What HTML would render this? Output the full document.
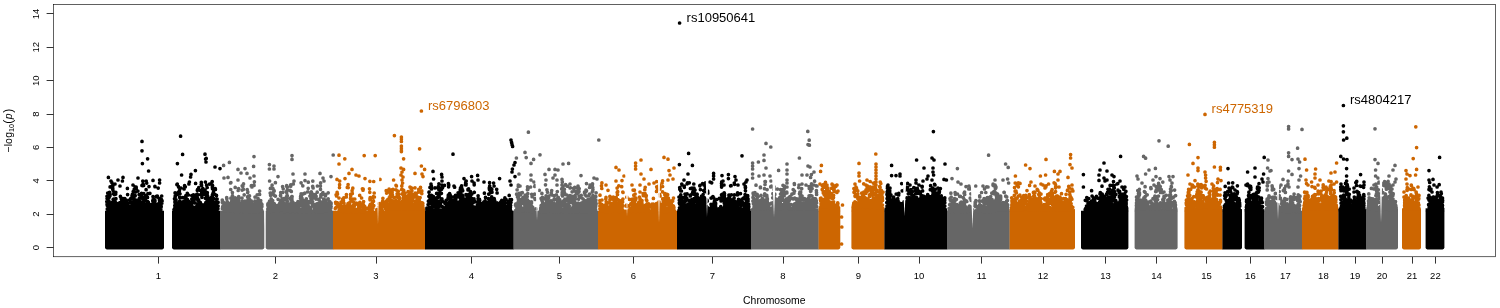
<!DOCTYPE html>
<html><head><meta charset="utf-8"><title>Manhattan plot</title>
<style>html,body{margin:0;padding:0;background:#fff;width:1500px;height:308px;overflow:hidden}</style></head>
<body>
<svg width="1500" height="308" viewBox="0 0 1500 308" style="display:block;position:absolute;left:0;top:0;will-change:transform;opacity:0.999">
<rect x="0" y="0" width="1500" height="308" fill="#fff"/>
<path d="M105.0 210.8V247.6Q105.0 249.4 106.8 249.4H162.2Q164.0 249.4 164.0 247.6V210.8Z" fill="#000000"/>
<path d="M172.0 210.8V247.6Q172.0 249.4 173.8 249.4H220.2V210.8Z" fill="#000000"/>
<path d="M220.0 210.8V249.4H262.4Q264.3 249.4 264.3 247.6V210.8Z" fill="#666666"/>
<path d="M265.7 210.8V247.6Q265.7 249.4 267.6 249.4H333.2V210.8Z" fill="#666666"/>
<path d="M333.0 210.8V249.4H425.2V210.8Z" fill="#CD6600"/>
<path d="M425.0 210.8V249.4H513.8V210.8Z" fill="#000000"/>
<path d="M513.6 210.8V249.4H598.2V210.8Z" fill="#666666"/>
<path d="M598.0 210.8V249.4H677.2V210.8Z" fill="#CD6600"/>
<path d="M677.0 210.8V249.4H751.2V210.8Z" fill="#000000"/>
<path d="M751.0 210.8V249.4H818.8V210.8Z" fill="#666666"/>
<path d="M818.6 210.8V249.4H838.4Q840.3 249.4 840.3 247.6V210.8Z" fill="#CD6600"/>
<path d="M851.4 210.8V247.6Q851.4 249.4 853.2 249.4H884.6V210.8Z" fill="#CD6600"/>
<path d="M884.4 210.8V249.4H947.2V210.8Z" fill="#000000"/>
<path d="M947.0 210.8V249.4H1009.8V210.8Z" fill="#666666"/>
<path d="M1009.6 210.8V249.4H1073.2Q1075.0 249.4 1075.0 247.6V210.8Z" fill="#CD6600"/>
<path d="M1081.0 210.8V247.6Q1081.0 249.4 1082.8 249.4H1126.6Q1128.4 249.4 1128.4 247.6V210.8Z" fill="#000000"/>
<path d="M1134.6 210.8V247.6Q1134.6 249.4 1136.4 249.4H1175.8Q1177.6 249.4 1177.6 247.6V210.8Z" fill="#666666"/>
<path d="M1184.4 210.8V247.6Q1184.4 249.4 1186.2 249.4H1222.6V210.8Z" fill="#CD6600"/>
<path d="M1222.4 210.8V249.4H1240.2Q1242.0 249.4 1242.0 247.6V210.8Z" fill="#000000"/>
<path d="M1244.6 210.8V247.6Q1244.6 249.4 1246.4 249.4H1264.6V210.8Z" fill="#000000"/>
<path d="M1264.4 210.8V249.4H1302.2V210.8Z" fill="#666666"/>
<path d="M1302.0 210.8V249.4H1338.6V210.8Z" fill="#CD6600"/>
<path d="M1338.4 210.8V249.4H1366.2V210.8Z" fill="#000000"/>
<path d="M1366.0 210.8V249.4H1396.2Q1398.0 249.4 1398.0 247.6V210.8Z" fill="#666666"/>
<path d="M1402.0 210.8V247.6Q1402.0 249.4 1403.8 249.4H1419.2Q1421.0 249.4 1421.0 247.6V210.8Z" fill="#CD6600"/>
<path d="M1425.6 210.8V247.6Q1425.6 249.4 1427.4 249.4H1442.6Q1444.4 249.4 1444.4 247.6V210.8Z" fill="#000000"/>
<rect x="385.0" y="208.3" width="40.0" height="3.0" fill="#CD6600"/>
<rect x="751.0" y="208.3" width="67.6" height="3.0" fill="#666666"/>
<rect x="818.6" y="206.6" width="21.7" height="4.7" fill="#CD6600"/>
<rect x="851.4" y="206.6" width="33.0" height="4.7" fill="#CD6600"/>
<rect x="884.4" y="208.3" width="62.6" height="3.0" fill="#000000"/>
<rect x="995.0" y="209.1" width="14.6" height="2.2" fill="#666666"/>
<rect x="1009.6" y="209.1" width="65.4" height="2.2" fill="#CD6600"/>
<rect x="1097.0" y="207.5" width="31.4" height="3.8" fill="#000000"/>
<rect x="1134.6" y="208.3" width="43.0" height="3.0" fill="#666666"/>
<rect x="1184.4" y="207.1" width="38.0" height="4.2" fill="#CD6600"/>
<rect x="1222.4" y="209.1" width="19.6" height="2.2" fill="#000000"/>
<rect x="1244.6" y="209.1" width="19.8" height="2.2" fill="#000000"/>
<rect x="1302.0" y="208.3" width="36.4" height="3.0" fill="#CD6600"/>
<rect x="1338.4" y="209.1" width="27.6" height="2.2" fill="#000000"/>
<rect x="1366.0" y="208.8" width="32.0" height="2.5" fill="#666666"/>
<rect x="1402.0" y="208.3" width="19.0" height="3.0" fill="#CD6600"/>
<rect x="1425.6" y="208.3" width="18.8" height="3.0" fill="#000000"/>
<path d="M124.8 206.5h0M124.8 207.1h0M111.9 209.3h0M160.8 209.8h0M113.4 209.2h0M113.6 209.8h0M144.5 204.3h0M145.5 208.1h0M145.3 208.5h0M155.3 209.3h0M143.8 202.3h0M110.1 186.9h0M109.5 192.4h0M109.9 202.6h0M154.6 201.0h0M154.7 202.8h0M154.8 207.1h0M127.3 211.3h0M115.2 199.4h0M115.3 202.1h0M115.1 203.3h0M153.8 206.8h0M112.5 203.3h0M108.1 203.9h0M108.2 210.8h0M161.0 207.3h0M125.1 210.3h0M131.6 211.6h0M117.7 208.7h0M151.1 205.8h0M151.5 207.0h0M114.9 211.5h0M158.5 210.8h0M121.2 198.8h0M121.6 206.9h0M156.9 211.1h0M116.4 209.6h0M122.2 207.4h0M159.0 208.0h0M158.8 209.2h0M120.2 209.1h0M143.4 210.9h0M130.7 198.6h0M130.7 206.0h0M130.7 202.3h0M141.4 194.4h0M141.9 197.2h0M141.5 197.2h0M114.0 211.1h0M111.8 209.3h0M158.7 209.0h0M131.9 207.9h0M115.8 192.3h0M115.9 198.7h0M115.7 194.1h0M120.7 209.7h0M112.7 206.4h0M109.9 195.0h0M110.0 195.8h0M153.4 206.8h0M121.4 211.5h0M121.2 211.5h0M134.7 203.4h0M134.9 208.1h0M109.2 197.3h0M109.4 208.8h0M108.9 200.9h0M142.4 210.5h0M139.1 209.2h0M139.1 210.5h0M153.1 208.7h0M143.3 208.0h0M121.5 201.7h0M121.2 202.4h0M115.0 208.1h0M114.9 208.6h0M145.1 203.9h0M145.8 205.9h0M107.8 210.4h0M159.1 205.1h0M119.6 202.9h0M134.0 197.2h0M153.3 211.2h0M153.0 210.8h0M127.5 210.9h0M147.7 203.2h0M147.9 204.8h0M147.9 204.8h0M134.3 211.0h0M111.9 182.7h0M111.9 202.7h0M129.7 199.9h0M122.2 198.6h0M121.9 201.5h0M121.9 201.2h0M159.6 210.0h0M146.1 206.9h0M128.5 210.4h0M146.8 209.9h0M119.7 206.4h0M120.8 207.3h0M135.9 200.2h0M135.1 203.5h0M142.5 202.7h0M142.7 202.9h0M142.4 209.0h0M142.2 205.4h0M143.8 193.7h0M143.9 204.3h0M147.7 201.7h0M148.2 204.0h0M134.3 202.2h0M135.0 206.8h0M134.4 204.4h0M109.7 205.8h0M109.8 210.1h0M109.6 210.1h0M109.9 205.8h0M122.3 211.1h0M122.0 211.6h0M133.0 210.6h0M132.6 211.0h0M108.8 210.6h0M148.6 208.8h0M119.8 211.4h0M134.1 200.9h0M133.8 204.5h0M134.5 201.7h0M134.1 203.0h0M133.9 201.6h0M108.7 204.6h0M108.3 205.5h0M108.7 210.0h0M108.4 207.0h0M144.1 210.6h0M153.4 208.1h0M153.6 210.7h0M120.4 210.9h0M151.6 211.5h0M131.7 210.1h0M139.8 202.0h0M118.1 208.4h0M144.4 197.6h0M144.1 198.6h0M144.6 206.9h0M111.9 209.3h0M126.6 210.7h0M118.1 211.0h0M127.4 188.4h0M127.6 194.6h0M127.6 203.4h0M113.9 211.5h0M158.1 211.0h0M119.1 210.6h0M113.7 209.6h0M137.9 191.1h0M140.0 206.0h0M139.9 211.4h0M141.1 202.5h0M141.1 208.4h0M141.3 203.6h0M111.9 203.5h0M149.9 193.3h0M150.3 211.1h0M149.8 208.8h0M117.6 207.2h0M126.3 200.0h0M126.2 206.4h0M115.8 209.2h0M116.0 210.3h0M136.2 205.2h0M136.6 208.0h0M126.8 201.8h0M120.9 211.5h0M135.2 187.2h0M135.1 187.2h0M126.6 208.2h0M114.3 194.6h0M142.1 210.1h0M142.6 211.2h0M149.9 207.9h0M117.9 207.4h0M118.0 210.8h0M123.5 210.9h0M147.9 193.7h0M147.5 197.4h0M148.3 210.6h0M121.5 211.2h0M119.9 211.3h0M143.6 206.9h0M143.7 210.2h0M144.0 207.6h0M143.7 207.9h0M158.2 188.1h0M145.2 209.4h0M139.5 210.4h0M112.8 185.2h0M112.4 186.2h0M112.8 186.1h0M112.6 188.7h0M113.0 190.3h0M112.8 188.2h0M146.4 204.5h0M146.0 209.4h0M146.6 208.4h0M154.5 209.2h0M118.0 211.4h0M122.5 209.4h0M142.1 210.1h0M142.1 210.4h0M156.7 205.5h0M148.6 206.4h0M116.2 210.0h0M132.4 194.3h0M132.0 195.9h0M132.2 196.9h0M132.7 195.9h0M125.0 211.5h0M160.1 205.6h0M160.2 210.1h0M159.6 205.9h0M145.2 208.8h0M140.2 209.7h0M154.0 208.8h0M120.7 206.7h0M115.7 211.3h0M138.6 209.5h0M113.6 199.2h0M113.3 199.3h0M145.5 195.6h0M145.6 210.4h0M145.5 200.2h0M145.6 209.4h0M151.6 206.9h0M123.1 198.5h0M123.1 202.9h0M123.4 200.4h0M107.0 196.3h0M106.8 201.5h0M126.9 209.7h0M143.1 184.0h0M143.6 185.5h0M142.8 185.7h0M156.1 210.1h0M119.8 203.1h0M119.7 209.3h0M134.4 209.9h0M134.1 210.6h0M108.4 209.2h0M108.3 209.5h0M154.5 206.9h0M152.6 210.4h0M160.8 208.8h0M109.1 210.9h0M123.5 201.2h0M123.1 210.2h0M123.2 203.4h0M123.0 211.3h0M123.6 202.2h0M116.9 210.0h0M158.5 204.8h0M151.7 211.1h0M128.3 211.2h0M107.1 198.4h0M154.9 186.3h0M155.0 186.7h0M154.8 199.9h0M147.2 208.7h0M142.8 181.1h0M142.8 199.2h0M133.7 205.3h0M130.0 210.1h0M130.4 210.7h0M125.2 211.5h0M156.4 196.4h0M156.7 204.5h0M109.2 210.3h0M151.5 210.5h0M137.5 201.5h0M137.5 204.2h0M148.4 202.3h0M148.9 210.2h0M148.0 209.0h0M133.2 191.5h0M132.9 195.7h0M135.5 192.0h0M135.3 201.2h0M150.4 205.4h0M151.0 205.7h0M133.7 203.2h0M133.7 203.5h0M133.8 205.2h0M133.9 203.7h0M134.0 210.7h0M157.2 208.4h0M159.9 208.0h0M160.8 209.6h0M159.7 210.3h0M159.9 208.4h0M156.8 209.5h0M157.1 210.9h0M124.8 198.5h0M124.6 199.9h0M144.3 207.6h0M158.2 211.2h0M153.4 202.1h0M153.8 204.4h0M153.3 202.6h0M153.1 203.5h0M155.0 200.9h0M154.7 202.6h0M113.2 193.6h0M113.1 199.5h0M118.0 211.6h0M156.4 207.8h0M107.0 203.9h0M107.2 205.3h0M146.2 181.0h0M146.7 183.1h0M146.1 189.7h0M139.1 194.5h0M138.6 209.8h0M139.4 198.2h0M134.1 211.0h0M139.7 207.5h0M152.0 204.5h0M151.9 211.1h0M136.2 187.2h0M136.2 188.2h0M108.5 207.3h0M140.0 207.6h0M134.1 196.3h0M134.7 204.5h0M154.5 208.1h0M152.5 205.7h0M152.7 209.4h0M153.1 210.9h0M157.3 209.6h0M157.6 210.3h0M160.5 211.2h0M120.7 206.4h0M113.5 211.4h0M114.1 200.8h0M114.2 208.0h0M153.3 208.1h0M132.8 194.5h0M132.7 194.6h0M132.9 198.5h0M137.6 203.7h0M137.5 204.4h0M128.3 207.9h0M128.3 209.5h0M140.9 210.4h0M141.4 210.4h0M160.1 206.1h0M128.1 210.1h0M111.7 204.5h0M111.7 209.6h0M111.7 205.0h0M138.1 211.1h0M135.9 205.4h0M135.8 210.8h0M161.0 203.6h0M161.2 206.7h0M160.8 210.1h0M161.0 205.4h0M150.4 207.2h0M150.0 209.2h0M121.6 207.7h0M121.6 209.2h0M116.3 210.4h0M116.4 210.5h0M149.5 207.6h0M149.8 208.6h0M126.1 200.1h0M125.9 202.8h0M126.7 200.5h0M125.9 203.6h0M140.2 207.2h0M119.1 210.8h0M137.9 207.7h0M138.0 208.9h0M120.4 196.4h0M143.6 199.9h0M121.8 198.7h0M121.5 202.7h0M121.2 210.4h0M118.4 203.4h0M121.3 208.3h0M121.4 210.5h0M135.2 203.4h0M135.1 206.8h0M135.4 207.9h0M153.9 206.7h0M154.0 209.9h0M153.8 207.3h0M113.8 203.7h0M114.0 206.6h0M113.6 203.9h0M113.4 207.6h0M113.6 208.6h0M120.6 205.1h0M115.8 204.1h0M124.0 200.8h0M123.9 206.1h0M123.8 200.8h0M153.0 196.5h0M153.4 199.1h0M153.3 198.7h0M157.4 196.2h0M157.7 197.1h0M157.4 207.0h0M141.6 193.3h0M141.0 206.5h0M141.4 193.7h0M141.1 196.1h0M137.1 208.8h0M124.0 209.5h0M131.5 199.0h0M131.2 206.6h0M137.2 200.4h0M137.6 203.6h0M137.2 204.5h0M137.3 203.5h0M137.1 202.5h0M113.1 206.9h0M112.8 207.0h0M161.7 196.0h0M161.5 202.2h0M161.8 203.2h0M107.3 208.9h0M107.4 211.5h0M153.3 201.0h0M152.8 204.7h0M117.1 204.5h0M116.7 204.9h0M134.2 189.3h0M133.8 200.0h0M115.9 211.3h0M131.2 207.7h0M131.1 211.5h0M115.9 206.5h0M115.8 207.3h0M160.6 210.7h0M133.4 197.1h0M133.3 199.0h0M111.6 205.4h0M111.3 210.0h0M111.8 206.5h0M137.2 209.8h0M136.2 207.1h0M136.8 208.2h0M135.2 195.7h0M131.2 207.9h0M152.8 200.5h0M152.8 201.1h0M107.7 193.0h0M108.0 200.6h0M107.6 205.5h0M107.7 196.8h0M152.5 205.4h0M152.0 206.4h0M113.1 206.9h0M151.1 204.5h0M159.3 198.7h0M159.5 200.5h0M158.9 203.3h0M159.6 204.6h0M128.6 205.7h0M139.4 200.5h0M139.8 204.5h0M139.4 204.2h0M108.0 211.5h0M144.0 203.5h0M144.9 210.4h0M108.7 210.0h0M123.7 209.7h0M161.5 199.5h0M162.1 200.9h0M131.9 204.8h0M131.9 208.1h0M123.9 207.9h0M123.1 209.7h0M110.6 210.4h0M121.7 202.1h0M147.4 205.5h0M147.3 207.4h0M118.6 209.8h0M118.5 210.4h0M125.3 205.4h0M109.9 207.7h0M115.5 208.4h0M121.1 209.9h0M121.0 211.2h0M120.7 210.0h0M149.7 211.5h0M114.3 207.3h0M114.5 208.8h0M115.8 208.6h0M115.8 209.7h0M142.5 209.9h0M187.1 202.0h0M212.1 203.3h0M211.7 209.4h0M200.3 208.2h0M217.0 210.5h0M204.1 204.8h0M204.2 207.3h0M203.7 205.2h0M204.1 211.3h0M178.5 211.5h0M179.9 200.8h0M206.6 185.2h0M207.2 187.5h0M206.4 197.3h0M185.9 195.6h0M196.4 207.9h0M204.3 207.8h0M205.2 207.9h0M200.9 194.4h0M211.2 210.5h0M206.9 207.4h0M197.2 206.9h0M197.4 209.8h0M205.8 202.7h0M214.9 207.6h0M213.5 191.9h0M213.0 193.4h0M213.7 194.5h0M209.4 202.1h0M209.6 208.0h0M190.1 202.6h0M190.2 202.8h0M176.4 207.6h0M177.9 209.8h0M177.6 210.2h0M209.8 205.6h0M210.0 209.9h0M190.7 207.2h0M211.0 206.9h0M175.6 207.9h0M175.3 210.2h0M177.3 184.0h0M177.2 194.5h0M176.9 184.6h0M204.5 208.2h0M186.0 197.6h0M185.8 198.1h0M176.2 205.4h0M176.5 207.5h0M176.1 207.7h0M176.0 210.8h0M200.1 211.2h0M202.2 209.9h0M195.9 206.9h0M196.0 209.0h0M208.6 206.1h0M208.7 207.6h0M208.6 206.6h0M210.9 202.5h0M211.0 206.1h0M209.3 200.3h0M209.1 207.6h0M208.8 201.2h0M192.9 198.0h0M214.8 211.2h0M195.8 196.7h0M195.8 198.1h0M195.9 199.0h0M200.4 204.9h0M200.3 208.6h0M193.8 208.0h0M200.2 190.3h0M202.5 205.0h0M202.8 206.7h0M212.5 188.7h0M212.4 194.9h0M194.6 207.7h0M182.9 202.6h0M182.9 210.4h0M204.4 208.2h0M213.3 205.0h0M213.3 207.6h0M204.5 204.9h0M204.7 205.7h0M184.7 207.0h0M184.7 209.0h0M217.1 210.2h0M206.9 210.5h0M206.7 211.6h0M211.0 201.4h0M204.2 205.7h0M204.6 205.9h0M192.4 202.2h0M201.3 182.3h0M201.8 192.8h0M201.4 184.2h0M201.6 185.2h0M201.2 184.6h0M213.3 210.9h0M213.6 210.9h0M185.0 197.2h0M184.9 206.2h0M185.2 202.6h0M203.1 205.5h0M203.4 206.0h0M193.7 210.9h0M213.3 208.3h0M191.2 206.3h0M191.8 211.3h0M203.8 211.4h0M180.0 210.1h0M176.2 205.6h0M176.5 210.9h0M178.7 205.8h0M208.3 199.8h0M207.9 202.7h0M208.9 206.7h0M208.2 202.9h0M208.0 210.4h0M207.5 211.1h0M203.9 209.1h0M189.0 209.0h0M213.8 198.6h0M213.7 206.5h0M213.6 203.3h0M208.8 199.7h0M209.1 210.9h0M208.8 208.4h0M208.9 208.2h0M209.0 202.1h0M178.0 211.5h0M180.0 193.8h0M180.2 209.9h0M180.1 202.9h0M188.9 204.8h0M175.1 201.3h0M174.9 207.9h0M188.4 195.0h0M194.0 209.5h0M186.4 209.7h0M198.7 211.5h0M199.0 211.6h0M201.9 197.3h0M209.5 184.1h0M208.3 211.6h0M205.3 211.5h0M205.4 211.6h0M205.2 211.6h0M175.8 204.1h0M175.8 206.2h0M176.4 208.5h0M178.5 186.7h0M178.9 192.0h0M178.7 187.2h0M178.1 192.5h0M205.5 208.9h0M200.4 202.6h0M206.7 196.7h0M206.3 197.2h0M184.5 202.1h0M185.0 203.6h0M184.6 203.1h0M209.6 203.6h0M209.8 211.0h0M198.0 200.5h0M179.3 201.7h0M217.1 199.0h0M216.8 203.3h0M217.1 202.4h0M216.9 207.6h0M178.9 208.4h0M214.3 207.6h0M214.5 210.3h0M214.1 210.9h0M214.5 208.5h0M193.5 209.0h0M193.4 211.6h0M193.5 211.4h0M208.2 210.2h0M210.4 208.7h0M191.9 209.3h0M183.3 210.5h0M175.1 192.8h0M175.3 203.6h0M175.2 196.1h0M175.1 192.9h0M175.2 196.9h0M195.7 207.1h0M195.8 208.1h0M187.3 209.3h0M175.2 202.3h0M175.7 202.4h0M175.4 204.2h0M203.1 206.6h0M178.2 205.6h0M178.1 206.2h0M174.5 198.8h0M174.8 205.6h0M178.8 208.9h0M178.8 210.9h0M202.3 210.0h0M202.1 210.2h0M205.4 198.2h0M205.5 203.5h0M189.8 211.2h0M183.7 208.0h0M212.2 181.6h0M212.3 187.1h0M212.3 185.1h0M212.6 185.7h0M179.2 202.8h0M202.8 188.3h0M202.4 194.6h0M202.5 189.7h0M209.5 209.7h0M209.1 210.5h0M183.5 201.7h0M183.7 209.7h0M203.9 211.0h0M218.1 202.3h0M218.1 206.1h0M190.4 209.4h0M198.7 187.7h0M216.4 199.1h0M216.6 201.6h0M216.7 204.6h0M192.0 209.0h0M192.1 209.5h0M191.9 209.2h0M212.4 207.6h0M213.2 210.2h0M216.5 195.4h0M216.5 206.2h0M190.1 206.9h0M189.6 207.0h0M202.5 211.4h0M216.4 202.4h0M216.7 204.8h0M216.4 204.7h0M216.5 203.8h0M191.8 195.6h0M192.0 200.8h0M192.1 195.7h0M192.0 205.9h0M216.5 210.5h0M211.5 205.2h0M197.5 195.9h0M185.6 211.5h0M215.3 188.6h0M215.2 194.6h0M215.4 189.4h0M181.0 208.7h0M198.7 199.9h0M198.5 207.9h0M182.3 210.3h0M182.4 197.6h0M182.3 202.7h0M197.5 189.7h0M197.3 199.1h0M213.8 204.3h0M213.4 206.6h0M208.0 209.5h0M208.2 210.4h0M176.0 199.7h0M175.7 200.9h0M176.0 203.9h0M205.6 208.6h0M191.0 203.0h0M190.9 208.9h0M190.3 211.2h0M202.1 190.9h0M201.9 196.7h0M176.9 210.0h0M191.3 211.2h0M210.8 200.6h0M211.1 201.8h0M184.6 185.7h0M184.1 188.9h0M184.7 197.9h0M184.9 187.0h0M185.3 186.8h0M184.5 201.1h0M185.2 211.5h0M210.3 205.0h0M210.5 209.3h0M210.1 208.9h0M183.9 206.0h0M207.3 203.0h0M207.3 210.1h0M207.4 206.7h0M211.2 210.1h0M188.9 183.9h0M206.7 206.8h0M206.4 210.2h0M212.6 197.5h0M212.4 201.6h0M213.0 201.6h0M179.4 190.5h0M179.3 191.4h0M179.6 197.3h0M189.6 209.8h0M188.4 201.1h0M182.0 207.9h0M181.3 208.1h0M198.7 208.7h0M177.9 204.8h0M177.9 211.5h0M177.4 206.6h0M182.8 209.6h0M193.5 194.9h0M193.7 200.5h0M202.1 204.8h0M201.8 206.4h0M187.3 193.3h0M187.5 199.7h0M182.0 206.5h0M182.1 207.2h0M189.5 205.1h0M199.2 210.6h0M190.1 210.2h0M175.0 207.0h0M188.6 208.5h0M197.7 204.7h0M204.4 191.8h0M204.9 194.2h0M176.4 209.7h0M207.2 211.4h0M179.4 209.5h0M181.0 208.5h0M181.8 205.0h0M197.3 190.3h0M197.2 194.0h0M197.9 194.9h0M197.5 197.8h0M192.2 208.1h0M192.6 211.0h0M192.2 211.6h0M207.4 205.7h0M180.5 208.1h0M180.6 209.2h0M185.2 206.4h0M184.8 209.4h0M215.6 206.3h0M216.0 207.7h0M197.8 198.8h0M175.3 196.2h0M174.9 202.0h0M206.2 210.8h0M209.9 201.0h0M194.8 202.9h0M194.4 209.9h0M211.7 197.0h0M212.1 202.7h0M211.6 198.6h0M191.8 199.1h0M191.4 203.3h0M198.4 205.3h0M198.6 208.7h0M198.4 206.5h0M186.4 208.0h0M198.4 203.4h0M199.1 203.9h0M198.6 208.5h0M198.3 211.2h0M197.8 203.5h0M198.7 211.6h0M198.4 205.3h0M210.7 210.8h0M211.0 211.4h0M210.6 197.8h0M210.2 201.9h0M217.9 208.7h0M206.0 205.2h0M205.4 206.8h0M180.5 209.0h0M180.5 209.5h0M192.6 208.3h0M183.7 210.5h0M183.9 211.2h0M183.8 211.4h0M196.5 194.6h0M205.1 190.0h0M211.4 200.0h0M196.3 197.3h0M195.9 207.4h0M196.5 198.2h0M213.8 202.2h0M185.6 202.2h0M185.6 202.8h0M186.3 209.4h0M178.3 203.0h0M178.3 209.1h0M179.5 209.4h0M188.1 208.2h0M188.4 211.2h0M174.0 209.6h0M205.6 205.6h0M175.7 210.8h0M190.4 205.2h0M182.1 203.5h0M181.9 210.1h0M182.2 208.2h0M205.2 207.0h0M205.1 211.1h0M207.3 192.6h0M207.5 195.6h0M207.2 193.2h0M206.9 199.5h0M209.5 198.5h0M208.8 201.4h0M209.3 204.6h0M212.3 201.2h0M212.8 204.2h0M212.0 204.9h0M211.6 201.4h0M211.7 209.7h0M185.2 205.7h0M190.3 204.7h0M190.1 204.9h0M186.9 210.7h0M188.1 204.6h0M188.0 206.8h0M188.4 208.7h0M213.8 211.5h0M185.8 207.0h0M190.7 208.7h0M190.7 209.7h0M439.2 211.5h0M440.0 210.8h0M439.7 210.9h0M446.7 204.2h0M447.1 205.5h0M446.5 209.6h0M446.6 206.1h0M446.5 209.9h0M439.7 211.4h0M476.7 207.2h0M476.7 209.3h0M467.6 211.2h0M468.0 189.3h0M468.0 190.0h0M467.6 196.4h0M484.9 205.9h0M448.1 197.3h0M451.3 207.2h0M451.4 210.8h0M451.1 210.1h0M451.1 208.5h0M468.6 210.8h0M436.6 193.4h0M496.8 209.0h0M496.9 211.6h0M449.6 193.5h0M447.0 200.1h0M446.7 210.6h0M446.5 208.8h0M438.9 183.8h0M439.0 205.1h0M438.8 187.5h0M438.8 189.6h0M459.5 206.2h0M465.4 184.7h0M465.6 199.1h0M462.3 195.0h0M462.4 202.8h0M461.8 208.3h0M462.2 195.2h0M497.3 210.7h0M486.1 205.3h0M486.2 210.4h0M485.7 211.6h0M465.4 210.9h0M448.7 210.3h0M493.2 204.6h0M493.2 207.9h0M485.7 209.8h0M435.0 187.9h0M435.2 202.8h0M502.7 211.0h0M456.5 210.7h0M493.6 210.1h0M449.1 208.6h0M493.0 205.6h0M471.1 209.8h0M497.9 207.7h0M466.1 202.2h0M478.1 198.8h0M478.4 203.9h0M479.7 207.8h0M479.6 209.7h0M462.3 205.6h0M462.4 205.9h0M462.6 210.8h0M438.4 202.8h0M438.7 205.2h0M455.5 195.4h0M455.9 197.0h0M434.1 209.9h0M434.1 210.0h0M433.8 210.8h0M457.7 208.6h0M457.8 211.0h0M454.1 196.9h0M454.1 208.9h0M454.2 204.7h0M453.4 206.0h0M431.1 185.7h0M431.4 195.3h0M431.4 187.0h0M431.5 189.0h0M431.3 186.6h0M447.5 203.9h0M448.2 205.8h0M447.5 207.5h0M435.7 202.2h0M469.4 208.0h0M487.0 203.8h0M486.4 210.0h0M428.1 204.5h0M445.8 206.9h0M445.8 207.3h0M445.5 210.0h0M446.1 207.6h0M503.7 209.8h0M485.1 200.8h0M455.9 196.1h0M455.8 199.6h0M477.2 202.0h0M480.3 211.0h0M480.8 211.1h0M448.5 204.9h0M433.1 201.8h0M433.1 204.4h0M433.2 210.2h0M433.0 202.9h0M436.7 204.6h0M436.4 206.6h0M436.6 206.5h0M445.4 211.2h0M471.5 206.0h0M471.9 206.6h0M452.8 205.5h0M488.9 204.4h0M488.7 207.4h0M442.6 187.6h0M446.7 209.6h0M488.4 205.2h0M488.4 206.9h0M488.3 208.4h0M453.2 204.1h0M453.2 208.1h0M490.3 205.7h0M490.2 207.7h0M446.3 208.6h0M439.4 205.7h0M439.3 209.5h0M438.1 204.5h0M438.0 204.8h0M436.2 202.6h0M438.8 201.4h0M434.9 206.4h0M434.4 211.3h0M506.1 199.6h0M462.2 207.3h0M461.8 209.7h0M454.4 207.2h0M468.3 201.6h0M478.8 208.8h0M464.2 210.3h0M470.5 206.5h0M470.5 210.9h0M470.5 208.5h0M438.4 210.8h0M462.3 210.6h0M477.9 201.8h0M478.0 206.4h0M496.9 206.7h0M494.6 202.0h0M494.4 202.1h0M454.3 201.1h0M454.2 211.4h0M458.4 206.6h0M458.6 210.9h0M442.7 211.5h0M442.3 211.5h0M499.6 209.6h0M499.8 211.5h0M429.9 196.4h0M430.1 208.0h0M430.0 198.3h0M460.7 209.7h0M467.2 209.5h0M467.6 211.6h0M475.1 209.8h0M473.3 211.6h0M456.3 211.0h0M482.1 203.7h0M482.1 205.3h0M481.8 207.4h0M497.5 204.6h0M497.1 206.3h0M497.5 209.2h0M507.3 207.3h0M506.8 210.7h0M474.0 198.9h0M474.0 200.7h0M474.1 201.4h0M473.6 200.6h0M493.9 209.2h0M476.7 209.6h0M485.5 197.4h0M428.5 210.4h0M428.6 211.2h0M457.7 210.2h0M507.9 208.9h0M508.1 209.4h0M508.0 211.2h0M448.0 206.1h0M447.5 208.3h0M429.8 199.8h0M450.1 211.0h0M501.6 210.2h0M471.0 207.7h0M471.4 207.9h0M491.8 189.2h0M492.0 192.2h0M504.3 202.4h0M504.2 206.9h0M447.2 209.2h0M472.3 202.7h0M472.8 203.0h0M472.6 203.0h0M450.0 204.9h0M450.2 209.0h0M463.6 208.4h0M463.9 209.8h0M482.7 207.5h0M482.5 208.4h0M494.1 206.4h0M494.3 206.9h0M455.7 203.1h0M455.9 210.5h0M449.5 195.7h0M449.7 208.4h0M479.7 202.8h0M461.7 201.1h0M461.9 203.4h0M461.7 203.8h0M465.5 204.4h0M426.9 208.0h0M426.9 210.0h0M426.9 209.5h0M426.9 208.6h0M481.0 210.8h0M436.8 208.0h0M436.4 209.6h0M446.2 200.3h0M430.0 187.4h0M429.6 195.3h0M467.1 209.2h0M467.5 209.6h0M436.3 202.6h0M436.6 208.2h0M450.5 202.3h0M470.9 210.2h0M494.2 198.6h0M494.6 200.9h0M494.7 200.5h0M441.4 193.3h0M441.3 199.6h0M441.4 210.3h0M507.1 208.0h0M506.9 210.8h0M511.0 202.3h0M510.6 205.4h0M461.3 206.1h0M461.3 209.4h0M461.2 207.7h0M438.0 204.9h0M437.8 208.8h0M437.8 207.8h0M437.8 209.4h0M483.2 209.4h0M437.6 206.0h0M437.7 206.8h0M429.1 202.8h0M429.1 207.3h0M457.4 202.1h0M433.9 198.9h0M433.4 200.2h0M433.7 201.2h0M508.0 210.3h0M508.1 211.3h0M503.2 204.8h0M502.6 207.2h0M503.3 209.4h0M503.0 206.9h0M503.2 205.6h0M435.7 198.1h0M435.9 203.5h0M435.6 202.6h0M510.4 207.4h0M510.2 207.8h0M504.4 205.8h0M504.3 206.1h0M454.6 208.0h0M488.7 205.4h0M488.1 208.1h0M459.9 207.4h0M459.9 209.1h0M452.3 211.2h0M460.5 192.8h0M460.0 197.5h0M459.8 194.3h0M461.1 197.7h0M460.2 208.5h0M502.0 207.6h0M483.8 210.8h0M448.4 210.2h0M448.9 211.6h0M444.5 210.5h0M497.7 210.7h0M467.9 203.5h0M473.6 206.9h0M458.5 206.9h0M458.1 208.5h0M497.1 208.1h0M488.3 202.4h0M488.2 208.1h0M488.6 210.8h0M451.1 196.5h0M445.2 209.1h0M427.1 211.4h0M427.7 210.0h0M448.2 203.7h0M448.3 207.2h0M448.5 204.8h0M447.8 207.2h0M482.0 211.6h0M460.4 206.1h0M467.0 210.7h0M466.9 211.1h0M509.3 207.9h0M509.6 210.1h0M509.2 210.2h0M509.6 211.1h0M477.6 204.4h0M477.2 205.4h0M477.5 209.3h0M440.3 192.5h0M440.0 194.0h0M440.5 203.8h0M433.9 211.6h0M501.2 209.0h0M496.7 189.3h0M497.1 192.9h0M468.6 204.6h0M468.2 209.8h0M431.7 196.0h0M431.9 198.2h0M483.3 206.0h0M483.5 206.4h0M429.1 192.1h0M429.2 201.3h0M429.0 192.2h0M429.2 202.8h0M428.9 196.3h0M450.4 199.7h0M451.1 204.9h0M437.2 211.6h0M494.1 186.0h0M494.1 205.0h0M508.1 206.4h0M508.2 210.5h0M441.9 198.8h0M442.2 200.5h0M486.7 203.0h0M487.1 206.1h0M508.2 209.4h0M466.2 200.4h0M454.8 206.6h0M452.6 206.9h0M452.4 207.1h0M509.2 211.4h0M428.4 201.2h0M428.0 208.1h0M452.6 207.0h0M427.8 211.5h0M452.6 207.0h0M452.5 208.2h0M454.6 187.2h0M431.9 209.3h0M507.9 206.6h0M508.5 206.8h0M507.7 207.4h0M511.5 199.7h0M445.1 211.6h0M466.7 210.3h0M494.5 203.3h0M494.7 208.3h0M491.5 199.2h0M491.4 202.0h0M504.9 197.9h0M504.7 199.3h0M453.1 211.2h0M501.0 210.4h0M483.3 209.3h0M483.9 209.7h0M505.8 203.1h0M505.7 206.4h0M485.2 205.1h0M484.9 208.7h0M485.0 208.3h0M440.2 205.0h0M452.6 211.3h0M498.0 203.9h0M498.3 205.9h0M432.5 199.5h0M503.0 202.0h0M503.3 205.5h0M479.5 199.4h0M479.3 211.5h0M479.6 203.1h0M479.2 203.7h0M494.1 210.0h0M497.1 208.8h0M497.4 211.1h0M484.6 210.4h0M508.7 207.3h0M448.7 210.7h0M450.7 210.8h0M455.9 209.6h0M456.0 210.0h0M463.3 208.9h0M463.3 211.0h0M463.4 211.5h0M473.1 210.4h0M473.4 211.1h0M500.3 204.2h0M500.4 206.2h0M500.7 208.7h0M437.1 210.8h0M437.0 211.3h0M461.6 185.9h0M461.3 187.5h0M489.2 203.8h0M489.0 211.0h0M470.5 191.5h0M470.6 203.4h0M470.5 196.3h0M458.8 210.0h0M469.0 205.5h0M469.1 209.0h0M469.3 208.3h0M434.2 211.3h0M500.8 201.8h0M501.0 206.3h0M500.9 204.2h0M429.9 211.2h0M448.1 210.3h0M504.8 203.0h0M504.3 210.8h0M504.8 203.9h0M435.2 210.5h0M435.6 210.8h0M481.1 207.0h0M481.3 207.2h0M480.8 207.3h0M442.4 201.5h0M442.3 206.7h0M443.1 207.7h0M476.5 210.4h0M445.8 201.3h0M445.5 202.6h0M445.7 208.7h0M449.9 194.9h0M450.0 198.4h0M445.6 210.2h0M465.8 205.4h0M465.7 207.5h0M437.1 203.1h0M437.6 203.9h0M437.3 203.9h0M458.1 192.8h0M458.1 202.5h0M470.1 209.6h0M470.6 210.3h0M462.4 210.5h0M461.7 210.9h0M460.9 187.7h0M460.7 193.3h0M461.3 207.8h0M460.9 203.2h0M431.0 203.6h0M431.2 203.8h0M431.5 208.4h0M451.1 208.3h0M451.3 209.6h0M468.6 210.8h0M468.9 211.2h0M456.4 209.0h0M459.6 209.7h0M488.0 210.2h0M488.7 194.1h0M488.8 194.2h0M489.1 203.6h0M488.5 198.6h0M453.4 201.4h0M453.1 209.4h0M505.6 209.2h0M505.5 211.6h0M510.2 203.2h0M452.3 210.4h0M494.1 207.9h0M451.3 207.4h0M450.7 210.3h0M485.1 206.1h0M485.0 209.4h0M492.5 204.4h0M492.8 210.8h0M492.6 205.1h0M510.0 205.9h0M444.9 203.3h0M489.6 182.7h0M489.3 187.9h0M489.9 188.3h0M453.9 204.3h0M453.8 207.3h0M458.0 202.5h0M451.9 206.5h0M446.6 210.9h0M444.5 185.3h0M485.4 203.5h0M485.4 210.1h0M442.5 207.0h0M442.6 211.5h0M450.8 197.9h0M451.0 199.1h0M439.4 195.0h0M439.4 210.0h0M439.3 197.0h0M444.0 208.1h0M497.9 203.4h0M497.3 211.6h0M456.4 211.4h0M452.9 208.1h0M453.1 208.8h0M469.2 207.1h0M468.9 209.7h0M428.9 210.4h0M474.1 183.1h0M474.3 207.8h0M474.2 184.8h0M474.3 201.9h0M451.1 208.5h0M430.2 196.6h0M430.0 201.3h0M437.6 210.0h0M437.8 193.3h0M437.6 197.4h0M438.1 194.4h0M437.6 201.2h0M458.7 206.1h0M510.8 211.2h0M456.5 206.0h0M456.6 208.0h0M435.7 203.1h0M436.1 205.3h0M435.8 210.0h0M471.8 194.1h0M471.9 202.0h0M450.2 195.1h0M450.2 198.5h0M510.0 200.7h0M440.4 205.8h0M493.8 204.1h0M493.7 208.0h0M494.3 205.9h0M467.5 208.4h0M467.7 210.9h0M478.9 204.5h0M441.5 187.8h0M441.6 189.2h0M441.3 199.3h0M441.6 188.3h0M485.3 207.3h0M462.7 190.7h0M462.5 199.5h0M462.9 196.7h0M454.4 199.3h0M508.5 211.1h0M458.3 195.6h0M458.4 209.7h0M458.2 196.6h0M499.6 206.8h0M499.6 208.1h0M498.4 208.0h0M498.5 208.0h0M501.4 208.3h0M471.5 198.4h0M471.9 210.2h0M470.6 200.8h0M454.6 207.3h0M454.5 208.3h0M454.3 208.9h0M448.4 211.3h0M501.8 200.3h0M502.4 207.3h0M489.1 200.8h0M488.8 207.0h0M489.0 203.9h0M489.0 203.1h0M508.6 201.7h0M429.7 207.9h0M429.2 210.2h0M437.2 211.2h0M437.5 211.4h0M438.9 206.5h0M451.2 210.0h0M506.7 208.8h0M498.4 208.6h0M498.7 211.5h0M486.0 209.2h0M456.9 196.6h0M456.6 197.2h0M456.9 207.6h0M430.6 203.3h0M474.2 192.3h0M474.3 192.3h0M474.6 201.2h0M459.9 204.0h0M496.5 205.4h0M457.5 205.2h0M457.4 205.2h0M443.7 210.6h0M431.7 207.2h0M498.1 203.6h0M497.7 208.1h0M498.4 208.7h0M456.8 209.7h0M435.6 208.8h0M463.1 207.7h0M463.3 210.4h0M479.7 200.3h0M479.6 201.4h0M479.4 202.5h0M464.6 210.9h0M464.0 211.4h0M466.2 181.0h0M466.3 195.2h0M466.1 183.8h0M466.0 194.5h0M465.7 182.3h0M461.6 187.8h0M469.3 196.6h0M468.3 207.2h0M469.7 202.4h0M478.9 199.6h0M478.9 202.2h0M484.4 193.2h0M483.8 202.0h0M484.3 211.1h0M448.9 211.4h0M468.4 197.3h0M468.4 199.1h0M468.4 198.7h0M444.2 209.1h0M453.6 210.9h0M453.5 211.4h0M446.5 203.7h0M446.3 207.8h0M489.7 186.1h0M489.4 189.0h0M489.6 189.8h0M490.5 188.4h0M489.5 189.5h0M490.2 192.7h0M449.6 202.5h0M449.8 207.0h0M449.0 207.1h0M449.7 202.8h0M449.5 205.8h0M494.7 210.1h0M509.3 206.7h0M442.2 211.0h0M451.0 200.3h0M450.9 202.2h0M451.2 206.0h0M460.3 201.0h0M460.6 202.3h0M474.3 208.6h0M509.2 195.4h0M508.9 204.8h0M438.3 186.7h0M438.2 188.1h0M448.4 183.6h0M448.6 186.8h0M448.8 184.9h0M448.3 195.2h0M492.0 211.2h0M433.3 196.3h0M433.4 203.0h0M478.8 206.0h0M478.7 209.1h0M451.4 210.6h0M452.3 210.7h0M440.3 210.0h0M471.2 201.1h0M471.2 206.3h0M448.6 203.7h0M502.7 210.9h0M503.2 211.5h0M438.1 194.2h0M436.2 200.1h0M436.3 202.1h0M436.3 203.2h0M436.6 207.5h0M436.4 206.5h0M452.7 205.9h0M452.7 207.6h0M452.6 211.6h0M475.4 210.3h0M459.8 210.1h0M440.8 211.1h0M485.2 205.7h0M484.3 211.6h0M484.9 206.8h0M431.4 186.0h0M431.4 187.9h0M433.5 203.9h0M433.2 205.3h0M428.3 210.2h0M476.6 210.7h0M437.1 211.0h0M465.5 199.6h0M465.1 201.3h0M465.2 208.7h0M471.0 211.6h0M465.3 208.5h0M488.3 207.3h0M488.3 204.5h0M487.9 207.2h0M488.3 207.9h0M462.0 188.8h0M462.1 191.0h0M461.9 190.5h0M461.4 196.2h0M499.6 206.6h0M491.7 196.9h0M491.7 207.9h0M485.5 204.0h0M481.7 205.0h0M493.1 208.7h0M470.9 201.9h0M471.3 202.5h0M471.2 208.2h0M446.8 206.4h0M447.1 210.7h0M495.5 211.3h0M499.2 209.7h0M463.5 211.4h0M502.9 207.5h0M487.2 204.1h0M432.2 211.3h0M445.5 211.4h0M490.2 207.7h0M490.4 210.3h0M434.4 205.8h0M445.9 208.1h0M506.0 209.9h0M505.9 210.0h0M506.2 211.0h0M488.4 204.4h0M488.8 209.9h0M488.3 204.7h0M496.2 202.8h0M496.3 207.0h0M496.1 205.6h0M450.5 211.2h0M493.8 199.0h0M453.9 200.0h0M453.8 201.2h0M454.4 203.6h0M454.2 203.9h0M460.5 188.1h0M460.2 189.9h0M460.5 199.9h0M460.6 191.3h0M460.3 192.6h0M480.7 211.6h0M435.1 210.0h0M437.5 210.8h0M510.0 199.6h0M468.6 188.9h0M468.8 194.4h0M472.3 207.8h0M471.7 210.2h0M450.0 196.5h0M427.8 210.3h0M427.3 211.3h0M438.1 210.2h0M447.9 208.3h0M447.8 211.5h0M506.4 208.7h0M478.1 195.8h0M510.0 203.5h0M510.3 209.4h0M510.0 208.3h0M459.6 206.5h0M434.8 210.2h0M455.2 210.7h0M455.4 211.0h0M484.6 201.7h0M484.8 211.4h0M452.9 210.3h0M456.1 210.3h0M497.2 203.0h0M497.0 207.7h0M465.8 206.7h0M454.4 208.6h0M467.8 202.5h0M467.9 205.5h0M468.7 209.5h0M698.4 204.8h0M698.2 211.6h0M698.4 211.4h0M703.6 209.1h0M704.0 211.5h0M688.8 207.4h0M689.1 209.1h0M745.0 204.8h0M745.4 205.8h0M687.7 207.2h0M687.6 208.0h0M739.7 208.9h0M739.6 211.1h0M705.1 198.5h0M705.1 200.2h0M716.9 210.3h0M731.5 208.9h0M706.2 207.5h0M691.0 207.8h0M683.1 211.5h0M682.5 211.3h0M714.9 199.8h0M718.2 208.9h0M733.4 209.5h0M696.2 207.3h0M696.6 207.6h0M748.4 210.1h0M748.8 210.5h0M691.1 202.9h0M690.4 188.5h0M690.4 195.1h0M689.7 203.3h0M690.3 195.9h0M687.5 182.9h0M687.1 183.8h0M687.1 193.9h0M688.3 208.9h0M688.0 210.4h0M743.1 209.0h0M734.1 198.0h0M734.7 202.8h0M728.7 210.0h0M741.2 210.7h0M699.6 204.8h0M725.7 204.5h0M725.3 205.7h0M680.8 203.8h0M703.8 208.4h0M684.8 206.6h0M685.0 194.1h0M681.8 184.0h0M682.2 201.0h0M747.7 196.6h0M748.1 200.9h0M722.2 208.3h0M748.9 211.3h0M700.1 185.3h0M699.8 185.8h0M693.2 209.5h0M712.2 208.1h0M712.1 209.5h0M746.7 207.8h0M747.1 211.5h0M746.7 210.0h0M691.8 202.5h0M732.9 203.9h0M733.0 210.7h0M732.9 205.5h0M715.2 204.9h0M715.4 206.3h0M715.0 210.1h0M745.8 209.9h0M684.8 211.3h0M693.6 205.3h0M693.5 207.2h0M693.8 211.6h0M727.3 203.3h0M735.3 208.3h0M746.0 203.2h0M746.4 207.3h0M746.0 203.8h0M740.2 200.8h0M680.6 208.7h0M738.1 208.0h0M737.5 208.4h0M738.0 211.4h0M748.7 204.2h0M748.6 205.6h0M748.8 206.7h0M736.5 210.3h0M683.5 202.0h0M724.3 211.4h0M696.4 199.2h0M696.5 210.5h0M696.9 207.1h0M694.3 199.6h0M693.8 211.2h0M694.7 199.9h0M700.2 203.5h0M699.9 210.7h0M696.5 207.1h0M731.4 194.8h0M731.8 204.5h0M731.6 200.4h0M694.0 208.3h0M693.8 210.4h0M696.1 201.3h0M730.9 208.6h0M724.4 197.6h0M724.3 203.3h0M703.7 208.7h0M733.1 199.6h0M733.4 201.6h0M732.9 200.7h0M732.8 202.6h0M734.0 205.5h0M685.1 210.0h0M737.5 206.4h0M703.7 190.7h0M703.1 194.5h0M686.7 200.0h0M685.7 208.3h0M747.0 205.0h0M746.8 208.2h0M727.6 209.3h0M728.1 210.3h0M727.8 210.1h0M706.5 207.7h0M706.2 209.5h0M690.0 209.1h0M715.3 211.1h0M727.6 207.8h0M741.2 205.0h0M740.9 210.4h0M740.9 211.4h0M693.0 211.3h0M726.7 210.7h0M748.1 210.5h0M701.6 196.0h0M701.5 201.3h0M701.6 198.5h0M733.7 210.4h0M729.5 202.6h0M729.1 203.1h0M729.6 204.9h0M679.5 207.8h0M724.9 201.4h0M724.9 203.9h0M696.0 210.3h0M704.0 202.3h0M703.9 206.6h0M713.3 208.6h0M713.2 208.7h0M684.2 197.7h0M705.7 202.5h0M704.8 207.8h0M722.1 194.4h0M722.5 199.0h0M713.9 209.5h0M700.4 189.6h0M700.4 198.0h0M731.6 209.8h0M728.9 207.5h0M691.3 208.4h0M745.2 207.4h0M714.5 208.2h0M727.9 210.5h0M711.0 204.3h0M710.9 210.9h0M711.5 207.4h0M735.4 207.1h0M745.3 186.3h0M745.3 187.6h0M745.4 190.5h0M745.1 194.5h0M713.6 204.1h0M713.7 209.4h0M713.3 204.8h0M691.9 203.6h0M692.2 207.0h0M692.0 209.1h0M699.6 203.9h0M714.2 202.5h0M689.3 182.8h0M724.2 192.8h0M692.7 192.3h0M692.4 193.5h0M681.0 211.2h0M738.7 200.8h0M738.6 205.0h0M700.8 209.6h0M718.4 210.2h0M679.6 204.1h0M701.8 201.1h0M684.8 211.5h0M731.1 185.7h0M730.6 185.8h0M694.0 198.6h0M693.8 205.4h0M694.1 202.9h0M732.7 209.9h0M732.2 210.8h0M692.3 209.4h0M686.7 209.0h0M687.0 210.4h0M707.0 200.1h0M707.3 201.1h0M741.0 208.4h0M740.9 208.8h0M680.8 190.9h0M681.4 191.0h0M733.9 210.3h0M694.5 200.6h0M724.7 207.1h0M724.5 207.7h0M725.1 209.3h0M724.3 201.4h0M724.4 202.9h0M737.6 192.8h0M737.2 194.8h0M737.8 194.7h0M737.8 204.8h0M683.3 205.5h0M748.1 199.0h0M715.5 202.8h0M715.7 203.8h0M700.4 207.3h0M700.3 209.6h0M727.4 211.2h0M726.8 206.2h0M726.7 207.6h0M692.0 209.4h0M679.7 203.1h0M679.1 211.6h0M679.6 204.0h0M706.4 207.1h0M723.1 196.2h0M737.2 204.9h0M737.3 205.5h0M737.0 208.9h0M720.8 206.6h0M683.3 204.2h0M682.8 205.9h0M683.0 206.0h0M683.7 208.5h0M683.5 207.5h0M683.2 209.7h0M709.4 210.2h0M707.7 191.2h0M708.4 208.2h0M707.9 193.1h0M704.6 210.1h0M712.9 196.5h0M712.8 210.5h0M742.0 199.0h0M742.1 211.3h0M742.1 202.9h0M679.0 210.3h0M694.7 211.6h0M729.6 195.3h0M729.3 198.7h0M729.7 198.0h0M729.6 205.5h0M746.3 208.8h0M746.3 210.6h0M739.0 210.3h0M748.9 209.7h0M695.2 209.7h0M735.5 208.8h0M700.1 209.3h0M741.2 211.4h0M683.5 207.6h0M715.0 203.6h0M714.6 204.7h0M742.6 210.1h0M705.3 210.5h0M704.8 210.6h0M714.5 208.9h0M697.0 194.1h0M697.6 202.6h0M697.6 205.5h0M725.4 209.4h0M682.4 208.3h0M682.3 208.7h0M679.3 203.0h0M721.6 208.7h0M721.9 210.5h0M697.6 203.2h0M698.2 204.6h0M697.2 206.7h0M687.6 204.6h0M687.7 205.8h0M687.6 210.2h0M713.7 197.8h0M727.2 207.6h0M726.9 209.2h0M735.0 202.6h0M735.0 209.2h0M704.5 191.6h0M704.5 202.2h0M704.3 197.7h0M726.8 209.3h0M728.9 195.1h0M728.7 197.9h0M733.5 200.9h0M733.5 209.7h0M733.6 201.1h0M744.8 207.5h0M732.5 205.3h0M732.7 207.8h0M732.5 208.3h0M723.1 209.1h0M723.3 210.8h0M685.4 196.1h0M685.4 199.5h0M685.4 209.6h0M685.9 198.0h0M685.3 201.3h0M719.3 198.4h0M734.4 201.4h0M734.6 204.9h0M732.1 210.4h0M735.4 201.7h0M735.3 208.7h0M716.2 210.9h0M702.7 210.7h0M703.6 209.5h0M703.4 210.6h0M696.9 207.5h0M696.8 208.1h0M727.1 199.1h0M727.0 200.1h0M727.0 201.4h0M683.2 208.1h0M689.0 200.4h0M689.1 204.6h0M688.5 203.8h0M726.6 209.8h0M727.3 210.3h0M698.0 209.0h0M721.9 181.8h0M721.5 183.5h0M721.6 187.1h0M721.6 185.5h0M721.7 181.9h0M682.9 202.0h0M683.2 205.2h0M679.7 187.7h0M679.0 197.1h0M680.1 188.6h0M679.3 200.3h0M679.8 189.3h0M724.4 210.1h0M684.2 186.1h0M684.3 187.3h0M748.2 207.8h0M748.3 210.8h0M748.4 210.6h0M743.4 210.7h0M743.9 211.2h0M697.8 209.5h0M703.9 210.1h0M699.2 210.9h0M740.5 210.3h0M738.2 211.0h0M713.6 208.4h0M713.8 210.0h0M697.0 205.3h0M705.6 182.9h0M705.3 188.2h0M705.2 185.9h0M686.7 198.0h0M744.4 203.8h0M744.3 205.3h0M698.7 207.3h0M698.5 208.8h0M698.5 209.2h0M704.8 201.6h0M704.1 202.0h0M704.7 206.0h0M704.7 207.9h0M713.8 208.9h0M743.0 211.1h0M722.2 209.8h0M683.8 208.0h0M684.1 208.2h0M696.1 211.1h0M700.1 207.2h0M729.5 203.6h0M729.6 205.1h0M698.4 201.8h0M698.1 208.8h0M699.0 207.5h0M689.9 209.6h0M745.5 190.8h0M745.2 208.8h0M716.7 199.5h0M705.4 211.3h0M706.4 206.3h0M706.4 208.3h0M706.7 209.3h0M733.6 209.0h0M733.8 209.1h0M685.6 204.9h0M685.9 206.5h0M725.4 199.0h0M725.6 206.8h0M725.4 200.0h0M694.4 210.2h0M683.2 207.9h0M727.4 203.0h0M727.3 206.2h0M682.0 208.0h0M682.0 209.9h0M689.8 202.3h0M689.6 202.5h0M689.8 203.7h0M688.6 208.4h0M702.6 183.6h0M711.1 198.1h0M694.6 209.0h0M691.5 207.6h0M691.7 209.9h0M688.1 206.6h0M731.9 210.9h0M746.8 199.0h0M747.0 202.4h0M746.9 202.0h0M703.6 208.9h0M734.3 183.1h0M734.6 184.3h0M734.4 194.8h0M688.6 206.4h0M688.9 208.4h0M688.5 210.9h0M689.0 210.1h0M688.1 207.3h0M680.8 210.9h0M715.6 206.2h0M715.0 207.2h0M704.8 211.1h0M704.9 211.2h0M714.4 201.3h0M706.4 206.2h0M698.0 205.2h0M681.7 197.4h0M681.7 199.0h0M681.6 200.2h0M738.5 199.4h0M739.0 204.2h0M738.2 202.4h0M694.0 188.2h0M694.2 192.1h0M694.1 189.1h0M693.8 194.2h0M727.2 207.8h0M737.8 210.8h0M724.9 210.7h0M726.0 211.5h0M725.0 211.0h0M732.6 210.6h0M720.8 211.2h0M720.8 211.3h0M680.8 194.8h0M680.9 204.7h0M681.1 202.6h0M704.1 205.9h0M704.2 210.1h0M724.4 210.7h0M721.5 194.8h0M721.1 201.0h0M721.6 197.9h0M715.0 208.2h0M714.9 210.6h0M724.7 206.0h0M725.2 210.5h0M727.9 205.9h0M728.0 209.3h0M726.1 210.8h0M726.7 211.2h0M724.5 193.8h0M724.5 195.4h0M729.9 201.8h0M730.0 204.2h0M734.9 201.8h0M693.8 184.0h0M693.4 189.8h0M694.3 189.2h0M747.7 195.7h0M747.7 199.1h0M747.9 209.3h0M747.9 204.1h0M745.3 196.0h0M745.5 203.1h0M703.6 203.3h0M703.9 207.0h0M680.5 210.3h0M691.9 210.7h0M691.8 211.1h0M735.3 203.4h0M735.3 204.4h0M742.1 210.0h0M711.7 182.8h0M686.7 210.2h0M699.5 207.6h0M699.6 208.0h0M694.1 204.8h0M693.7 209.3h0M694.0 206.4h0M682.1 211.1h0M693.0 191.7h0M692.8 193.9h0M682.3 209.3h0M747.0 209.1h0M699.8 198.7h0M699.7 200.3h0M700.1 207.5h0M691.5 209.4h0M691.2 211.3h0M702.5 201.0h0M702.4 210.6h0M703.0 204.9h0M702.7 205.3h0M680.2 208.2h0M734.9 203.0h0M683.2 209.1h0M694.7 210.4h0M697.2 194.3h0M697.2 196.5h0M696.6 198.4h0M742.3 201.9h0M681.2 208.4h0M721.7 209.3h0M721.8 209.7h0M690.9 205.3h0M690.4 206.6h0M697.4 210.3h0M706.9 192.1h0M699.2 206.6h0M699.3 210.9h0M705.2 203.5h0M705.5 209.4h0M705.5 207.2h0M736.2 206.0h0M702.4 208.0h0M736.3 209.7h0M736.3 210.1h0M690.5 209.4h0M727.1 206.4h0M727.4 210.4h0M687.4 206.4h0M691.8 207.7h0M691.7 210.1h0M692.1 210.2h0M726.1 206.7h0M726.1 209.6h0M725.9 206.9h0M744.6 206.7h0M744.6 207.3h0M744.3 208.3h0M744.6 210.9h0M722.3 210.6h0M730.7 203.5h0M730.6 209.8h0M730.6 205.2h0M730.9 209.5h0M711.3 210.8h0M740.5 193.6h0M741.2 205.4h0M740.4 202.0h0M720.6 209.6h0M746.0 181.9h0M746.3 200.5h0M745.5 187.4h0M725.7 210.6h0M695.4 194.4h0M695.6 197.3h0M697.2 208.1h0M743.5 198.2h0M743.3 198.5h0M716.5 211.3h0M705.2 209.8h0M726.3 201.9h0M726.7 202.7h0M726.3 204.3h0M725.8 207.8h0M691.7 199.7h0M691.7 208.0h0M691.6 208.2h0M691.6 206.6h0M691.7 200.0h0M691.9 205.0h0M727.9 200.1h0M727.6 202.6h0M681.9 209.2h0M681.7 211.2h0M936.4 202.3h0M936.0 204.4h0M909.7 197.5h0M909.8 206.2h0M909.6 202.4h0M912.4 191.5h0M912.7 196.6h0M923.5 196.1h0M889.5 206.7h0M887.0 206.0h0M901.7 183.6h0M902.2 190.8h0M901.7 207.7h0M930.6 206.4h0M922.2 186.4h0M922.6 201.8h0M922.6 190.9h0M922.1 187.1h0M932.6 199.3h0M932.7 202.1h0M932.6 207.5h0M934.5 184.3h0M934.4 190.6h0M935.2 189.4h0M934.2 192.6h0M934.4 200.4h0M944.8 206.0h0M913.9 197.1h0M914.1 203.7h0M901.9 206.4h0M901.6 207.9h0M924.9 207.2h0M919.9 199.0h0M906.5 207.1h0M935.3 199.3h0M934.9 201.4h0M935.4 204.3h0M928.9 205.4h0M919.5 206.0h0M919.1 207.0h0M919.4 207.5h0M919.3 206.9h0M899.4 203.2h0M899.1 207.2h0M936.3 203.4h0M923.3 204.7h0M923.1 206.9h0M917.2 208.9h0M905.6 205.6h0M906.2 205.8h0M905.5 205.9h0M901.7 208.1h0M939.9 208.3h0M940.0 208.8h0M929.2 203.2h0M939.4 191.7h0M939.1 198.2h0M900.2 207.8h0M930.6 185.7h0M930.3 189.7h0M932.4 207.3h0M932.2 208.4h0M932.2 208.6h0M932.6 207.8h0M925.3 208.8h0M888.9 204.9h0M888.1 206.2h0M911.4 205.9h0M889.7 190.0h0M889.7 190.9h0M944.4 206.6h0M919.6 204.8h0M892.4 199.8h0M892.5 204.6h0M921.1 195.9h0M929.8 196.7h0M930.4 201.5h0M888.3 205.1h0M887.9 206.8h0M900.9 207.2h0M921.4 195.3h0M921.1 200.2h0M937.0 201.2h0M937.4 208.5h0M937.1 201.3h0M919.6 203.5h0M896.7 203.5h0M896.8 203.8h0M909.1 208.2h0M916.8 206.3h0M894.0 198.6h0M910.9 202.6h0M932.3 190.8h0M898.2 208.4h0M898.8 193.3h0M898.7 205.2h0M898.7 194.9h0M896.2 194.1h0M896.0 200.2h0M896.0 202.1h0M893.2 202.8h0M893.0 207.5h0M907.6 183.4h0M907.4 187.9h0M907.6 187.7h0M907.6 190.1h0M937.1 207.9h0M895.1 204.5h0M894.9 204.8h0M943.1 203.9h0M943.5 204.7h0M943.2 208.4h0M902.5 205.8h0M895.1 208.1h0M894.7 208.6h0M904.7 203.0h0M936.4 202.6h0M936.4 203.6h0M890.9 208.6h0M939.1 207.1h0M922.9 208.5h0M930.8 203.7h0M893.8 198.0h0M928.6 205.4h0M898.1 208.2h0M935.3 197.0h0M916.4 206.6h0M915.7 207.9h0M890.3 202.6h0M890.6 203.6h0M890.1 209.1h0M924.2 199.0h0M924.0 203.4h0M924.0 203.0h0M894.1 199.7h0M894.2 208.3h0M940.6 208.9h0M932.7 188.0h0M932.9 194.4h0M932.4 190.2h0M932.7 191.3h0M921.8 202.0h0M922.3 205.6h0M941.9 203.3h0M916.4 190.7h0M916.6 197.6h0M923.3 208.0h0M906.8 201.4h0M906.6 203.6h0M890.7 205.8h0M892.1 201.4h0M893.7 198.7h0M893.8 204.9h0M893.6 203.8h0M930.3 205.1h0M940.0 197.3h0M940.0 200.2h0M940.2 208.3h0M934.3 201.6h0M934.0 206.6h0M934.3 202.0h0M896.3 205.4h0M892.0 203.3h0M891.6 204.5h0M891.8 206.2h0M938.7 197.0h0M938.9 203.2h0M932.4 208.2h0M927.7 194.5h0M938.7 202.3h0M917.6 192.1h0M917.8 193.2h0M917.9 199.5h0M917.8 192.6h0M900.2 208.8h0M925.4 199.0h0M925.3 201.3h0M920.5 207.6h0M925.0 205.5h0M925.0 205.9h0M924.7 207.4h0M924.7 206.1h0M925.3 208.5h0M915.6 190.1h0M915.6 200.9h0M915.9 193.7h0M915.8 193.3h0M915.3 199.2h0M940.5 206.5h0M921.8 207.1h0M921.6 207.6h0M917.6 206.8h0M943.9 207.1h0M943.9 207.6h0M923.3 197.3h0M925.0 207.9h0M893.7 201.6h0M894.0 201.8h0M937.2 199.5h0M937.6 200.2h0M937.2 204.8h0M922.2 208.2h0M922.0 209.0h0M922.1 205.0h0M930.7 208.5h0M916.7 207.5h0M897.7 203.1h0M897.5 204.2h0M897.8 206.9h0M897.5 208.7h0M897.8 203.9h0M897.4 207.7h0M909.0 197.7h0M910.8 197.9h0M910.8 204.5h0M925.7 208.9h0M898.7 208.8h0M917.3 188.3h0M917.2 190.0h0M923.7 205.6h0M923.6 206.4h0M889.3 195.2h0M889.6 196.2h0M889.1 201.6h0M929.6 200.5h0M929.5 208.7h0M936.6 205.1h0M937.2 205.3h0M887.6 187.3h0M920.9 205.3h0M921.1 205.6h0M920.9 206.7h0M888.2 200.3h0M887.9 201.4h0M888.0 204.3h0M888.4 202.4h0M913.8 187.7h0M914.0 195.0h0M931.4 205.2h0M928.4 203.2h0M928.2 205.4h0M928.6 203.6h0M927.9 205.4h0M928.5 207.6h0M915.7 199.8h0M915.9 204.9h0M915.5 203.7h0M908.6 198.3h0M908.7 199.5h0M939.7 198.2h0M939.6 203.1h0M939.9 200.8h0M939.7 207.9h0M896.1 207.0h0M887.5 197.7h0M887.1 198.6h0M905.9 208.9h0M890.3 206.1h0M940.7 208.3h0M906.7 206.7h0M906.5 208.5h0M918.7 204.0h0M918.7 205.4h0M918.3 207.5h0M931.6 203.5h0M933.3 204.1h0M933.7 204.3h0M922.4 208.1h0M889.3 207.8h0M936.2 207.3h0M937.0 202.3h0M936.8 205.6h0M937.5 205.3h0M941.3 195.9h0M941.6 205.9h0M904.8 189.2h0M904.3 190.6h0M935.0 207.5h0M935.0 209.1h0M944.8 197.9h0M944.5 201.1h0M944.6 199.6h0M890.3 208.4h0M912.2 202.9h0M920.2 206.8h0M932.7 207.3h0M907.4 208.1h0M907.7 208.5h0M914.7 188.2h0M924.6 208.6h0M926.5 200.3h0M926.4 206.8h0M932.0 206.9h0M914.5 203.2h0M936.4 193.1h0M936.4 196.2h0M936.0 197.7h0M936.7 203.1h0M913.9 201.1h0M913.7 205.6h0M914.1 204.3h0M936.0 196.5h0M943.8 205.9h0M923.5 206.3h0M897.7 198.7h0M897.6 202.2h0M887.3 208.3h0M936.9 195.4h0M937.0 196.8h0M914.0 205.1h0M914.1 205.8h0M916.0 182.9h0M916.2 201.3h0M915.4 190.9h0M907.5 205.0h0M898.2 206.0h0M898.6 206.8h0M898.2 207.7h0M916.4 207.7h0M939.4 199.0h0M939.6 199.2h0M939.6 203.1h0M917.7 208.1h0M943.0 202.3h0M942.5 206.8h0M919.6 208.0h0M894.3 206.2h0M894.4 208.2h0M918.3 200.9h0M918.0 201.9h0M919.2 191.4h0M919.1 192.8h0M898.0 207.6h0M897.1 208.3h0M920.1 206.7h0M927.8 208.5h0M943.2 204.6h0M942.6 208.7h0M891.7 208.0h0M920.4 193.7h0M908.3 193.8h0M933.8 191.7h0M934.2 195.9h0M933.9 199.4h0M934.1 202.7h0M934.1 207.3h0M934.0 192.8h0M933.8 198.5h0M891.3 204.3h0M891.5 204.8h0M914.2 206.6h0M893.6 197.1h0M893.5 200.8h0M893.5 202.6h0M908.9 206.7h0M886.8 202.6h0M886.8 208.5h0M890.9 194.8h0M890.3 208.2h0M890.7 199.5h0M891.0 207.8h0M904.0 201.9h0M904.2 202.0h0M903.5 207.4h0M903.9 203.5h0M901.9 208.3h0M937.4 205.2h0M937.2 205.4h0M909.2 192.3h0M896.6 203.3h0M896.4 204.5h0M896.8 209.0h0M911.1 201.0h0M898.1 200.9h0M897.6 202.7h0M940.8 202.1h0M935.4 209.0h0M887.5 186.2h0M887.6 196.9h0M887.5 191.3h0M887.4 188.2h0M887.2 193.2h0M931.7 204.5h0M931.8 205.2h0M931.0 208.8h0M931.5 205.0h0M944.2 207.4h0M944.3 207.9h0M944.0 208.6h0M934.3 206.2h0M934.8 208.5h0M936.9 203.3h0M930.8 197.6h0M930.9 202.2h0M930.9 202.7h0M930.6 205.6h0M930.4 199.8h0M930.8 199.0h0M933.1 197.7h0M933.0 198.2h0M933.3 207.4h0M932.5 207.8h0M892.6 204.6h0M892.7 205.1h0M892.7 206.3h0M888.0 198.7h0M887.8 200.0h0M887.6 208.6h0M942.7 204.5h0M911.9 207.1h0M911.6 208.2h0M911.8 208.1h0M911.7 208.3h0M907.4 204.2h0M928.3 196.6h0M928.6 199.4h0M928.2 202.1h0M887.2 191.8h0M887.0 194.6h0M890.7 208.7h0M920.3 199.5h0M919.9 206.6h0M926.8 205.3h0M918.5 202.4h0M918.5 203.7h0M888.4 203.5h0M888.8 208.9h0M888.5 205.2h0M922.2 207.2h0M940.0 199.7h0M940.0 200.8h0M940.2 206.2h0M940.1 203.2h0M893.6 202.0h0M893.6 203.1h0M893.7 207.2h0M920.8 206.4h0M928.7 202.9h0M928.5 206.5h0M906.5 205.0h0M906.9 205.3h0M906.3 207.2h0M915.9 203.3h0M915.5 206.2h0M942.2 205.8h0M889.6 201.7h0M889.2 204.1h0M901.3 207.7h0M901.5 208.8h0M917.9 201.8h0M910.9 189.6h0M911.5 194.3h0M910.6 192.1h0M910.9 189.9h0M913.7 208.8h0M931.2 197.0h0M944.7 200.5h0M944.8 202.8h0M941.5 204.7h0M941.9 206.8h0M941.4 206.5h0M908.3 206.1h0M942.5 208.7h0M911.3 207.6h0M911.4 208.0h0M888.1 207.5h0M901.5 203.9h0M901.1 208.1h0M917.1 206.4h0M916.9 207.8h0M916.9 208.3h0M917.6 208.6h0M927.1 204.0h0M927.3 208.8h0M905.2 206.1h0M906.0 209.1h0M943.1 198.9h0M943.1 200.3h0M922.2 206.3h0M922.0 206.6h0M889.7 192.2h0M889.6 195.9h0M890.0 196.9h0M890.5 208.9h0M939.2 192.2h0M938.5 193.2h0M940.6 207.9h0M941.0 208.4h0M941.1 208.8h0M940.9 208.9h0M925.2 208.4h0M914.9 197.5h0M914.3 205.9h0M914.5 199.8h0M915.2 201.4h0M906.7 197.9h0M930.5 202.1h0M931.0 206.6h0M915.2 204.0h0M937.9 201.0h0M937.7 202.6h0M920.4 198.6h0M920.5 206.1h0M940.4 188.6h0M942.5 208.6h0M931.3 197.2h0M931.9 201.0h0M917.5 190.0h0M917.3 192.0h0M917.4 193.4h0M900.2 204.2h0M892.7 206.5h0M907.0 206.4h0M913.5 198.3h0M913.4 206.9h0M913.6 207.1h0M913.3 199.7h0M939.3 196.1h0M913.5 205.8h0M926.8 196.4h0M900.3 203.5h0M900.1 208.3h0M936.2 208.1h0M932.1 204.7h0M939.2 188.8h0M939.0 190.7h0M939.3 190.7h0M939.3 192.4h0M939.3 190.5h0M924.4 198.7h0M924.8 199.0h0M923.6 208.9h0M920.6 199.8h0M920.9 203.8h0M894.7 208.8h0M1100.5 201.7h0M1102.4 199.6h0M1116.2 202.8h0M1116.8 206.0h0M1111.8 205.3h0M1111.3 206.0h0M1119.2 204.8h0M1119.3 208.0h0M1099.4 205.6h0M1104.6 202.8h0M1104.7 204.3h0M1097.4 207.4h0M1098.3 207.7h0M1122.3 207.6h0M1112.4 195.5h0M1108.9 204.7h0M1109.2 205.4h0M1109.4 206.6h0M1124.4 203.6h0M1092.3 210.3h0M1098.0 198.2h0M1123.5 205.8h0M1103.4 207.1h0M1124.8 193.5h0M1124.6 197.2h0M1089.9 202.7h0M1090.1 207.6h0M1122.0 207.4h0M1099.0 203.1h0M1096.4 196.4h0M1116.6 203.3h0M1116.6 206.6h0M1089.8 204.8h0M1120.4 208.1h0M1111.1 197.0h0M1111.1 205.0h0M1104.2 201.7h0M1104.3 201.9h0M1119.7 195.6h0M1119.4 207.9h0M1120.0 201.7h0M1126.4 196.5h0M1126.6 200.1h0M1126.3 206.5h0M1126.1 204.5h0M1108.6 197.0h0M1108.9 197.9h0M1109.7 206.4h0M1096.9 209.7h0M1096.9 210.9h0M1095.3 203.0h0M1095.4 207.2h0M1119.3 191.4h0M1122.9 208.3h0M1113.8 187.3h0M1091.6 205.2h0M1091.5 211.6h0M1091.5 206.7h0M1101.5 204.2h0M1101.7 205.0h0M1101.2 207.5h0M1125.9 191.3h0M1125.8 203.7h0M1091.9 206.2h0M1091.8 206.2h0M1091.8 206.3h0M1107.7 206.0h0M1109.2 200.2h0M1109.3 201.5h0M1098.1 206.9h0M1090.9 206.5h0M1103.2 207.7h0M1125.4 208.1h0M1125.7 205.9h0M1125.7 206.3h0M1093.9 209.0h0M1094.4 211.3h0M1088.8 208.2h0M1089.0 211.3h0M1092.3 204.7h0M1092.1 208.4h0M1092.3 206.9h0M1092.4 208.0h0M1121.3 207.7h0M1106.2 203.6h0M1106.1 205.2h0M1102.2 194.0h0M1102.1 194.9h0M1102.3 200.1h0M1088.8 198.6h0M1088.1 198.7h0M1088.5 205.5h0M1120.3 200.0h0M1088.9 209.4h0M1111.5 202.1h0M1117.3 204.7h0M1109.9 192.7h0M1109.7 203.8h0M1112.0 195.0h0M1111.9 199.8h0M1112.2 201.0h0M1112.0 195.1h0M1112.1 205.2h0M1111.6 202.4h0M1123.1 207.8h0M1104.6 205.9h0M1119.1 202.6h0M1119.1 205.8h0M1085.8 208.3h0M1111.9 208.2h0M1091.7 201.0h0M1091.4 205.6h0M1116.7 202.5h0M1122.2 203.7h0M1122.7 205.2h0M1112.3 204.6h0M1112.7 206.0h0M1117.9 204.0h0M1118.4 205.5h0M1094.6 209.3h0M1100.5 192.9h0M1100.4 200.5h0M1090.1 207.4h0M1090.6 208.2h0M1123.6 199.5h0M1123.2 204.3h0M1121.0 201.2h0M1090.7 203.5h0M1090.4 210.7h0M1090.8 204.6h0M1124.9 187.1h0M1124.8 196.4h0M1124.9 201.6h0M1117.8 183.5h0M1118.0 190.2h0M1091.5 206.5h0M1091.4 209.8h0M1103.1 198.7h0M1103.4 200.4h0M1099.1 207.1h0M1096.2 204.3h0M1096.3 211.3h0M1096.2 205.8h0M1107.2 200.8h0M1111.1 203.9h0M1111.4 206.9h0M1111.6 207.7h0M1111.1 207.6h0M1110.9 207.5h0M1111.4 207.5h0M1120.6 201.9h0M1108.1 201.6h0M1108.1 202.5h0M1102.0 186.2h0M1101.2 206.1h0M1101.4 195.0h0M1101.3 196.0h0M1101.8 197.4h0M1114.9 207.8h0M1125.8 198.2h0M1125.7 200.5h0M1125.7 198.3h0M1113.5 206.7h0M1122.7 203.1h0M1097.7 206.0h0M1093.9 208.8h0M1099.1 205.2h0M1099.7 205.4h0M1091.6 190.7h0M1092.1 196.0h0M1114.1 185.5h0M1114.4 192.4h0M1114.3 187.9h0M1088.0 203.8h0M1088.5 208.4h0M1115.7 206.8h0M1114.2 206.1h0M1114.5 191.6h0M1114.3 205.2h0M1114.5 195.1h0M1114.5 197.0h0M1122.8 202.4h0M1122.4 206.4h0M1123.1 203.2h0M1101.0 207.6h0M1120.5 205.4h0M1120.5 207.5h0M1121.1 206.0h0M1112.9 185.5h0M1113.4 200.2h0M1112.8 192.4h0M1110.1 185.4h0M1109.6 189.1h0M1110.1 206.5h0M1110.5 197.6h0M1110.0 200.4h0M1109.6 200.7h0M1109.5 206.0h0M1110.0 202.9h0M1097.8 203.7h0M1098.0 204.9h0M1114.7 200.7h0M1119.2 192.3h0M1119.1 203.3h0M1119.3 207.6h0M1119.3 197.0h0M1112.2 197.8h0M1117.8 205.0h0M1113.5 181.5h0M1113.2 189.9h0M1113.3 196.5h0M1101.2 202.1h0M1101.0 202.7h0M1101.0 206.5h0M1100.9 206.6h0M1124.8 204.8h0M1125.0 207.1h0M1106.6 194.2h0M1107.2 198.7h0M1106.4 194.6h0M1106.9 194.9h0M1122.2 205.9h0M1110.6 193.1h0M1110.3 193.2h0M1111.0 193.9h0M1110.4 193.7h0M1101.4 196.0h0M1101.2 200.3h0M1100.7 201.3h0M1112.1 190.9h0M1112.6 197.4h0M1118.8 206.9h0M1111.9 201.2h0M1126.0 202.5h0M1126.2 203.0h0M1104.6 196.3h0M1105.0 208.2h0M1104.6 197.8h0M1108.5 208.0h0M1090.3 202.8h0M1108.8 205.0h0M1097.4 207.4h0M1095.3 211.4h0M1094.4 209.9h0M1112.1 207.4h0M1112.6 207.4h0M1115.2 203.5h0M1115.1 207.1h0M1115.4 207.8h0M1117.2 205.6h0M1117.1 206.4h0M1100.3 192.5h0M1100.4 197.5h0M1100.0 194.1h0M1112.3 190.5h0M1112.5 199.7h0M1112.4 190.8h0M1094.7 199.0h0M1094.7 200.7h0M1095.0 202.0h0M1107.5 192.4h0M1107.4 204.6h0M1102.9 206.8h0M1087.7 209.2h0M1088.5 204.6h0M1123.1 203.2h0M1123.6 205.6h0M1123.1 208.0h0M1118.5 204.8h0M1123.8 203.8h0M1085.2 209.4h0M1085.3 211.0h0M1095.1 210.0h0M1086.8 197.6h0M1086.9 200.8h0M1086.6 207.9h0M1116.3 207.6h0M1105.8 200.8h0M1105.8 204.4h0M1105.7 205.5h0M1124.7 204.8h0M1124.5 206.1h0M1116.9 206.3h0M1089.6 210.1h0M1090.7 209.9h0M1118.9 204.4h0M1118.6 205.5h0M1093.4 197.9h0M1093.0 210.9h0M1093.3 204.6h0M1093.1 201.1h0M1090.7 206.4h0M1125.6 206.1h0M1115.9 194.4h0M1115.5 207.7h0M1093.6 199.0h0M1093.6 205.5h0M1093.4 200.7h0M1093.9 205.1h0M1119.9 208.2h0M1123.8 204.0h0M1115.0 200.0h0M1114.8 205.7h0M1104.8 208.1h0M1121.8 198.4h0M1121.6 201.4h0M1121.8 200.9h0M1116.9 204.2h0M1101.7 206.3h0M1108.0 189.3h0M1087.4 209.1h0M1087.2 209.2h0M1091.7 210.9h0M1091.6 211.4h0M1117.4 208.1h0M1108.5 201.6h0M1121.1 198.9h0M1117.2 204.9h0M1117.2 205.6h0M1126.0 207.4h0M1126.4 207.7h0M1125.6 208.1h0M1121.9 201.0h0M1121.6 204.0h0M1099.5 202.2h0M1112.4 196.4h0M1112.1 201.3h0M1104.8 199.7h0M1104.7 202.7h0M1123.8 197.9h0M1123.8 202.7h0M1123.1 206.6h0M1106.9 202.6h0M1107.1 207.7h0M1103.2 199.8h0M1103.1 205.0h0M1103.5 200.9h0M1103.6 204.2h0M1103.4 205.1h0M1122.2 194.3h0M1122.4 202.4h0M1121.9 201.2h0M1114.0 205.1h0M1118.9 204.5h0M1119.3 205.4h0M1118.7 205.7h0M1101.1 200.3h0M1101.4 202.2h0M1121.9 194.1h0M1122.3 195.4h0M1105.3 199.0h0M1120.2 202.9h0M1120.3 207.1h0M1120.5 206.5h0M1120.0 207.9h0M1119.8 206.8h0M1123.7 189.3h0M1121.7 203.0h0M1103.5 201.5h0M1103.8 202.6h0M1103.1 207.5h0M1115.7 194.3h0M1115.8 201.2h0M1115.8 200.7h0M1115.8 202.4h0M1099.3 203.6h0M1086.5 206.1h0M1085.3 200.3h0M1119.6 191.3h0M1119.8 195.5h0M1094.9 210.1h0M1095.2 211.3h0M1097.8 205.0h0M1098.0 206.7h0M1087.2 210.4h0M1230.9 206.2h0M1230.6 195.8h0M1230.2 206.8h0M1230.5 195.9h0M1230.3 206.2h0M1229.6 199.7h0M1230.1 201.7h0M1230.0 200.7h0M1230.1 200.1h0M1226.9 206.2h0M1226.9 207.2h0M1227.7 201.1h0M1227.1 203.4h0M1236.7 207.3h0M1239.8 206.0h0M1239.6 202.8h0M1239.7 206.0h0M1239.6 203.5h0M1239.1 207.5h0M1229.7 209.5h0M1232.4 208.9h0M1233.6 203.4h0M1233.8 208.7h0M1237.0 208.2h0M1226.8 207.0h0M1226.6 208.1h0M1230.3 189.0h0M1230.3 195.1h0M1230.4 197.9h0M1236.0 204.8h0M1238.2 199.6h0M1238.5 199.8h0M1237.7 205.6h0M1227.1 208.8h0M1227.2 209.0h0M1225.1 192.8h0M1225.0 198.5h0M1224.6 195.6h0M1225.2 197.1h0M1230.0 207.5h0M1231.4 208.3h0M1233.4 208.2h0M1225.1 208.2h0M1236.0 195.3h0M1236.2 196.7h0M1226.6 209.5h0M1224.5 207.4h0M1232.6 203.3h0M1232.9 209.4h0M1230.8 209.3h0M1238.6 207.1h0M1226.5 209.8h0M1236.2 207.1h0M1225.9 207.5h0M1225.4 209.5h0M1232.2 207.3h0M1232.2 209.0h0M1233.3 205.8h0M1233.4 207.5h0M1233.3 205.9h0M1225.9 195.8h0M1226.7 201.5h0M1225.8 206.6h0M1226.1 209.5h0M1233.7 205.7h0M1237.5 208.9h0M1228.3 206.1h0M1228.3 206.6h0M1238.8 198.6h0M1239.2 209.2h0M1238.7 207.7h0M1238.9 200.1h0M1238.4 200.6h0M1239.7 204.7h0M1239.5 204.9h0M1225.9 208.3h0M1235.4 204.6h0M1229.8 201.3h0M1229.4 202.0h0M1229.8 203.2h0M1230.6 191.5h0M1239.0 201.2h0M1239.0 207.5h0M1238.7 200.2h0M1228.5 205.6h0M1228.4 206.1h0M1228.2 209.5h0M1228.3 209.5h0M1226.7 201.4h0M1226.5 207.4h0M1226.5 204.8h0M1229.6 208.9h0M1228.4 208.5h0M1225.2 204.9h0M1224.4 206.0h0M1230.2 205.7h0M1230.3 209.9h0M1233.5 194.8h0M1232.7 197.6h0M1232.9 194.8h0M1227.8 205.7h0M1228.2 207.0h0M1235.4 206.1h0M1235.1 209.3h0M1229.5 207.6h0M1233.1 208.2h0M1232.5 201.9h0M1233.3 202.6h0M1225.2 186.4h0M1225.1 196.3h0M1238.8 206.4h0M1238.7 207.4h0M1233.9 209.2h0M1225.2 208.6h0M1224.7 209.3h0M1239.3 204.3h0M1239.1 209.6h0M1239.0 205.7h0M1237.9 209.2h0M1231.0 208.4h0M1227.5 205.7h0M1227.7 208.7h0M1227.6 208.7h0M1238.6 207.3h0M1238.4 208.0h0M1234.2 209.2h0M1226.8 209.5h0M1231.8 205.9h0M1231.2 208.3h0M1225.8 196.4h0M1226.2 200.3h0M1225.9 204.1h0M1232.8 200.5h0M1232.4 208.4h0M1232.9 202.4h0M1225.4 207.2h0M1236.4 203.5h0M1226.2 207.8h0M1225.9 209.2h0M1237.4 205.5h0M1237.4 185.8h0M1237.2 201.0h0M1239.4 206.9h0M1225.3 208.0h0M1234.2 193.9h0M1234.0 194.3h0M1234.1 196.4h0M1227.5 203.3h0M1227.5 204.8h0M1230.8 201.4h0M1230.8 205.9h0M1233.0 202.5h0M1232.7 204.0h0M1239.3 200.2h0M1238.9 205.0h0M1239.3 207.2h0M1233.3 208.3h0M1232.3 187.0h0M1232.5 203.8h0M1235.6 198.0h0M1236.0 203.8h0M1235.4 198.5h0M1235.7 198.5h0M1235.4 199.2h0M1227.8 191.3h0M1227.8 194.7h0M1237.2 191.5h0M1237.4 199.9h0M1237.1 193.8h0M1237.5 192.3h0M1232.7 182.8h0M1232.8 187.7h0M1232.4 194.2h0M1232.7 182.8h0M1224.7 208.3h0M1227.9 194.7h0M1252.5 209.3h0M1255.9 204.9h0M1255.6 208.0h0M1261.5 198.2h0M1261.1 198.8h0M1261.2 199.2h0M1256.0 209.8h0M1256.2 193.2h0M1256.7 198.9h0M1259.8 207.9h0M1248.8 206.4h0M1248.7 209.8h0M1249.1 209.1h0M1255.4 209.6h0M1262.3 202.5h0M1250.9 202.0h0M1250.9 203.3h0M1251.7 209.2h0M1252.9 206.7h0M1255.1 200.3h0M1255.3 205.3h0M1246.8 208.5h0M1246.7 209.8h0M1250.7 208.1h0M1249.7 208.5h0M1256.8 195.8h0M1256.7 199.8h0M1256.8 196.2h0M1257.0 192.1h0M1253.6 194.4h0M1253.6 200.6h0M1253.2 194.7h0M1262.5 206.7h0M1262.3 206.8h0M1247.6 184.2h0M1247.6 185.7h0M1247.2 185.5h0M1253.4 206.9h0M1259.0 183.7h0M1259.2 187.8h0M1259.1 190.3h0M1255.4 200.3h0M1255.4 208.2h0M1256.1 201.7h0M1247.4 200.8h0M1247.2 201.7h0M1258.6 207.9h0M1248.8 206.9h0M1248.9 209.8h0M1253.8 205.4h0M1256.4 198.1h0M1255.9 205.5h0M1257.0 209.2h0M1254.5 200.4h0M1254.1 205.1h0M1254.8 209.7h0M1254.4 205.4h0M1261.8 201.6h0M1246.5 207.6h0M1257.8 208.7h0M1254.0 203.1h0M1252.4 206.2h0M1252.5 206.5h0M1252.5 208.7h0M1249.6 201.4h0M1253.5 199.4h0M1252.4 206.7h0M1247.5 202.7h0M1251.4 204.8h0M1260.2 207.3h0M1260.6 209.7h0M1249.4 198.6h0M1249.6 208.1h0M1249.3 209.4h0M1248.7 206.5h0M1246.6 200.0h0M1246.5 201.4h0M1246.9 205.0h0M1246.4 207.3h0M1258.9 203.6h0M1258.8 207.6h0M1258.9 207.7h0M1254.2 203.0h0M1249.2 209.8h0M1258.8 207.3h0M1256.9 208.3h0M1258.3 192.2h0M1258.4 207.0h0M1258.5 191.7h0M1258.8 209.4h0M1258.8 197.0h0M1259.0 202.9h0M1254.7 209.9h0M1257.2 209.1h0M1250.1 186.0h0M1249.9 188.1h0M1250.4 186.8h0M1260.2 200.1h0M1248.9 194.9h0M1248.9 198.5h0M1249.3 199.6h0M1248.9 197.4h0M1248.9 204.4h0M1248.5 195.5h0M1249.2 199.0h0M1248.9 198.7h0M1248.9 208.6h0M1250.6 186.3h0M1250.8 189.4h0M1250.9 187.8h0M1254.7 207.4h0M1248.1 199.1h0M1253.9 208.5h0M1249.8 206.2h0M1247.3 208.1h0M1247.1 208.7h0M1257.0 208.0h0M1246.8 208.1h0M1246.5 209.6h0M1261.2 206.3h0M1248.4 209.7h0M1250.3 207.7h0M1254.0 197.3h0M1253.8 208.1h0M1254.0 204.4h0M1254.4 198.9h0M1253.9 205.2h0M1248.9 192.2h0M1249.2 195.9h0M1259.2 208.8h0M1252.0 195.4h0M1251.6 197.9h0M1251.9 195.6h0M1246.9 204.6h0M1246.6 206.2h0M1260.1 200.9h0M1251.6 203.2h0M1256.4 207.8h0M1259.0 208.2h0M1253.8 202.5h0M1254.4 202.8h0M1253.7 208.2h0M1253.3 206.1h0M1257.5 187.2h0M1257.4 188.6h0M1257.4 196.8h0M1250.9 207.6h0M1253.7 209.8h0M1259.2 203.7h0M1253.2 209.5h0M1261.8 207.5h0M1261.0 198.5h0M1261.0 208.4h0M1248.4 208.3h0M1261.3 206.5h0M1247.8 206.2h0M1247.8 208.5h0M1256.6 198.8h0M1256.8 202.1h0M1256.4 200.2h0M1256.0 199.3h0M1258.1 204.2h0M1257.2 209.8h0M1253.7 208.2h0M1252.1 203.4h0M1251.9 206.4h0M1252.3 204.8h0M1254.4 209.6h0M1256.8 205.6h0M1256.9 208.4h0M1359.1 208.5h0M1353.3 207.9h0M1352.3 209.4h0M1361.3 205.3h0M1361.6 207.8h0M1356.2 202.2h0M1355.7 206.2h0M1356.3 203.7h0M1346.8 185.1h0M1346.5 190.3h0M1346.9 188.7h0M1346.8 204.0h0M1346.5 193.9h0M1357.8 207.7h0M1363.5 196.5h0M1363.3 206.8h0M1363.4 204.4h0M1358.7 192.7h0M1359.0 208.4h0M1358.4 195.0h0M1363.7 206.0h0M1353.4 208.7h0M1353.0 209.8h0M1362.3 204.1h0M1341.5 205.9h0M1358.0 206.2h0M1358.4 209.7h0M1358.1 206.9h0M1358.4 209.3h0M1343.6 195.7h0M1343.4 195.9h0M1344.1 197.9h0M1344.4 196.9h0M1343.3 198.3h0M1343.7 195.1h0M1343.7 206.9h0M1343.9 195.4h0M1344.7 195.8h0M1344.5 198.3h0M1344.8 199.4h0M1357.4 205.6h0M1350.3 206.2h0M1349.9 208.3h0M1350.3 208.5h0M1344.9 204.9h0M1344.7 206.8h0M1346.1 204.1h0M1340.9 199.6h0M1341.6 205.7h0M1341.0 209.2h0M1341.1 203.2h0M1347.6 186.5h0M1341.0 209.5h0M1345.5 202.0h0M1345.2 204.2h0M1346.2 203.4h0M1347.2 202.9h0M1347.6 205.8h0M1350.1 204.9h0M1363.6 187.3h0M1364.0 196.2h0M1342.3 209.2h0M1346.9 209.0h0M1342.4 196.1h0M1342.8 196.6h0M1342.1 201.9h0M1344.0 207.5h0M1348.7 203.5h0M1349.0 204.8h0M1341.0 188.6h0M1341.1 207.6h0M1341.3 189.1h0M1341.0 190.7h0M1360.4 206.1h0M1348.7 204.7h0M1348.2 207.4h0M1353.5 204.2h0M1354.0 204.8h0M1340.8 189.2h0M1340.7 196.3h0M1361.7 208.7h0M1344.3 188.0h0M1344.2 190.7h0M1344.2 190.4h0M1344.6 207.7h0M1344.5 196.6h0M1351.6 206.8h0M1350.0 206.8h0M1356.8 208.0h0M1347.1 190.3h0M1347.0 191.0h0M1347.4 199.9h0M1347.1 200.1h0M1358.4 196.6h0M1357.8 197.2h0M1358.8 197.6h0M1355.1 207.9h0M1355.0 209.1h0M1355.0 208.2h0M1354.8 203.4h0M1354.5 206.1h0M1345.5 183.4h0M1345.8 199.9h0M1345.7 200.1h0M1345.5 201.6h0M1359.7 199.4h0M1360.4 204.1h0M1347.2 184.6h0M1347.6 200.3h0M1346.9 186.3h0M1347.3 185.4h0M1360.9 186.3h0M1363.8 194.6h0M1363.9 199.1h0M1357.7 203.3h0M1349.1 208.8h0M1362.6 198.2h0M1356.7 181.4h0M1357.0 191.3h0M1356.2 182.8h0M1356.5 185.5h0M1340.5 209.2h0M1340.2 209.3h0M1356.3 201.5h0M1345.1 198.6h0M1345.4 201.9h0M1363.7 202.2h0M1354.6 209.1h0M1345.6 209.1h0M1350.9 208.6h0M1355.4 206.8h0M1355.6 209.7h0M1355.3 208.6h0M1356.2 206.3h0M1356.4 208.0h0M1356.5 202.6h0M1350.6 200.0h0M1351.9 201.5h0M1351.9 209.5h0M1363.9 208.1h0M1359.5 198.6h0M1359.0 204.6h0M1356.0 201.8h0M1356.3 206.5h0M1356.1 206.8h0M1357.8 207.9h0M1344.2 199.0h0M1355.8 182.5h0M1355.8 201.7h0M1341.9 206.9h0M1355.5 207.9h0M1355.7 208.0h0M1349.1 209.2h0M1348.6 209.4h0M1358.0 193.3h0M1358.2 202.6h0M1357.9 202.6h0M1350.6 201.8h0M1346.8 191.8h0M1346.7 191.8h0M1347.0 192.0h0M1346.4 194.3h0M1352.1 209.3h0M1345.1 205.7h0M1345.6 205.8h0M1356.5 202.9h0M1344.5 201.8h0M1344.2 209.0h0M1344.3 202.1h0M1344.3 206.2h0M1360.9 198.8h0M1360.6 204.1h0M1362.6 205.6h0M1343.7 208.6h0M1352.2 208.3h0M1348.8 197.1h0M1348.3 204.2h0M1357.6 208.8h0M1356.8 209.7h0M1343.9 207.3h0M1359.6 195.2h0M1359.6 196.5h0M1359.8 196.7h0M1345.4 209.6h0M1361.5 206.3h0M1361.6 208.3h0M1340.7 187.1h0M1363.9 203.3h0M1363.9 205.4h0M1347.6 186.5h0M1348.6 194.1h0M1347.4 203.9h0M1354.6 202.4h0M1349.2 189.1h0M1349.3 194.3h0M1361.2 202.5h0M1349.0 209.2h0M1345.0 202.8h0M1345.3 205.3h0M1363.5 209.1h0M1347.4 209.1h0M1358.6 203.2h0M1358.7 207.8h0M1352.1 206.9h0M1351.4 206.8h0M1351.1 207.2h0M1355.3 208.9h0M1344.8 208.7h0M1360.4 208.9h0M1347.5 205.7h0M1347.5 206.9h0M1347.4 207.2h0M1347.4 200.5h0M1353.4 207.6h0M1353.4 208.7h0M1352.4 208.3h0M1357.0 208.6h0M1354.4 199.4h0M1354.4 200.5h0M1354.5 202.7h0M1355.1 206.3h0M1343.8 203.8h0M1344.1 208.6h0M1349.2 205.7h0M1349.3 207.4h0M1343.2 209.2h0M1352.0 201.8h0M1342.6 209.6h0M1345.6 208.7h0M1362.8 198.6h0M1362.8 204.9h0M1362.9 199.9h0M1357.7 198.6h0M1354.3 197.0h0M1354.3 200.0h0M1349.7 208.2h0M1437.1 187.0h0M1437.4 192.5h0M1436.7 196.8h0M1441.9 208.3h0M1441.9 206.9h0M1429.8 201.0h0M1429.6 205.1h0M1434.9 198.7h0M1434.9 209.1h0M1434.5 199.0h0M1442.0 208.2h0M1441.6 202.6h0M1442.0 207.8h0M1441.3 205.1h0M1439.6 208.1h0M1439.3 208.8h0M1440.3 198.8h0M1440.6 203.6h0M1434.9 202.2h0M1434.8 206.4h0M1440.9 206.2h0M1440.4 207.1h0M1438.8 203.8h0M1438.7 206.3h0M1432.4 208.6h0M1431.0 204.9h0M1442.2 208.5h0M1428.9 195.4h0M1429.0 200.0h0M1428.1 198.1h0M1429.1 199.3h0M1438.9 205.7h0M1438.6 206.0h0M1438.1 208.5h0M1433.3 208.7h0M1433.4 197.2h0M1433.6 199.9h0M1441.8 208.5h0M1441.9 204.8h0M1442.5 198.1h0M1442.5 202.0h0M1441.0 208.0h0M1442.4 199.1h0M1442.5 202.0h0M1442.6 200.4h0M1429.7 182.5h0M1430.6 202.3h0M1437.2 205.3h0M1436.4 208.9h0M1436.0 207.9h0M1433.7 198.9h0M1434.0 206.3h0M1434.0 200.2h0M1435.2 199.9h0M1442.5 205.4h0M1441.9 207.7h0M1442.3 207.3h0M1442.5 208.6h0M1441.9 205.5h0M1435.6 207.9h0M1433.9 202.5h0M1433.7 202.7h0M1434.4 204.1h0M1434.0 209.0h0M1441.0 198.5h0M1441.3 202.2h0M1439.8 196.1h0M1440.5 197.3h0M1437.4 195.0h0M1437.6 201.7h0M1435.6 207.0h0M1434.9 197.4h0M1435.1 200.1h0M1435.3 204.5h0M1430.7 204.9h0M1428.6 204.7h0M1432.6 201.5h0M1432.8 201.9h0M1432.3 206.4h0M1432.0 208.0h0M1441.9 199.3h0M1441.9 201.7h0M1429.4 186.8h0M1429.3 198.2h0M1429.0 189.4h0M1430.0 190.1h0M1430.7 205.9h0M1430.0 197.5h0M1430.2 203.4h0M1430.7 199.6h0M1429.4 208.3h0M1429.8 205.1h0M1429.2 207.7h0M1429.8 207.2h0M1429.7 205.3h0M1429.3 207.8h0M1432.5 197.6h0M1432.4 200.5h0M1438.6 201.0h0M1438.4 201.9h0M1432.4 198.6h0M1432.4 202.2h0M1437.2 202.9h0M1430.3 207.1h0M1430.2 207.1h0M1432.3 202.7h0M1432.4 207.5h0M1432.4 203.1h0M1434.6 207.1h0M1434.8 209.0h0M1441.3 204.4h0M1437.0 207.7h0M1429.4 207.2h0M1441.2 208.6h0M1440.1 208.1h0M1432.2 202.7h0M1434.5 206.4h0M1441.4 202.9h0M1440.2 195.1h0M1440.3 197.5h0M1439.9 206.2h0M1439.6 208.5h0M1436.3 208.8h0M1440.5 207.5h0M1437.7 208.6h0M1440.4 195.9h0M1440.5 196.0h0M1436.6 199.6h0M1436.8 205.5h0M1432.2 203.1h0M1432.3 208.9h0M1433.1 197.1h0M1433.0 205.9h0M1434.3 200.5h0M1434.1 205.2h0M1434.5 203.9h0M1429.5 204.0h0M1432.2 207.8h0M1441.3 193.4h0M1441.1 200.1h0M1439.2 184.7h0M1442.2 205.4h0M1441.8 206.2h0M1441.4 206.8h0M1429.2 206.5h0M679.6 23.0h0M1343.4 105.5h0M142.0 141.4h0M142.0 150.8h0M147.6 158.8h0M180.6 136.2h0M182.6 154.4h0M205.0 154.2h0M206.2 158.4h0M453.0 154.2h0M511.0 140.0h0M511.6 142.4h0M512.0 144.4h0M512.6 146.4h0M688.6 153.4h0M742.0 155.8h0M933.4 131.6h0M932.0 158.0h0M934.0 160.0h0M916.6 160.0h0M1120.6 156.4h0M1264.2 157.4h0M1343.4 125.8h0M1343.4 131.8h0M1346.8 138.2h0M1343.6 140.0h0M1340.8 156.4h0M1343.6 159.0h0M1347.0 159.6h0M1439.6 157.4h0M142.4 163.6h0M148.6 171.0h0M108.4 177.4h0M111.0 181.0h0M118.0 180.0h0M123.0 177.4h0M122.4 181.0h0M115.0 184.0h0M120.0 186.0h0M138.0 178.0h0M153.0 180.4h0M159.6 180.0h0M159.6 183.0h0M133.0 185.0h0M142.0 185.4h0M149.0 186.6h0M177.4 163.6h0M205.6 159.0h0M206.0 162.0h0M215.0 167.0h0M220.0 168.6h0M195.4 170.6h0M181.6 175.0h0M191.0 174.4h0M190.6 177.0h0M189.4 182.0h0M195.6 183.4h0M205.4 182.0h0M212.0 182.0h0M181.0 188.0h0M433.0 171.4h0M441.6 174.4h0M442.0 177.0h0M433.6 179.0h0M431.0 184.0h0M442.0 181.0h0M442.0 185.0h0M464.0 178.6h0M471.6 176.6h0M477.6 175.4h0M472.0 181.0h0M478.0 180.0h0M499.6 178.6h0M484.0 182.0h0M493.6 183.0h0M466.0 185.0h0M454.0 186.0h0M515.0 162.6h0M514.0 165.0h0M512.4 169.0h0M512.0 172.0h0M515.0 176.6h0M510.0 181.0h0M511.0 185.0h0M679.4 164.6h0M688.0 174.0h0M684.0 180.0h0M682.0 185.0h0M692.4 165.4h0M713.6 173.4h0M713.6 176.0h0M713.6 179.0h0M722.0 175.6h0M728.4 174.6h0M728.4 178.6h0M735.0 176.6h0M736.0 180.0h0M704.0 185.0h0M710.0 182.0h0M723.0 181.0h0M724.0 185.0h0M738.0 185.0h0M744.0 184.0h0M747.0 180.0h0M692.0 188.0h0M695.0 190.0h0M891.6 165.4h0M924.0 168.0h0M933.0 168.0h0M945.0 164.0h0M891.6 175.6h0M896.0 175.6h0M900.0 174.0h0M900.0 176.0h0M933.0 172.0h0M933.6 175.0h0M928.0 176.0h0M927.0 179.0h0M923.0 181.0h0M916.0 180.0h0M932.0 180.0h0M935.0 185.0h0M944.0 179.4h0M946.4 180.0h0M888.0 185.0h0M890.0 188.0h0M906.0 187.0h0M910.0 185.0h0M919.0 185.0h0M938.0 188.0h0M1104.0 163.0h0M1100.0 170.0h0M1107.0 171.0h0M1083.4 174.6h0M1099.0 175.0h0M1112.0 175.0h0M1114.0 176.6h0M1099.0 180.4h0M1104.0 178.0h0M1105.0 181.0h0M1107.0 180.0h0M1120.0 181.0h0M1083.4 187.0h0M1113.0 185.0h0M1117.0 184.0h0M1122.0 187.0h0M1228.0 168.6h0M1255.0 168.0h0M1247.6 172.0h0M1255.0 177.0h0M1263.6 174.0h0M1262.0 179.0h0M1263.0 182.0h0M1228.6 183.0h0M1246.0 185.0h0M1229.0 188.0h0M1235.0 190.0h0M1346.6 168.6h0M1346.6 176.0h0M1346.6 181.0h0M1341.0 184.0h0M1343.0 187.0h0M1344.0 191.0h0M1360.6 174.6h0M1364.0 182.0h0M1360.0 186.0h0M1364.0 185.0h0M1354.0 188.0h0M1354.0 192.0h0M1429.0 170.6h0M1429.0 180.0h0M1433.0 179.4h0M1434.0 185.0h0M1431.0 189.0h0M1432.0 192.0h0M1441.0 192.0h0" stroke="#000000" stroke-width="3.70" stroke-linecap="round" fill="none"/>
<path d="M230.5 183.0h0M230.7 189.5h0M233.6 207.5h0M236.4 208.6h0M236.8 209.0h0M260.7 200.6h0M261.0 203.1h0M260.9 204.9h0M251.6 202.1h0M251.8 204.1h0M251.5 204.8h0M246.7 203.5h0M246.6 209.6h0M246.9 204.2h0M246.4 206.5h0M248.4 205.7h0M248.6 207.5h0M248.6 211.0h0M235.6 198.5h0M247.2 189.5h0M246.8 204.1h0M247.7 192.5h0M246.9 201.6h0M247.8 191.9h0M247.6 196.9h0M227.7 206.8h0M255.6 209.3h0M236.8 203.3h0M236.8 207.2h0M236.4 208.1h0M237.2 210.1h0M237.4 209.2h0M242.4 201.4h0M242.2 204.4h0M242.2 205.8h0M245.3 201.7h0M245.2 210.1h0M245.7 204.8h0M239.6 211.1h0M238.6 188.7h0M238.2 190.5h0M238.7 196.6h0M243.7 207.3h0M259.6 191.1h0M259.9 205.0h0M259.6 194.4h0M245.1 205.4h0M248.0 199.8h0M257.2 194.8h0M257.2 201.0h0M240.6 210.1h0M230.9 198.2h0M231.2 198.6h0M230.3 211.2h0M231.3 202.8h0M234.5 211.3h0M258.0 209.0h0M222.4 208.7h0M230.2 209.0h0M239.8 205.4h0M249.1 208.8h0M249.1 209.4h0M251.2 200.8h0M251.2 207.6h0M251.5 204.1h0M239.5 211.3h0M230.1 208.4h0M242.9 211.2h0M259.0 208.3h0M259.4 204.1h0M237.1 202.6h0M230.9 182.6h0M231.0 198.4h0M238.8 202.7h0M252.0 211.3h0M233.1 201.1h0M233.1 204.3h0M242.0 198.0h0M242.4 202.9h0M260.1 210.3h0M229.0 205.8h0M228.5 206.8h0M249.8 201.2h0M245.0 201.1h0M245.1 204.0h0M244.6 204.5h0M236.8 210.6h0M235.5 199.9h0M235.5 203.2h0M222.3 200.0h0M222.3 202.3h0M225.9 208.2h0M257.8 209.6h0M258.2 211.6h0M244.9 211.2h0M235.4 211.2h0M227.0 203.1h0M227.3 204.9h0M227.2 203.3h0M226.4 209.1h0M227.4 208.0h0M256.4 205.2h0M256.1 209.8h0M235.0 211.6h0M224.1 210.5h0M224.5 211.1h0M226.0 210.2h0M248.8 211.1h0M235.3 211.2h0M243.5 211.0h0M243.2 211.3h0M231.5 202.3h0M231.1 210.4h0M231.9 200.1h0M231.2 207.6h0M222.6 207.2h0M256.0 207.8h0M235.2 187.4h0M235.1 202.2h0M235.2 203.1h0M255.2 211.2h0M253.0 208.8h0M252.8 211.4h0M231.7 206.9h0M231.6 209.9h0M231.8 208.5h0M226.2 210.1h0M252.4 206.8h0M223.1 202.7h0M223.3 207.2h0M223.0 205.9h0M223.6 204.9h0M223.0 206.3h0M247.8 205.5h0M248.4 208.3h0M247.3 206.5h0M247.8 207.1h0M248.1 210.7h0M258.1 198.5h0M258.0 205.1h0M257.8 201.6h0M255.1 209.4h0M255.3 211.4h0M254.7 210.2h0M261.6 205.5h0M261.9 206.5h0M261.9 210.9h0M261.5 209.4h0M238.8 211.2h0M235.9 210.2h0M236.3 210.6h0M234.1 207.9h0M223.2 206.0h0M223.5 207.9h0M240.3 205.0h0M240.7 206.9h0M243.5 183.9h0M243.4 189.3h0M243.6 202.5h0M234.1 207.4h0M234.7 207.5h0M257.5 207.8h0M223.3 202.0h0M232.4 209.9h0M236.0 205.0h0M227.8 202.9h0M227.5 205.6h0M235.3 201.5h0M234.4 210.4h0M232.0 201.9h0M231.9 205.6h0M246.5 211.2h0M250.3 207.7h0M250.1 209.7h0M226.6 203.9h0M230.7 206.9h0M258.0 207.8h0M256.3 209.8h0M260.8 210.1h0M254.5 209.1h0M249.3 211.5h0M251.4 185.5h0M251.6 185.8h0M251.3 185.9h0M251.9 186.9h0M230.4 211.0h0M260.3 201.1h0M223.6 207.2h0M238.9 202.6h0M239.2 204.9h0M238.9 206.1h0M238.8 203.8h0M257.5 209.7h0M226.7 197.5h0M226.4 207.1h0M226.3 203.8h0M226.5 210.5h0M239.1 206.4h0M239.1 211.5h0M225.5 209.6h0M233.5 198.0h0M233.6 209.0h0M233.1 202.5h0M233.6 200.5h0M256.7 208.4h0M256.1 208.9h0M248.9 210.9h0M238.9 211.2h0M231.1 204.9h0M235.1 197.8h0M235.4 198.1h0M235.4 199.5h0M234.3 211.0h0M232.5 210.5h0M235.3 209.9h0M249.5 195.9h0M249.6 202.8h0M249.7 199.7h0M249.5 206.4h0M244.2 194.8h0M244.2 209.2h0M253.9 210.9h0M223.7 203.1h0M223.4 203.5h0M226.6 205.1h0M227.2 207.2h0M248.0 196.4h0M261.8 205.7h0M247.4 203.5h0M247.6 205.3h0M231.7 207.0h0M231.7 208.4h0M249.8 209.3h0M234.8 200.3h0M237.5 207.9h0M238.0 211.6h0M243.6 204.9h0M234.9 204.2h0M235.0 205.6h0M234.5 208.4h0M235.2 208.0h0M235.4 209.8h0M254.8 204.5h0M255.1 209.2h0M254.7 208.6h0M254.4 181.8h0M255.0 197.1h0M243.3 207.8h0M249.2 210.3h0M249.3 210.4h0M231.5 199.8h0M231.9 206.7h0M238.0 203.6h0M238.1 209.7h0M257.6 206.6h0M257.7 208.1h0M235.6 210.4h0M235.9 211.6h0M232.5 195.6h0M232.0 204.1h0M232.5 207.5h0M226.9 198.6h0M226.8 198.8h0M227.2 201.5h0M227.0 201.9h0M226.5 208.9h0M234.0 209.3h0M233.9 209.7h0M241.7 203.4h0M241.5 203.5h0M236.2 205.4h0M236.5 208.8h0M259.9 205.4h0M260.0 205.7h0M236.5 211.2h0M231.5 206.5h0M254.3 210.2h0M256.1 208.0h0M239.7 206.0h0M240.2 206.9h0M250.8 203.0h0M250.8 203.1h0M250.4 207.2h0M222.6 202.6h0M222.7 207.9h0M261.9 204.4h0M238.2 204.5h0M226.1 209.1h0M246.7 206.9h0M235.2 208.7h0M234.7 210.8h0M224.5 207.0h0M225.2 207.6h0M224.4 207.3h0M247.5 210.7h0M223.3 208.5h0M253.5 207.6h0M253.3 207.9h0M253.1 211.0h0M253.8 210.4h0M253.3 207.8h0M253.4 211.4h0M254.9 201.1h0M255.0 201.2h0M255.2 202.0h0M254.5 207.8h0M255.0 203.5h0M235.0 211.5h0M235.5 209.8h0M235.5 210.7h0M251.5 201.7h0M251.4 209.3h0M251.7 203.2h0M257.0 210.8h0M256.8 211.4h0M245.3 208.3h0M254.0 185.2h0M254.0 185.4h0M232.4 192.5h0M232.4 196.1h0M238.7 198.0h0M238.9 200.5h0M238.5 200.1h0M242.2 185.8h0M242.1 190.1h0M242.8 186.4h0M242.3 204.1h0M258.6 208.5h0M232.4 206.9h0M229.3 203.6h0M229.4 210.6h0M229.5 205.0h0M229.0 204.3h0M273.1 208.3h0M273.5 205.5h0M274.1 210.1h0M294.5 210.5h0M331.1 203.2h0M330.7 203.5h0M331.1 206.6h0M331.0 204.3h0M278.5 205.0h0M278.5 205.2h0M289.9 209.8h0M289.9 211.1h0M280.7 205.9h0M280.4 206.2h0M280.6 206.5h0M314.9 206.3h0M329.9 201.8h0M293.9 209.5h0M324.1 210.3h0M323.2 209.9h0M328.2 192.8h0M282.8 207.4h0M330.2 205.7h0M330.1 211.2h0M329.8 206.7h0M317.5 203.6h0M306.4 209.8h0M306.5 210.3h0M306.7 210.7h0M290.1 190.4h0M289.9 198.3h0M320.4 186.1h0M284.3 211.4h0M316.0 211.6h0M281.3 208.5h0M281.5 208.6h0M274.6 211.0h0M306.6 203.7h0M306.8 204.4h0M318.2 205.1h0M322.0 206.4h0M268.8 204.3h0M268.5 207.1h0M268.8 206.7h0M283.3 206.1h0M283.0 207.7h0M304.8 193.2h0M308.3 211.1h0M308.1 211.2h0M299.9 211.2h0M269.5 208.4h0M325.1 200.3h0M325.2 206.0h0M324.8 201.7h0M325.1 200.9h0M274.2 191.0h0M297.0 209.0h0M272.7 200.6h0M272.6 210.6h0M272.4 203.6h0M272.7 205.6h0M277.6 206.6h0M277.9 209.9h0M322.9 192.5h0M323.0 194.4h0M323.0 203.4h0M323.0 210.0h0M303.7 209.5h0M309.1 209.7h0M309.3 210.5h0M323.2 207.1h0M323.1 211.2h0M299.2 202.2h0M298.8 208.8h0M299.1 203.2h0M299.3 208.6h0M322.0 211.3h0M268.1 208.9h0M290.7 211.3h0M314.5 209.9h0M290.4 210.7h0M276.5 207.4h0M270.4 188.4h0M270.9 193.4h0M270.2 193.1h0M328.2 198.9h0M328.1 209.3h0M328.4 203.1h0M295.1 204.1h0M295.0 209.6h0M295.0 211.5h0M294.7 209.2h0M273.0 188.5h0M273.2 192.3h0M283.2 199.4h0M310.5 208.5h0M308.2 210.0h0M283.6 198.7h0M284.2 200.0h0M283.5 207.5h0M283.3 207.6h0M283.7 200.2h0M283.6 206.0h0M286.2 203.5h0M286.2 211.0h0M298.5 209.2h0M312.6 197.9h0M313.2 204.3h0M312.8 205.8h0M312.6 201.8h0M291.6 204.5h0M314.3 204.7h0M278.0 208.6h0M320.7 202.0h0M304.5 207.4h0M318.6 205.8h0M319.2 205.9h0M319.0 211.5h0M318.9 206.6h0M323.7 199.0h0M323.6 204.7h0M323.6 203.8h0M316.0 199.1h0M322.6 209.8h0M292.5 202.2h0M292.2 202.3h0M280.7 192.5h0M280.5 195.4h0M280.7 195.9h0M325.1 202.5h0M300.6 196.4h0M300.5 198.3h0M271.5 203.7h0M271.8 210.6h0M272.0 205.3h0M330.2 211.0h0M330.6 211.1h0M275.4 196.1h0M324.5 203.9h0M324.3 205.9h0M316.4 209.3h0M316.0 210.7h0M286.7 185.6h0M286.2 191.5h0M286.7 186.3h0M300.0 205.3h0M314.3 204.5h0M314.8 211.2h0M314.2 210.8h0M325.4 195.1h0M325.5 195.8h0M325.2 210.0h0M311.2 211.0h0M268.0 211.3h0M320.0 210.2h0M320.2 211.3h0M310.7 207.5h0M317.6 207.2h0M288.2 204.7h0M288.5 204.8h0M275.7 208.9h0M276.0 211.6h0M287.6 210.8h0M317.5 206.9h0M301.8 210.2h0M302.0 211.3h0M275.6 211.0h0M275.4 182.7h0M321.2 204.1h0M315.5 196.8h0M309.9 202.4h0M310.5 211.3h0M317.1 208.3h0M317.5 210.5h0M322.9 201.8h0M322.9 208.3h0M317.4 186.0h0M317.2 192.2h0M314.2 209.4h0M318.7 199.4h0M318.6 205.2h0M325.8 200.7h0M280.3 200.7h0M309.1 202.8h0M286.2 207.3h0M285.5 210.3h0M286.6 208.7h0M315.2 194.5h0M315.6 196.4h0M317.8 211.3h0M273.8 207.8h0M273.8 208.8h0M316.1 196.2h0M315.8 208.1h0M315.9 196.6h0M316.2 207.0h0M308.3 182.2h0M308.3 206.0h0M307.7 191.8h0M308.2 188.3h0M269.6 201.0h0M269.6 204.4h0M275.5 209.8h0M306.3 198.8h0M306.1 200.1h0M279.6 209.4h0M316.8 208.7h0M294.2 209.9h0M276.8 206.2h0M277.0 206.2h0M277.0 211.1h0M276.7 207.3h0M301.0 197.8h0M301.3 203.7h0M270.6 195.3h0M270.1 202.4h0M271.2 206.6h0M306.0 206.4h0M306.3 211.4h0M314.4 207.5h0M314.5 209.5h0M314.5 210.0h0M314.3 210.8h0M328.7 206.5h0M328.6 207.2h0M324.8 210.8h0M328.3 204.7h0M328.2 206.0h0M328.4 206.5h0M328.4 210.0h0M271.4 193.8h0M271.1 205.3h0M271.2 198.8h0M268.3 203.8h0M268.3 210.2h0M268.1 206.2h0M267.9 203.9h0M274.2 203.7h0M274.4 205.7h0M276.4 208.8h0M276.2 211.3h0M274.0 210.9h0M281.4 202.7h0M282.1 205.8h0M315.5 211.4h0M307.5 207.5h0M307.6 208.9h0M315.1 210.5h0M315.2 211.5h0M272.6 202.0h0M272.4 204.8h0M323.3 209.8h0M312.8 181.1h0M312.9 194.2h0M312.7 203.4h0M312.7 186.4h0M313.1 188.0h0M301.1 193.9h0M301.5 195.2h0M301.1 200.7h0M301.1 196.3h0M301.1 194.3h0M272.0 207.4h0M303.7 204.9h0M303.8 210.9h0M303.5 208.0h0M303.6 209.5h0M329.8 209.7h0M292.1 196.5h0M291.9 199.1h0M292.0 200.3h0M298.4 208.0h0M321.6 206.4h0M321.7 210.7h0M321.5 207.0h0M285.5 208.2h0M286.2 210.5h0M285.3 209.9h0M272.1 185.2h0M295.0 209.6h0M294.9 211.3h0M324.9 208.4h0M267.7 211.6h0M329.2 202.1h0M293.0 210.2h0M292.7 210.3h0M293.0 210.3h0M293.7 210.4h0M298.6 210.5h0M310.4 211.0h0M326.6 210.9h0M298.7 211.5h0M314.6 209.2h0M314.4 209.2h0M292.4 210.5h0M317.8 206.3h0M317.8 208.6h0M267.8 205.0h0M267.8 209.1h0M291.4 210.6h0M293.8 209.4h0M293.8 209.7h0M293.7 210.4h0M327.3 203.8h0M327.7 205.3h0M326.9 204.2h0M276.1 206.8h0M275.8 211.6h0M276.3 207.3h0M315.5 208.3h0M315.1 211.5h0M328.9 206.4h0M279.5 203.7h0M279.7 209.8h0M310.7 193.9h0M311.1 199.5h0M309.9 196.0h0M310.8 194.8h0M310.9 198.5h0M286.7 193.0h0M287.3 195.7h0M287.4 201.4h0M286.9 204.7h0M286.6 199.3h0M302.8 185.8h0M302.6 204.7h0M303.1 193.9h0M283.6 207.8h0M319.2 200.1h0M319.4 203.8h0M319.6 202.3h0M319.3 200.3h0M319.3 207.2h0M319.2 205.6h0M301.1 182.8h0M293.0 202.4h0M292.7 203.2h0M292.6 208.4h0M324.2 209.6h0M324.5 211.0h0M329.5 201.6h0M284.7 210.4h0M291.5 209.6h0M311.3 191.8h0M302.2 210.6h0M269.0 209.3h0M268.9 211.0h0M298.5 210.9h0M298.5 211.3h0M306.2 210.4h0M309.5 209.9h0M318.5 210.4h0M278.1 199.3h0M313.8 210.8h0M306.9 204.7h0M298.0 201.5h0M321.1 203.9h0M315.9 197.8h0M315.7 204.3h0M270.3 206.8h0M270.3 207.4h0M330.9 207.9h0M288.9 209.7h0M289.7 211.6h0M294.0 209.9h0M317.3 206.7h0M317.4 208.2h0M317.5 207.2h0M303.8 205.8h0M304.0 209.5h0M276.2 205.5h0M275.6 209.2h0M276.1 206.5h0M275.8 210.3h0M275.8 209.9h0M276.4 210.9h0M293.3 183.9h0M293.2 184.0h0M315.3 205.9h0M299.6 205.0h0M323.2 210.4h0M305.6 200.3h0M305.7 204.1h0M305.9 211.0h0M274.5 204.6h0M274.4 207.5h0M325.6 194.5h0M325.1 199.8h0M325.7 194.7h0M318.9 211.4h0M291.8 196.7h0M291.9 197.7h0M290.7 210.4h0M298.1 205.2h0M297.7 205.5h0M284.2 204.9h0M288.8 205.3h0M289.5 209.5h0M328.1 204.9h0M327.8 208.2h0M311.8 211.4h0M268.9 202.9h0M268.6 204.0h0M269.1 203.0h0M268.6 208.3h0M270.6 206.9h0M286.4 196.7h0M318.9 209.8h0M321.7 208.5h0M320.6 182.9h0M320.5 189.3h0M288.6 207.4h0M291.6 209.4h0M291.8 210.9h0M291.9 210.8h0M282.9 201.5h0M283.1 202.0h0M283.3 209.5h0M319.6 210.4h0M309.9 207.4h0M295.3 207.2h0M282.4 203.5h0M277.7 206.5h0M277.4 211.2h0M277.3 207.1h0M278.0 210.0h0M277.0 208.3h0M308.6 201.5h0M307.8 204.7h0M287.0 206.4h0M286.8 207.9h0M290.7 184.9h0M290.7 186.2h0M290.6 203.6h0M291.3 191.4h0M293.5 206.4h0M274.1 210.8h0M321.0 194.6h0M320.9 195.3h0M320.8 197.0h0M316.1 205.3h0M306.3 202.6h0M329.4 211.1h0M291.6 209.9h0M282.6 186.6h0M282.7 192.5h0M283.2 188.8h0M290.9 211.2h0M282.2 198.8h0M282.0 201.1h0M282.0 200.2h0M316.9 210.2h0M316.8 211.6h0M291.0 200.2h0M277.5 208.6h0M277.7 209.5h0M277.7 211.4h0M287.4 187.2h0M287.3 189.9h0M307.8 210.1h0M312.7 195.9h0M312.8 198.2h0M312.4 201.6h0M312.5 204.4h0M302.0 198.2h0M302.3 208.7h0M302.5 200.1h0M302.2 200.3h0M303.0 202.5h0M302.6 202.1h0M300.7 202.2h0M277.0 209.2h0M323.7 209.3h0M323.5 211.3h0M290.8 205.4h0M290.3 205.8h0M281.7 209.4h0M271.2 211.5h0M296.0 203.5h0M296.2 206.8h0M327.1 205.3h0M327.1 206.4h0M327.1 207.2h0M303.9 202.0h0M304.1 202.1h0M302.6 204.6h0M303.1 206.8h0M290.9 206.1h0M290.1 211.6h0M288.9 205.7h0M300.5 209.5h0M273.9 190.3h0M274.1 195.2h0M548.3 209.2h0M528.3 205.3h0M593.1 203.7h0M568.0 210.9h0M578.8 205.6h0M547.2 209.6h0M593.6 206.9h0M593.7 209.4h0M584.3 210.9h0M518.4 205.7h0M518.2 206.1h0M518.6 205.9h0M583.3 210.4h0M531.4 207.7h0M542.9 197.8h0M588.5 204.5h0M588.2 208.4h0M587.9 211.6h0M559.1 209.1h0M559.0 210.2h0M592.9 198.1h0M592.7 201.4h0M592.5 208.3h0M528.9 209.8h0M529.2 210.9h0M518.3 185.0h0M519.1 193.4h0M518.3 186.4h0M571.7 209.9h0M571.5 210.4h0M571.6 210.7h0M528.0 202.3h0M528.6 203.7h0M528.5 205.3h0M592.5 183.8h0M592.8 187.7h0M592.4 184.8h0M592.3 191.9h0M592.7 210.3h0M569.2 210.7h0M573.5 201.8h0M573.3 205.8h0M553.5 204.3h0M553.3 206.1h0M553.4 205.4h0M556.1 209.2h0M555.8 211.5h0M575.0 195.5h0M574.9 199.1h0M575.0 197.9h0M574.7 201.5h0M575.3 197.0h0M546.5 202.1h0M593.7 211.1h0M580.7 208.8h0M562.9 187.4h0M563.7 192.3h0M562.5 202.3h0M520.8 210.4h0M543.1 211.2h0M542.9 211.4h0M543.2 211.3h0M528.6 207.1h0M593.4 201.1h0M593.3 206.1h0M541.6 200.1h0M542.0 208.2h0M592.9 207.9h0M540.8 207.8h0M540.7 208.5h0M583.2 211.3h0M562.7 204.7h0M564.8 205.2h0M529.2 201.6h0M529.0 203.0h0M567.2 186.2h0M517.6 209.9h0M578.8 206.3h0M578.8 210.1h0M568.8 201.1h0M568.8 210.1h0M520.8 193.2h0M520.7 194.6h0M520.7 201.5h0M518.4 210.9h0M523.3 197.8h0M523.1 209.6h0M523.1 203.3h0M548.1 206.3h0M526.4 210.1h0M526.0 210.5h0M579.0 208.2h0M515.7 204.0h0M515.5 205.2h0M515.8 210.3h0M515.9 205.9h0M583.4 210.4h0M518.6 196.9h0M518.3 202.4h0M518.9 209.9h0M571.7 211.0h0M595.6 210.8h0M548.4 197.5h0M548.5 204.0h0M548.4 211.2h0M548.8 202.8h0M545.4 204.0h0M545.5 208.2h0M545.4 210.0h0M544.9 207.2h0M519.0 208.7h0M592.5 202.7h0M592.6 203.7h0M586.1 211.4h0M578.1 211.1h0M560.8 208.1h0M594.5 211.0h0M590.2 199.3h0M548.0 198.8h0M547.9 207.1h0M548.0 204.6h0M587.9 207.1h0M588.4 210.6h0M570.7 198.4h0M570.8 202.1h0M570.6 202.0h0M516.9 208.8h0M516.9 209.1h0M516.9 209.7h0M526.1 211.0h0M553.7 209.6h0M546.4 206.0h0M560.8 209.1h0M541.0 208.8h0M541.1 211.4h0M587.5 203.4h0M562.0 185.0h0M561.7 188.9h0M596.1 192.8h0M595.8 196.6h0M596.1 203.6h0M595.8 199.9h0M531.7 194.3h0M531.6 206.0h0M532.1 196.7h0M531.5 202.9h0M543.2 211.0h0M558.3 197.4h0M543.1 198.2h0M551.2 202.7h0M551.4 209.2h0M550.8 204.1h0M574.5 204.2h0M561.6 203.0h0M561.4 205.0h0M524.0 199.6h0M524.0 202.2h0M523.6 210.1h0M589.0 208.0h0M530.1 207.4h0M530.4 208.1h0M572.1 196.4h0M572.5 200.2h0M591.6 200.6h0M591.8 200.7h0M577.3 211.4h0M546.9 189.8h0M546.1 195.8h0M547.5 198.3h0M546.6 203.7h0M546.4 196.7h0M547.6 202.2h0M593.3 206.8h0M593.0 210.1h0M570.5 187.8h0M570.1 198.9h0M571.1 196.1h0M570.1 187.9h0M574.9 210.9h0M562.3 181.8h0M562.3 182.2h0M562.2 192.3h0M562.7 194.3h0M562.1 188.4h0M563.0 186.3h0M551.7 190.6h0M551.0 201.7h0M546.1 210.6h0M546.2 211.5h0M557.0 203.6h0M556.8 208.7h0M556.9 205.5h0M589.9 205.1h0M553.9 204.7h0M553.9 208.3h0M554.0 207.1h0M592.7 203.9h0M518.6 203.3h0M519.0 207.7h0M518.5 208.7h0M553.1 210.3h0M541.9 193.4h0M542.0 207.9h0M557.9 204.6h0M557.9 206.5h0M591.2 206.3h0M591.3 209.8h0M591.4 207.8h0M581.2 207.4h0M518.4 199.5h0M573.1 203.4h0M572.7 208.6h0M572.9 210.4h0M532.7 207.3h0M533.2 211.2h0M532.9 209.6h0M530.1 210.3h0M584.7 200.5h0M541.1 205.6h0M576.4 193.7h0M527.9 189.1h0M527.8 189.4h0M581.2 195.4h0M580.8 197.1h0M581.1 205.2h0M581.6 206.0h0M581.5 210.9h0M581.4 209.8h0M541.9 207.2h0M572.9 199.0h0M572.5 202.1h0M572.8 202.0h0M573.3 207.0h0M572.8 207.5h0M551.5 209.7h0M551.8 211.0h0M587.3 206.4h0M542.9 209.9h0M567.5 198.7h0M567.1 208.4h0M567.2 209.0h0M551.1 201.1h0M551.1 203.7h0M582.2 211.3h0M526.8 207.4h0M526.7 195.1h0M527.2 196.5h0M526.7 204.6h0M554.9 199.6h0M557.8 205.1h0M552.4 210.3h0M522.3 192.6h0M522.3 210.6h0M569.5 211.5h0M536.0 208.9h0M550.2 201.1h0M549.8 205.1h0M589.6 187.5h0M589.5 194.1h0M573.7 206.1h0M573.6 210.2h0M573.8 211.3h0M553.3 204.9h0M553.6 205.8h0M553.2 207.7h0M553.7 205.4h0M569.9 209.6h0M590.2 204.7h0M592.1 209.8h0M592.4 210.5h0M519.8 207.4h0M556.0 203.8h0M531.6 207.2h0M531.5 208.4h0M593.6 199.5h0M594.4 205.7h0M593.8 204.3h0M525.0 206.3h0M525.3 207.3h0M570.8 211.0h0M535.0 185.6h0M535.1 199.4h0M534.8 198.3h0M534.7 194.2h0M534.8 186.4h0M586.7 207.2h0M586.4 208.7h0M563.5 202.2h0M570.2 210.6h0M570.4 211.2h0M567.0 209.2h0M563.2 201.0h0M530.9 206.4h0M530.5 207.0h0M530.9 206.5h0M531.8 207.2h0M531.6 211.5h0M531.7 208.1h0M516.7 203.8h0M590.7 207.3h0M526.3 200.9h0M523.2 208.1h0M556.4 207.0h0M556.2 210.9h0M523.2 197.5h0M523.7 208.9h0M562.9 209.7h0M556.1 209.9h0M586.0 190.1h0M586.0 191.6h0M586.0 203.8h0M587.9 210.4h0M587.9 210.7h0M587.6 210.7h0M581.6 210.1h0M522.0 203.3h0M522.6 209.5h0M527.5 186.8h0M527.8 193.6h0M527.4 189.7h0M582.3 210.3h0M526.7 208.9h0M531.6 209.2h0M593.5 210.4h0M586.5 183.6h0M586.5 196.0h0M586.5 190.7h0M588.4 211.2h0M517.1 189.8h0M516.6 194.2h0M517.5 197.0h0M516.9 208.7h0M526.4 206.8h0M582.9 198.9h0M547.1 207.8h0M547.4 210.1h0M547.4 208.5h0M589.9 210.6h0M589.5 210.6h0M519.7 204.2h0M564.7 211.1h0M565.6 210.1h0M575.1 209.6h0M574.8 210.1h0M594.9 196.5h0M543.9 204.6h0M544.1 210.1h0M575.2 199.2h0M544.9 203.8h0M545.1 208.8h0M583.3 207.2h0M583.7 209.7h0M561.9 209.7h0M551.5 201.2h0M551.1 206.0h0M541.4 208.3h0M541.7 211.3h0M541.3 208.6h0M547.8 203.5h0M547.7 203.6h0M557.6 201.3h0M563.9 211.2h0M554.3 204.5h0M554.3 208.4h0M556.9 210.9h0M576.4 191.3h0M576.4 192.9h0M542.5 203.4h0M588.7 201.2h0M589.1 204.2h0M579.2 188.5h0M578.9 206.1h0M579.0 191.6h0M579.1 196.3h0M551.2 200.9h0M562.4 205.3h0M588.8 195.8h0M589.0 204.3h0M591.1 211.5h0M591.1 211.5h0M522.9 197.6h0M550.9 205.7h0M550.7 210.7h0M557.3 191.5h0M559.6 211.5h0M559.6 211.6h0M573.1 209.6h0M564.9 204.4h0M564.9 205.0h0M564.3 208.5h0M576.2 207.9h0M581.2 208.6h0M575.9 209.7h0M567.8 204.7h0M569.8 201.5h0M569.3 206.0h0M564.4 189.3h0M565.0 194.4h0M564.5 192.6h0M593.3 208.3h0M572.0 210.4h0M546.5 207.8h0M520.7 210.1h0M582.2 206.7h0M558.6 211.6h0M565.6 184.7h0M565.6 200.9h0M565.4 208.7h0M565.8 185.1h0M565.0 199.0h0M523.1 209.5h0M560.2 206.8h0M560.3 210.0h0M588.7 208.5h0M581.9 210.6h0M581.4 211.4h0M554.2 205.8h0M554.1 206.0h0M573.2 211.6h0M552.0 204.3h0M542.4 197.4h0M542.3 209.2h0M542.5 201.8h0M587.5 207.1h0M592.6 210.1h0M581.4 203.1h0M528.5 204.2h0M528.2 207.2h0M568.4 210.4h0M575.2 208.4h0M548.6 196.0h0M548.7 197.6h0M548.1 198.4h0M548.6 207.2h0M520.4 206.2h0M573.5 188.3h0M573.1 211.3h0M573.6 199.2h0M592.7 207.7h0M528.7 206.8h0M557.5 210.9h0M520.9 201.8h0M520.8 207.9h0M521.3 203.2h0M521.2 208.2h0M520.9 202.6h0M560.1 207.4h0M560.1 207.5h0M559.7 211.3h0M574.4 207.0h0M518.9 203.6h0M518.7 205.1h0M518.9 203.7h0M519.5 208.5h0M582.5 208.6h0M517.6 208.4h0M573.3 204.1h0M546.7 206.1h0M546.9 208.4h0M574.7 187.4h0M574.6 190.9h0M525.9 202.5h0M526.4 209.1h0M526.1 208.6h0M592.9 195.6h0M593.5 197.0h0M593.2 199.6h0M592.6 198.6h0M562.6 210.0h0M562.4 210.7h0M528.6 201.4h0M528.0 209.1h0M525.2 195.1h0M524.9 197.0h0M525.2 196.9h0M574.3 210.9h0M589.6 209.9h0M589.4 210.1h0M595.6 201.9h0M595.7 206.6h0M553.2 210.6h0M553.6 211.6h0M525.3 195.5h0M531.9 211.4h0M531.9 211.4h0M593.4 208.4h0M578.5 187.8h0M578.5 199.0h0M578.8 189.9h0M578.6 209.5h0M577.9 188.7h0M559.2 210.5h0M585.9 203.1h0M520.2 209.7h0M591.0 205.4h0M591.3 209.3h0M590.6 205.4h0M569.7 209.4h0M581.4 206.4h0M580.8 208.1h0M581.8 211.0h0M593.0 200.4h0M592.9 206.4h0M592.7 201.2h0M593.1 204.4h0M593.1 204.4h0M592.8 204.1h0M586.8 210.0h0M567.0 208.5h0M566.8 208.7h0M545.6 210.6h0M545.5 211.5h0M563.6 211.0h0M545.5 211.2h0M559.6 207.4h0M592.9 189.6h0M592.7 191.2h0M593.0 196.1h0M592.6 201.0h0M592.7 206.7h0M543.9 210.7h0M570.4 210.3h0M587.9 211.5h0M589.1 210.6h0M572.1 191.8h0M572.5 199.2h0M594.1 208.0h0M520.5 202.7h0M520.2 203.7h0M527.4 199.8h0M527.5 203.4h0M527.8 206.2h0M528.0 205.6h0M527.8 202.2h0M530.4 211.0h0M559.0 209.0h0M559.5 202.9h0M559.2 204.2h0M559.3 207.4h0M593.3 206.1h0M593.1 210.5h0M593.3 207.3h0M541.1 198.4h0M541.0 210.7h0M546.0 210.4h0M575.4 208.7h0M575.2 210.5h0M586.3 210.3h0M580.1 210.8h0M580.0 211.1h0M568.8 210.6h0M566.1 208.9h0M566.6 211.2h0M578.3 189.2h0M578.2 192.8h0M578.2 203.0h0M578.6 199.2h0M583.1 204.3h0M582.3 210.5h0M583.4 204.8h0M582.4 207.9h0M583.4 201.7h0M583.3 207.0h0M583.0 204.6h0M552.2 211.2h0M547.5 192.2h0M547.2 202.5h0M547.0 197.5h0M547.7 202.4h0M553.2 210.9h0M573.8 207.6h0M574.1 211.6h0M574.2 210.6h0M573.8 210.0h0M594.6 208.9h0M594.4 210.5h0M594.8 210.7h0M527.8 207.2h0M554.1 207.7h0M554.3 207.9h0M546.0 210.4h0M539.3 190.3h0M573.1 207.7h0M573.1 211.2h0M524.9 206.7h0M525.0 207.2h0M525.2 207.4h0M542.8 207.3h0M522.6 209.8h0M541.0 207.5h0M541.2 207.6h0M577.0 209.4h0M566.9 195.0h0M551.0 194.7h0M550.9 201.9h0M530.9 203.3h0M584.5 192.2h0M584.6 193.2h0M583.2 199.2h0M559.5 208.2h0M576.7 203.9h0M577.0 206.1h0M576.8 204.0h0M595.8 200.4h0M595.9 204.8h0M595.6 209.2h0M595.9 204.8h0M544.1 207.6h0M518.2 202.0h0M518.0 204.1h0M530.6 187.0h0M557.4 208.3h0M520.1 206.7h0M520.2 211.0h0M540.9 210.4h0M585.3 211.5h0M557.0 207.5h0M556.5 211.0h0M528.7 205.3h0M528.6 208.0h0M594.1 198.7h0M517.2 206.9h0M516.8 209.0h0M517.5 208.6h0M517.3 207.9h0M583.1 208.9h0M562.9 211.5h0M521.2 199.5h0M521.4 203.7h0M520.2 210.5h0M520.8 200.2h0M521.1 202.0h0M547.4 209.4h0M566.5 200.3h0M566.6 200.3h0M566.4 207.6h0M526.2 195.5h0M526.4 196.2h0M526.0 198.6h0M540.7 209.0h0M540.7 210.6h0M540.5 210.6h0M540.9 211.6h0M563.6 203.1h0M585.6 209.8h0M591.8 197.9h0M592.0 201.3h0M591.8 203.0h0M568.8 202.0h0M568.7 204.9h0M569.1 208.1h0M560.7 209.0h0M554.0 195.8h0M554.1 199.3h0M553.8 203.0h0M554.1 195.8h0M527.1 201.2h0M526.7 204.7h0M545.0 199.0h0M575.8 210.2h0M575.6 211.0h0M572.0 208.5h0M572.2 211.3h0M520.2 211.4h0M573.4 209.3h0M580.1 211.1h0M570.2 210.1h0M529.2 201.6h0M585.3 203.5h0M585.4 205.0h0M531.5 201.8h0M531.7 210.3h0M561.1 211.0h0M569.0 211.5h0M568.4 197.8h0M518.3 205.5h0M518.9 208.4h0M545.5 184.8h0M545.9 197.7h0M555.8 205.6h0M556.0 210.4h0M556.3 194.8h0M556.5 199.2h0M517.7 205.8h0M517.8 207.6h0M519.9 203.3h0M585.1 194.9h0M585.4 202.4h0M524.7 204.7h0M524.6 209.3h0M524.9 209.0h0M584.6 211.3h0M591.6 209.3h0M591.8 210.2h0M591.9 211.2h0M591.5 209.8h0M562.7 209.6h0M551.4 193.1h0M551.7 195.0h0M559.7 199.5h0M559.9 202.9h0M559.9 207.0h0M559.8 200.8h0M551.9 203.4h0M543.8 205.7h0M543.7 210.6h0M565.4 203.3h0M562.1 194.1h0M562.2 204.2h0M562.1 195.1h0M562.5 196.0h0M570.0 195.7h0M569.9 196.3h0M587.9 199.6h0M588.6 203.5h0M587.8 202.4h0M588.0 203.0h0M789.6 208.3h0M789.6 208.9h0M781.9 194.6h0M782.0 205.6h0M755.1 204.7h0M755.5 208.4h0M756.8 208.3h0M756.8 208.7h0M784.8 203.9h0M800.4 199.0h0M800.3 208.8h0M802.7 199.2h0M803.0 203.4h0M803.2 206.8h0M780.4 189.6h0M780.5 205.2h0M780.5 194.1h0M784.8 201.8h0M784.7 205.2h0M810.0 202.8h0M810.5 207.0h0M810.7 203.1h0M798.4 207.4h0M798.5 207.7h0M774.4 197.5h0M774.7 198.8h0M774.5 204.7h0M774.5 209.0h0M774.5 201.9h0M774.6 200.0h0M800.7 208.7h0M813.8 207.6h0M761.0 195.4h0M761.2 206.8h0M801.6 204.0h0M773.6 205.8h0M773.3 208.1h0M780.4 208.2h0M786.0 205.2h0M786.2 206.3h0M804.7 205.7h0M804.9 207.6h0M804.0 208.4h0M753.1 193.2h0M753.4 203.7h0M753.0 197.4h0M752.9 201.0h0M784.2 195.7h0M809.7 195.8h0M809.8 205.7h0M809.1 197.0h0M788.6 208.1h0M816.6 206.6h0M766.2 207.1h0M812.4 208.8h0M781.4 204.6h0M786.3 199.2h0M788.8 198.5h0M789.2 206.7h0M788.5 204.2h0M789.0 206.3h0M800.6 202.9h0M798.0 201.4h0M797.8 203.5h0M757.6 206.5h0M794.6 206.1h0M808.3 205.6h0M800.0 206.5h0M779.5 197.8h0M779.4 205.4h0M793.9 204.5h0M794.2 204.8h0M783.0 204.5h0M782.9 206.7h0M783.1 207.5h0M782.8 207.3h0M770.8 186.5h0M770.7 187.0h0M814.9 198.7h0M815.2 204.6h0M780.9 204.8h0M808.5 198.3h0M784.8 192.3h0M784.8 194.0h0M779.1 202.1h0M796.8 200.6h0M766.6 203.9h0M766.3 205.9h0M790.8 208.4h0M756.0 208.0h0M755.9 208.9h0M775.5 205.3h0M805.9 201.4h0M802.5 207.6h0M788.5 206.0h0M757.2 200.2h0M816.6 202.9h0M816.6 203.0h0M816.2 206.4h0M761.5 206.1h0M794.7 198.0h0M794.9 198.3h0M794.7 203.8h0M794.2 198.4h0M753.2 197.2h0M806.0 205.9h0M806.3 205.9h0M783.3 205.6h0M778.3 208.0h0M798.1 207.7h0M797.9 208.1h0M797.8 207.8h0M786.6 200.6h0M786.4 205.0h0M786.6 204.4h0M776.0 202.7h0M776.0 203.7h0M776.2 203.9h0M782.0 207.3h0M753.6 198.9h0M800.9 194.9h0M800.8 197.4h0M801.1 199.4h0M800.9 195.6h0M753.5 193.9h0M753.4 194.6h0M755.9 206.4h0M755.9 208.7h0M786.6 206.8h0M760.1 207.0h0M788.1 198.2h0M788.0 202.2h0M788.3 202.0h0M788.1 202.9h0M783.0 185.3h0M782.5 189.5h0M770.3 203.9h0M770.2 208.7h0M787.7 204.2h0M787.6 205.7h0M759.5 203.9h0M759.9 204.9h0M803.2 207.4h0M765.1 206.8h0M765.5 206.8h0M765.3 207.5h0M814.7 206.3h0M781.0 208.5h0M801.1 209.0h0M793.2 189.5h0M793.3 199.0h0M776.3 200.0h0M776.0 207.1h0M776.4 201.2h0M799.9 192.1h0M800.2 194.4h0M811.1 208.8h0M816.4 190.7h0M816.5 192.7h0M807.6 202.8h0M774.7 194.1h0M774.8 194.4h0M774.4 203.0h0M798.7 187.6h0M798.5 205.1h0M814.6 181.2h0M767.4 199.1h0M796.9 198.9h0M796.2 199.1h0M767.1 207.7h0M778.4 206.1h0M782.4 208.0h0M763.1 206.3h0M809.6 202.4h0M753.7 208.9h0M781.7 189.9h0M781.9 191.9h0M781.6 192.9h0M782.1 197.8h0M782.4 194.9h0M790.4 197.7h0M791.2 204.5h0M802.3 202.8h0M782.2 207.8h0M788.0 206.4h0M760.0 202.9h0M765.6 205.4h0M766.3 205.4h0M765.5 205.8h0M759.1 208.2h0M811.5 183.9h0M811.1 186.3h0M812.0 188.6h0M811.5 195.9h0M775.8 199.2h0M766.9 203.1h0M766.3 203.1h0M784.5 207.3h0M793.3 207.1h0M781.1 197.3h0M780.8 197.8h0M781.2 205.2h0M796.5 206.1h0M755.4 207.0h0M755.7 208.4h0M754.8 207.2h0M758.7 204.1h0M758.5 205.7h0M812.0 207.1h0M785.8 203.6h0M794.3 183.6h0M793.9 193.2h0M794.4 184.5h0M809.7 204.0h0M795.9 206.1h0M795.9 208.2h0M796.8 203.3h0M796.9 207.1h0M754.9 207.9h0M785.5 207.0h0M796.8 205.8h0M764.5 188.7h0M764.9 194.7h0M764.2 205.6h0M764.7 195.6h0M764.7 193.8h0M755.4 205.6h0M785.6 206.9h0M785.3 207.2h0M766.3 202.9h0M766.3 207.9h0M810.4 205.6h0M810.4 207.5h0M804.5 198.5h0M804.3 203.5h0M804.8 199.0h0M804.9 204.0h0M804.3 203.8h0M804.3 204.1h0M804.0 204.6h0M780.1 203.1h0M780.0 208.9h0M814.3 206.4h0M813.8 208.2h0M814.0 207.4h0M789.1 201.0h0M765.6 204.4h0M781.1 208.9h0M791.6 209.1h0M777.3 202.8h0M777.1 208.7h0M777.6 208.3h0M762.3 198.4h0M762.2 207.5h0M810.8 207.5h0M811.1 207.8h0M803.8 207.8h0M757.2 208.1h0M757.1 208.4h0M757.0 203.6h0M755.4 201.4h0M810.7 189.0h0M810.9 190.9h0M810.8 195.5h0M807.5 200.0h0M802.1 196.0h0M802.0 206.5h0M801.8 208.4h0M802.6 203.6h0M757.2 198.1h0M757.1 199.0h0M757.5 202.1h0M757.5 201.3h0M754.4 199.6h0M754.7 204.6h0M755.1 206.3h0M755.0 208.4h0M779.4 202.5h0M779.6 208.5h0M779.9 203.9h0M794.5 208.6h0M762.1 200.4h0M761.8 203.1h0M805.1 198.9h0M799.7 198.5h0M762.6 205.7h0M762.4 209.0h0M803.9 207.9h0M791.9 194.2h0M792.1 198.4h0M776.8 205.6h0M814.6 203.3h0M814.3 203.4h0M755.0 207.8h0M755.2 208.4h0M782.3 206.1h0M782.3 206.9h0M782.3 207.7h0M801.6 206.9h0M784.4 186.2h0M784.4 193.9h0M761.4 200.3h0M761.5 204.1h0M761.2 203.4h0M761.4 204.0h0M812.9 198.6h0M772.7 197.8h0M766.3 203.2h0M766.9 204.3h0M774.4 203.6h0M767.4 202.6h0M767.9 203.3h0M774.7 201.7h0M794.8 205.4h0M794.7 207.1h0M782.6 205.1h0M796.7 204.4h0M796.9 206.6h0M798.6 208.9h0M811.5 207.7h0M811.3 208.9h0M811.7 208.5h0M779.1 207.0h0M779.1 208.8h0M765.0 200.1h0M765.2 207.9h0M765.0 203.1h0M775.9 205.7h0M776.1 209.0h0M779.0 202.2h0M779.6 204.4h0M779.2 202.3h0M780.0 205.8h0M779.8 208.7h0M778.1 206.8h0M812.1 188.6h0M812.2 199.6h0M767.1 189.6h0M766.8 195.3h0M756.3 202.8h0M756.4 207.6h0M756.3 207.2h0M777.4 189.1h0M777.7 199.7h0M758.8 204.8h0M761.3 201.1h0M761.3 202.7h0M767.0 197.0h0M767.0 204.6h0M767.2 198.4h0M799.5 208.8h0M808.0 207.3h0M807.9 207.9h0M771.5 203.1h0M771.5 208.1h0M807.1 205.7h0M811.1 200.0h0M811.6 202.9h0M764.5 205.4h0M782.3 198.1h0M782.2 207.9h0M781.8 199.3h0M782.5 200.2h0M810.8 207.9h0M800.0 208.2h0M797.7 204.0h0M797.8 207.9h0M797.7 205.4h0M807.7 208.4h0M794.5 191.2h0M798.3 205.7h0M765.0 181.5h0M765.0 184.4h0M765.4 181.7h0M815.6 202.9h0M815.6 204.5h0M815.3 203.3h0M813.3 205.5h0M813.4 207.2h0M803.6 207.3h0M773.6 205.3h0M773.7 207.1h0M764.7 207.8h0M764.8 209.0h0M776.4 201.2h0M776.4 203.7h0M776.8 206.9h0M760.4 187.0h0M760.4 187.7h0M760.2 204.9h0M779.7 199.3h0M773.5 208.1h0M757.2 194.4h0M756.6 195.8h0M788.0 206.5h0M801.1 208.0h0M815.6 198.8h0M815.7 205.9h0M766.8 201.4h0M767.0 203.0h0M766.7 202.0h0M755.4 200.5h0M755.4 200.7h0M757.4 205.1h0M757.6 205.2h0M767.3 201.0h0M768.2 205.0h0M768.1 206.9h0M781.0 207.9h0M781.1 208.4h0M780.8 205.5h0M780.9 207.2h0M799.5 193.8h0M799.6 200.0h0M799.5 198.9h0M815.9 200.1h0M815.7 204.3h0M816.2 202.0h0M816.3 200.7h0M802.7 206.9h0M776.6 208.8h0M799.1 201.8h0M799.2 205.0h0M798.8 205.2h0M805.3 207.5h0M795.4 203.8h0M811.6 207.4h0M811.7 207.4h0M812.0 196.1h0M812.3 204.9h0M811.8 203.7h0M809.1 186.5h0M809.3 188.5h0M805.2 204.4h0M806.1 204.6h0M812.9 208.8h0M756.0 185.2h0M814.6 198.8h0M814.5 202.2h0M807.8 199.4h0M807.7 201.2h0M807.7 200.5h0M808.6 207.7h0M816.5 185.9h0M816.6 194.5h0M782.4 208.6h0M759.7 208.5h0M769.4 208.3h0M811.8 206.6h0M812.3 205.9h0M812.4 207.1h0M779.3 206.7h0M801.7 188.7h0M808.4 198.6h0M808.4 200.6h0M808.4 208.3h0M781.3 205.0h0M781.4 205.7h0M781.2 208.2h0M805.6 205.6h0M814.2 207.4h0M789.9 196.6h0M789.5 199.8h0M797.2 202.3h0M810.6 191.3h0M774.2 186.8h0M774.4 195.5h0M774.2 188.5h0M774.8 194.1h0M773.9 197.3h0M774.1 189.6h0M773.9 205.8h0M773.4 202.6h0M773.8 208.9h0M794.8 205.9h0M794.2 207.8h0M804.9 204.5h0M760.6 200.3h0M813.8 201.4h0M754.9 192.5h0M754.1 206.3h0M754.4 207.4h0M753.9 208.0h0M762.4 201.2h0M762.2 207.0h0M755.8 203.3h0M756.8 206.8h0M809.9 208.0h0M809.8 208.1h0M813.4 202.3h0M813.6 208.3h0M802.5 205.1h0M781.3 196.8h0M811.9 201.8h0M811.7 206.8h0M812.2 203.7h0M812.5 208.3h0M754.2 203.1h0M781.1 207.3h0M800.7 192.1h0M800.4 200.3h0M801.0 208.5h0M800.3 196.6h0M815.1 206.9h0M796.8 208.3h0M788.5 202.9h0M786.8 192.2h0M786.9 193.0h0M804.9 205.8h0M804.9 208.3h0M804.9 208.2h0M759.4 201.4h0M807.7 199.5h0M807.4 200.6h0M765.3 206.5h0M765.4 206.8h0M797.8 206.5h0M797.8 208.4h0M772.9 193.7h0M773.3 194.2h0M762.9 202.4h0M762.7 208.0h0M768.5 205.7h0M785.6 207.1h0M785.5 208.5h0M809.1 195.8h0M767.2 204.3h0M758.2 196.6h0M795.9 207.6h0M795.8 208.3h0M804.1 200.0h0M803.7 208.6h0M761.0 204.1h0M761.0 207.3h0M777.8 204.8h0M778.1 207.2h0M783.9 207.7h0M784.9 200.0h0M784.8 203.4h0M784.1 189.1h0M757.7 208.9h0M808.7 204.6h0M808.9 209.0h0M808.5 204.9h0M780.4 201.8h0M780.6 204.0h0M781.1 204.8h0M780.5 204.2h0M950.7 208.2h0M955.6 199.3h0M988.4 207.0h0M960.9 208.3h0M961.3 209.7h0M968.2 209.1h0M984.5 211.6h0M981.5 207.0h0M975.7 205.4h0M975.6 210.9h0M975.7 206.7h0M968.7 208.5h0M968.8 210.9h0M969.4 206.1h0M969.5 209.7h0M989.4 210.0h0M971.1 200.3h0M971.2 207.3h0M970.6 210.2h0M998.8 204.0h0M959.0 209.4h0M956.2 210.5h0M968.8 189.0h0M995.9 193.1h0M970.2 208.9h0M957.8 209.1h0M995.3 207.5h0M995.0 209.4h0M997.1 199.1h0M996.5 208.2h0M996.5 201.2h0M952.5 201.5h0M977.3 210.7h0M949.1 208.5h0M988.2 209.0h0M987.3 207.4h0M956.4 199.3h0M960.4 196.4h0M961.2 202.2h0M960.4 202.8h0M1000.6 196.1h0M1000.6 206.7h0M1000.7 197.2h0M991.8 193.2h0M992.0 199.6h0M991.4 210.3h0M990.2 210.6h0M990.4 211.4h0M990.1 211.0h0M961.4 209.6h0M960.1 205.2h0M1006.7 209.4h0M958.9 209.3h0M956.9 210.5h0M1004.6 209.9h0M968.5 211.1h0M996.2 199.4h0M997.1 204.0h0M996.6 201.6h0M985.7 208.7h0M990.2 204.1h0M970.0 189.0h0M970.2 198.2h0M996.3 209.2h0M997.1 209.5h0M954.0 203.7h0M954.7 207.7h0M983.6 202.3h0M1001.5 206.4h0M1001.5 209.6h0M979.2 209.8h0M979.7 211.6h0M982.6 211.2h0M991.3 206.2h0M991.1 204.8h0M991.5 211.4h0M1005.3 208.9h0M995.9 186.8h0M995.9 187.8h0M995.9 186.9h0M955.5 209.3h0M968.0 211.3h0M1002.1 202.8h0M954.0 204.1h0M953.9 207.9h0M988.1 209.4h0M955.1 192.6h0M955.4 194.3h0M955.2 192.8h0M998.3 208.1h0M953.2 210.5h0M990.6 206.6h0M990.4 206.9h0M999.1 208.2h0M994.4 211.6h0M956.9 206.8h0M999.7 209.9h0M1003.5 207.0h0M1003.5 207.1h0M950.7 198.0h0M950.9 200.2h0M950.8 201.0h0M950.5 211.3h0M997.0 209.9h0M965.1 211.1h0M1006.6 201.2h0M1006.5 203.5h0M1006.8 204.0h0M987.6 199.0h0M957.1 205.8h0M1000.7 198.7h0M999.8 205.4h0M988.9 197.6h0M988.9 200.8h0M954.0 199.8h0M954.4 211.3h0M954.3 201.2h0M984.4 204.6h0M984.4 207.9h0M984.5 209.7h0M992.1 199.6h0M991.9 202.5h0M1002.3 205.3h0M1001.7 209.1h0M1001.8 206.3h0M987.5 207.4h0M987.6 211.1h0M987.6 210.6h0M990.7 196.6h0M990.4 198.6h0M990.9 201.8h0M990.6 197.9h0M990.7 204.9h0M996.5 196.4h0M996.4 200.4h0M995.1 185.2h0M995.0 185.8h0M995.5 186.3h0M986.6 201.1h0M986.6 209.8h0M986.6 208.1h0M1004.5 207.7h0M1004.3 208.7h0M1004.2 202.9h0M965.0 208.3h0M996.3 207.4h0M1003.9 207.8h0M1003.7 208.4h0M1004.0 192.3h0M1004.2 192.4h0M1004.0 209.8h0M1004.2 204.0h0M1003.6 204.7h0M986.7 186.8h0M987.1 187.0h0M986.4 207.9h0M1006.7 196.9h0M1006.7 208.4h0M1006.6 204.6h0M1005.8 205.6h0M994.5 208.5h0M994.2 209.9h0M1005.7 196.2h0M968.8 207.9h0M968.1 208.9h0M968.6 208.1h0M963.2 197.5h0M962.9 210.1h0M978.2 211.3h0M978.2 211.6h0M977.7 211.3h0M1001.0 209.9h0M988.4 211.1h0M979.4 200.9h0M979.5 201.3h0M979.7 204.7h0M964.6 192.0h0M964.7 194.4h0M964.4 201.0h0M996.4 202.6h0M996.6 204.6h0M957.3 205.5h0M957.0 208.1h0M989.0 202.4h0M988.9 202.7h0M960.1 204.8h0M960.1 206.7h0M955.5 209.9h0M955.5 210.3h0M996.7 205.6h0M996.4 205.9h0M956.9 204.6h0M956.7 204.7h0M959.7 196.4h0M960.3 206.4h0M1000.6 199.5h0M965.8 206.9h0M967.8 211.3h0M967.7 211.4h0M954.9 211.1h0M956.9 208.5h0M956.6 211.1h0M979.7 195.9h0M979.8 196.9h0M979.5 201.0h0M997.6 194.0h0M997.8 194.9h0M997.5 197.1h0M977.9 208.4h0M989.5 208.2h0M989.7 210.7h0M989.6 209.3h0M995.4 188.6h0M995.6 200.6h0M994.8 191.8h0M998.6 204.9h0M999.4 207.9h0M998.4 205.1h0M1000.2 198.9h0M1000.3 201.7h0M978.3 206.5h0M1003.1 204.2h0M966.2 200.9h0M966.3 201.2h0M966.8 201.5h0M989.0 203.8h0M1007.0 206.2h0M1007.0 207.4h0M950.4 211.2h0M988.1 207.2h0M996.9 200.6h0M999.1 202.9h0M999.0 203.1h0M999.4 206.7h0M999.0 203.1h0M990.2 204.7h0M986.5 209.8h0M983.4 201.5h0M982.5 210.8h0M983.2 201.6h0M964.4 210.0h0M997.8 209.4h0M994.1 205.2h0M959.0 208.5h0M959.2 209.4h0M959.4 210.9h0M961.8 205.1h0M961.5 208.6h0M962.2 205.8h0M986.9 210.4h0M964.1 193.2h0M1002.9 209.8h0M1007.3 209.9h0M987.3 197.6h0M987.3 203.8h0M987.7 203.5h0M991.1 208.9h0M991.7 210.4h0M1004.5 207.5h0M951.8 207.3h0M953.8 205.5h0M953.9 211.0h0M1007.1 208.4h0M986.9 198.6h0M986.8 203.8h0M975.6 202.3h0M1005.9 205.7h0M999.2 206.7h0M999.3 209.5h0M952.2 204.2h0M952.6 207.2h0M952.0 205.3h0M968.5 210.3h0M989.9 211.6h0M989.0 208.9h0M989.4 209.2h0M988.5 210.2h0M998.5 207.9h0M998.5 208.6h0M984.5 189.0h0M984.8 199.3h0M984.9 211.2h0M957.5 194.0h0M950.6 208.7h0M992.4 202.3h0M984.7 201.4h0M984.7 203.3h0M1006.7 206.1h0M958.0 205.9h0M958.5 206.9h0M958.1 209.8h0M996.5 198.6h0M996.5 201.1h0M996.5 200.1h0M993.4 192.2h0M993.8 193.7h0M993.5 192.2h0M993.3 193.3h0M959.0 206.7h0M954.5 198.5h0M954.7 200.2h0M954.5 207.7h0M975.7 186.0h0M975.9 200.6h0M984.1 198.5h0M983.7 199.9h0M1000.7 209.1h0M1007.7 207.6h0M1007.3 207.7h0M960.1 207.5h0M960.1 211.5h0M960.0 211.3h0M985.8 199.9h0M985.1 210.6h0M985.4 209.2h0M979.0 206.8h0M995.5 202.7h0M953.3 209.8h0M953.6 209.9h0M988.8 208.8h0M981.0 205.7h0M981.4 206.3h0M981.2 210.1h0M981.3 207.2h0M985.6 211.3h0M1003.0 202.5h0M1003.1 203.5h0M1003.4 204.5h0M971.4 188.3h0M970.9 193.8h0M1007.5 205.4h0M992.1 205.5h0M991.8 207.6h0M991.6 206.9h0M991.8 207.8h0M959.7 210.8h0M963.5 205.7h0M962.9 206.5h0M954.5 203.9h0M954.1 208.7h0M981.6 192.5h0M981.8 201.1h0M990.5 204.7h0M990.0 205.9h0M990.2 205.9h0M991.1 209.9h0M988.6 201.7h0M994.7 205.9h0M995.4 206.0h0M994.5 211.3h0M973.5 202.9h0M973.5 205.5h0M996.5 202.9h0M996.9 204.5h0M1004.4 207.1h0M1004.4 208.6h0M985.8 192.5h0M997.4 199.0h0M997.7 199.0h0M996.6 199.8h0M997.1 199.1h0M955.9 209.0h0M1001.6 209.3h0M999.5 198.9h0M999.7 199.3h0M999.8 202.2h0M1000.9 206.1h0M1001.4 208.6h0M987.4 210.3h0M987.7 210.8h0M996.3 205.7h0M961.2 211.3h0M964.0 199.1h0M964.5 203.9h0M963.9 202.3h0M963.8 211.4h0M992.3 201.2h0M992.7 202.1h0M955.2 200.3h0M955.4 204.5h0M955.3 206.4h0M956.2 210.0h0M956.5 211.2h0M950.9 193.2h0M951.2 197.0h0M950.8 199.7h0M999.7 200.8h0M999.8 201.6h0M957.5 209.6h0M957.6 210.4h0M969.3 208.8h0M991.9 201.0h0M994.3 186.0h0M994.3 191.3h0M949.5 209.6h0M949.2 210.8h0M984.3 207.3h0M984.3 209.2h0M995.0 210.6h0M1007.4 200.5h0M1007.7 204.9h0M993.1 184.2h0M993.3 185.4h0M993.0 192.6h0M987.4 203.6h0M987.7 208.8h0M987.7 203.8h0M958.8 207.9h0M978.1 207.2h0M960.1 211.0h0M972.2 209.4h0M1000.1 201.6h0M999.9 203.0h0M951.3 210.7h0M996.1 195.3h0M996.8 195.7h0M995.6 205.4h0M954.0 206.1h0M954.5 210.1h0M953.2 207.4h0M950.0 198.5h0M950.3 199.9h0M949.7 204.7h0M985.5 207.6h0M956.8 208.5h0M969.5 209.4h0M969.3 210.8h0M990.8 200.5h0M990.8 202.1h0M954.2 208.7h0M954.4 209.7h0M1002.0 206.0h0M960.8 209.7h0M950.2 209.9h0M1136.5 197.1h0M1136.7 199.9h0M1157.0 203.3h0M1169.2 199.7h0M1169.1 208.1h0M1162.8 182.1h0M1162.5 192.6h0M1164.6 207.8h0M1160.4 206.9h0M1173.6 197.0h0M1174.0 202.1h0M1155.5 208.1h0M1157.7 208.2h0M1157.5 209.0h0M1173.0 197.6h0M1170.4 205.9h0M1170.5 206.6h0M1151.5 205.5h0M1151.4 206.5h0M1142.9 203.5h0M1142.7 208.5h0M1137.4 203.2h0M1137.6 208.4h0M1137.6 204.7h0M1137.4 207.1h0M1138.6 205.4h0M1138.2 206.0h0M1146.4 209.0h0M1163.5 205.8h0M1153.5 204.0h0M1153.6 208.8h0M1153.7 207.8h0M1168.3 201.2h0M1168.2 205.0h0M1141.5 203.7h0M1143.5 204.4h0M1138.1 197.4h0M1137.8 203.0h0M1138.0 207.1h0M1137.9 201.5h0M1170.5 195.9h0M1170.1 204.3h0M1168.9 202.4h0M1171.3 186.4h0M1171.4 186.9h0M1171.9 204.8h0M1171.3 198.6h0M1171.3 190.5h0M1168.7 203.2h0M1168.9 205.2h0M1169.2 207.6h0M1156.0 208.1h0M1172.2 205.7h0M1167.8 208.4h0M1145.3 208.6h0M1161.3 206.7h0M1161.2 206.8h0M1174.6 190.1h0M1159.2 207.7h0M1159.8 208.9h0M1145.8 200.6h0M1145.8 203.1h0M1158.6 183.4h0M1159.0 190.1h0M1158.6 185.0h0M1159.3 185.5h0M1174.4 201.3h0M1174.4 202.2h0M1174.8 202.4h0M1143.9 197.9h0M1144.1 208.0h0M1145.7 208.0h0M1169.9 204.1h0M1169.6 205.3h0M1174.8 208.6h0M1140.6 200.1h0M1141.0 203.8h0M1140.4 206.0h0M1140.9 200.3h0M1175.3 204.4h0M1174.5 206.6h0M1175.4 205.6h0M1150.8 187.6h0M1151.1 188.5h0M1151.2 202.4h0M1150.9 188.6h0M1148.8 208.7h0M1143.6 205.8h0M1171.2 205.8h0M1136.5 202.9h0M1136.4 205.3h0M1169.7 195.0h0M1169.8 196.2h0M1170.1 201.0h0M1169.7 198.7h0M1150.3 208.9h0M1154.7 204.2h0M1154.7 207.7h0M1139.5 200.3h0M1139.9 205.2h0M1147.9 205.0h0M1167.8 200.0h0M1142.0 200.5h0M1144.4 191.5h0M1145.1 199.7h0M1154.6 199.3h0M1154.5 207.2h0M1156.2 186.7h0M1171.5 206.0h0M1171.5 206.3h0M1166.7 207.0h0M1167.2 208.9h0M1137.8 190.6h0M1147.2 194.8h0M1146.9 202.1h0M1163.6 208.4h0M1169.5 204.8h0M1170.2 208.8h0M1166.4 208.1h0M1167.4 202.8h0M1167.6 208.3h0M1150.6 207.4h0M1150.6 209.1h0M1138.8 206.3h0M1138.3 207.1h0M1156.4 202.8h0M1174.7 208.5h0M1160.3 186.6h0M1160.5 192.4h0M1164.6 208.0h0M1138.5 193.4h0M1138.5 195.6h0M1138.8 201.7h0M1145.0 208.9h0M1154.4 207.2h0M1154.5 209.1h0M1143.9 199.0h0M1143.6 201.2h0M1143.9 206.0h0M1144.1 202.4h0M1143.7 202.8h0M1139.5 193.1h0M1139.4 193.5h0M1175.1 207.1h0M1175.5 207.7h0M1174.7 207.6h0M1155.0 205.9h0M1170.4 208.9h0M1157.6 199.5h0M1158.1 205.7h0M1157.5 207.0h0M1157.7 204.1h0M1164.2 198.1h0M1164.2 207.7h0M1175.6 195.6h0M1169.6 201.2h0M1136.7 208.8h0M1163.6 205.6h0M1164.1 206.4h0M1175.4 204.7h0M1175.1 206.9h0M1175.2 206.9h0M1160.1 204.4h0M1153.3 205.4h0M1164.9 196.2h0M1154.9 206.2h0M1154.8 206.2h0M1138.0 196.2h0M1138.1 197.1h0M1170.5 208.6h0M1143.5 207.7h0M1153.7 208.8h0M1167.6 203.4h0M1167.9 206.1h0M1157.7 209.0h0M1136.5 207.0h0M1158.3 206.3h0M1158.2 206.4h0M1153.9 204.1h0M1153.6 205.1h0M1153.5 206.5h0M1154.0 205.2h0M1153.6 208.6h0M1171.1 203.9h0M1167.8 205.1h0M1162.3 207.0h0M1171.3 206.6h0M1161.3 189.6h0M1161.5 203.2h0M1160.5 202.9h0M1155.7 206.0h0M1146.2 208.9h0M1169.4 208.9h0M1155.0 197.9h0M1140.1 209.0h0M1157.9 206.9h0M1139.4 189.3h0M1139.5 194.5h0M1139.1 192.2h0M1139.0 196.2h0M1159.1 188.6h0M1138.4 207.1h0M1138.4 207.6h0M1145.7 200.3h0M1145.6 200.9h0M1145.6 201.1h0M1145.6 205.9h0M1146.0 207.4h0M1174.2 206.0h0M1164.0 192.0h0M1163.7 200.4h0M1164.0 196.4h0M1164.1 203.0h0M1168.9 201.4h0M1168.7 205.7h0M1145.7 204.5h0M1142.2 207.3h0M1139.5 205.7h0M1175.0 206.0h0M1175.1 209.0h0M1142.8 206.7h0M1169.8 207.0h0M1168.7 203.4h0M1170.5 189.1h0M1170.5 194.7h0M1170.5 191.8h0M1170.4 197.4h0M1146.9 205.5h0M1146.6 207.4h0M1157.0 207.8h0M1137.8 202.7h0M1158.5 204.3h0M1153.9 206.2h0M1154.5 206.2h0M1154.2 207.8h0M1166.3 195.3h0M1166.3 204.9h0M1171.7 202.9h0M1157.6 207.7h0M1137.0 203.9h0M1148.0 206.9h0M1158.5 196.0h0M1154.8 207.2h0M1145.2 196.5h0M1145.1 196.6h0M1140.0 208.2h0M1174.1 205.7h0M1153.4 208.6h0M1163.2 198.9h0M1162.8 199.7h0M1168.9 205.9h0M1146.0 208.9h0M1153.0 198.5h0M1153.0 205.0h0M1137.4 203.5h0M1169.9 206.5h0M1154.9 196.2h0M1155.2 200.4h0M1175.1 202.6h0M1174.5 203.8h0M1145.3 200.9h0M1156.2 190.2h0M1156.1 191.4h0M1156.5 199.0h0M1155.7 191.6h0M1142.9 205.0h0M1142.7 208.8h0M1143.9 206.9h0M1144.2 207.5h0M1145.2 204.0h0M1139.0 208.6h0M1168.7 208.9h0M1145.1 186.7h0M1145.1 192.3h0M1148.5 202.0h0M1137.4 202.9h0M1157.3 196.6h0M1156.8 202.4h0M1151.2 207.1h0M1150.9 201.1h0M1150.6 207.2h0M1288.4 205.2h0M1288.1 207.0h0M1274.8 210.0h0M1284.5 211.4h0M1284.5 188.6h0M1284.5 189.6h0M1284.5 202.0h0M1277.2 198.4h0M1277.8 198.5h0M1277.6 204.7h0M1283.7 211.0h0M1289.9 211.4h0M1282.2 206.9h0M1282.1 208.4h0M1282.3 207.6h0M1290.7 202.4h0M1291.0 207.9h0M1298.8 204.6h0M1298.2 208.9h0M1266.7 204.6h0M1266.6 208.9h0M1276.4 210.0h0M1299.4 199.4h0M1299.1 207.5h0M1299.4 211.5h0M1299.3 206.1h0M1290.6 209.6h0M1286.8 199.4h0M1287.2 203.8h0M1290.7 196.8h0M1290.8 200.7h0M1290.7 201.9h0M1281.9 208.7h0M1268.2 204.8h0M1272.3 187.0h0M1272.6 200.3h0M1286.1 208.7h0M1285.8 208.8h0M1286.3 210.3h0M1297.9 210.7h0M1266.5 203.3h0M1266.5 203.6h0M1282.0 210.8h0M1268.9 197.1h0M1268.8 197.9h0M1275.3 193.8h0M1275.5 197.9h0M1298.3 209.5h0M1274.4 204.2h0M1274.1 204.5h0M1284.8 198.6h0M1276.3 206.2h0M1298.2 194.9h0M1298.7 200.1h0M1287.0 211.5h0M1290.9 210.9h0M1290.9 211.0h0M1290.5 206.2h0M1267.4 182.7h0M1267.2 185.8h0M1267.5 185.8h0M1267.2 189.9h0M1279.2 195.5h0M1278.9 195.8h0M1269.0 195.9h0M1268.8 207.5h0M1295.5 207.9h0M1277.7 204.6h0M1272.3 210.3h0M1272.3 211.1h0M1273.0 204.1h0M1274.9 204.2h0M1274.8 210.8h0M1274.7 206.0h0M1269.5 196.9h0M1269.5 205.8h0M1269.7 201.6h0M1283.3 190.6h0M1275.4 193.4h0M1275.3 211.6h0M1275.1 208.1h0M1275.9 203.9h0M1290.3 198.3h0M1290.5 201.4h0M1275.1 210.3h0M1266.5 208.7h0M1283.1 211.0h0M1268.6 203.7h0M1268.4 207.5h0M1285.7 186.1h0M1285.4 192.4h0M1286.0 204.4h0M1266.4 201.8h0M1271.2 205.4h0M1271.3 205.7h0M1298.9 210.9h0M1285.0 206.6h0M1285.4 210.7h0M1269.3 201.0h0M1269.1 201.2h0M1269.5 201.9h0M1269.2 201.7h0M1269.4 202.4h0M1298.0 197.3h0M1297.9 199.7h0M1298.3 203.9h0M1277.4 209.4h0M1277.2 210.6h0M1277.9 209.8h0M1291.8 210.6h0M1286.5 210.9h0M1296.3 206.3h0M1296.7 206.7h0M1296.5 206.7h0M1280.0 211.1h0M1269.2 211.1h0M1290.3 209.5h0M1289.7 210.3h0M1272.7 199.9h0M1272.4 207.4h0M1270.4 202.4h0M1270.0 211.0h0M1271.8 206.5h0M1271.7 206.5h0M1271.7 208.6h0M1271.7 202.6h0M1281.8 208.4h0M1282.3 209.0h0M1286.0 204.9h0M1299.6 205.4h0M1299.4 205.6h0M1294.1 194.1h0M1297.6 200.6h0M1292.6 202.8h0M1292.7 203.6h0M1292.7 204.5h0M1292.2 205.5h0M1271.6 210.2h0M1293.7 205.3h0M1293.9 208.5h0M1271.4 210.0h0M1296.2 211.3h0M1287.3 208.7h0M1267.7 209.1h0M1294.3 208.8h0M1281.9 201.1h0M1282.1 204.4h0M1281.6 203.5h0M1282.2 206.6h0M1268.7 208.1h0M1268.9 208.6h0M1273.7 189.3h0M1274.3 201.8h0M1273.5 189.5h0M1286.5 206.5h0M1279.3 208.3h0M1279.3 210.5h0M1292.7 206.4h0M1275.1 206.9h0M1287.2 208.7h0M1287.6 211.3h0M1273.8 197.3h0M1273.5 204.6h0M1273.8 197.4h0M1274.2 203.6h0M1273.5 198.7h0M1283.6 200.8h0M1283.6 201.6h0M1275.2 210.3h0M1272.8 207.2h0M1272.8 209.0h0M1271.6 206.3h0M1271.7 208.9h0M1270.9 207.1h0M1276.5 209.7h0M1276.7 210.2h0M1289.6 210.8h0M1266.9 209.1h0M1283.1 210.8h0M1287.5 205.1h0M1287.5 207.3h0M1299.2 208.3h0M1274.4 203.2h0M1273.6 203.7h0M1279.3 187.3h0M1279.2 191.5h0M1283.4 208.5h0M1289.2 210.1h0M1289.7 211.5h0M1284.7 199.9h0M1267.3 211.2h0M1269.8 206.9h0M1269.9 211.6h0M1267.1 209.8h0M1272.1 185.9h0M1272.5 188.3h0M1272.3 189.9h0M1272.4 197.4h0M1266.3 210.7h0M1285.0 210.8h0M1291.6 203.4h0M1295.5 209.2h0M1280.3 198.1h0M1280.5 198.4h0M1286.4 211.3h0M1279.4 207.2h0M1293.1 206.9h0M1292.9 208.6h0M1287.4 204.3h0M1273.7 210.0h0M1298.5 198.8h0M1298.3 198.9h0M1298.3 200.9h0M1298.6 201.7h0M1299.4 208.4h0M1299.4 209.9h0M1293.7 196.8h0M1294.1 199.4h0M1293.3 198.2h0M1300.0 196.2h0M1299.8 201.6h0M1300.2 201.6h0M1267.1 199.2h0M1266.5 203.2h0M1267.2 201.7h0M1295.0 210.6h0M1295.8 197.8h0M1296.1 206.1h0M1295.5 197.9h0M1283.1 204.8h0M1298.6 205.7h0M1299.0 210.4h0M1275.6 207.7h0M1291.1 208.4h0M1277.1 211.1h0M1376.5 209.4h0M1391.0 191.3h0M1391.5 194.1h0M1391.3 201.6h0M1390.8 198.9h0M1391.0 202.3h0M1390.7 196.2h0M1372.0 208.4h0M1392.0 204.8h0M1371.0 199.9h0M1381.3 189.7h0M1381.6 193.0h0M1381.2 198.1h0M1381.7 201.1h0M1391.4 205.7h0M1384.9 200.6h0M1385.0 202.6h0M1383.6 200.1h0M1383.6 203.3h0M1383.1 200.4h0M1383.8 204.3h0M1377.3 202.8h0M1389.4 207.4h0M1385.2 199.9h0M1376.7 187.0h0M1376.5 187.6h0M1376.5 193.5h0M1384.7 206.0h0M1376.2 204.4h0M1376.1 209.5h0M1389.9 192.1h0M1390.2 198.4h0M1370.8 207.4h0M1390.0 204.1h0M1386.9 206.3h0M1377.8 207.9h0M1394.3 208.7h0M1395.0 209.5h0M1394.0 207.1h0M1392.6 209.0h0M1368.5 201.1h0M1377.4 189.4h0M1377.0 200.0h0M1368.5 205.8h0M1368.8 207.3h0M1390.9 207.2h0M1391.0 208.7h0M1369.7 200.5h0M1369.9 202.8h0M1369.3 205.3h0M1369.7 207.9h0M1383.6 209.3h0M1369.9 207.6h0M1369.6 208.9h0M1370.3 208.7h0M1387.4 205.9h0M1374.2 202.8h0M1395.9 206.1h0M1396.2 207.9h0M1395.7 209.3h0M1368.8 200.6h0M1368.7 203.7h0M1386.6 184.9h0M1386.4 189.2h0M1386.3 188.3h0M1387.0 197.0h0M1372.4 208.0h0M1373.5 206.7h0M1378.5 199.0h0M1378.2 208.3h0M1378.7 209.6h0M1395.6 204.9h0M1390.8 186.4h0M1390.3 189.1h0M1390.9 194.5h0M1391.0 192.5h0M1378.5 208.4h0M1378.3 208.9h0M1378.2 208.4h0M1393.7 208.8h0M1374.1 209.2h0M1375.9 184.1h0M1375.9 195.6h0M1384.7 202.6h0M1384.7 207.2h0M1384.8 206.5h0M1384.7 207.1h0M1384.4 202.6h0M1369.7 204.8h0M1389.2 204.8h0M1389.8 208.3h0M1387.8 203.4h0M1388.0 209.1h0M1387.7 207.4h0M1388.2 205.3h0M1370.7 208.4h0M1385.4 184.8h0M1385.3 194.1h0M1385.7 196.0h0M1385.4 206.7h0M1375.3 208.5h0M1382.7 183.5h0M1382.9 192.6h0M1382.6 184.7h0M1382.7 185.0h0M1382.2 199.4h0M1384.6 181.7h0M1384.5 184.5h0M1384.5 202.9h0M1385.0 204.5h0M1384.2 185.6h0M1376.5 190.6h0M1376.4 208.5h0M1376.7 199.2h0M1375.2 203.7h0M1374.9 205.2h0M1395.0 204.2h0M1395.4 208.2h0M1373.0 205.0h0M1373.0 207.2h0M1393.2 194.1h0M1392.9 195.6h0M1374.7 207.6h0M1374.7 209.0h0M1368.1 208.0h0M1391.8 201.4h0M1392.1 201.7h0M1370.9 198.5h0M1383.7 199.1h0M1383.8 208.8h0M1383.9 199.7h0M1385.0 208.0h0M1395.5 201.6h0M1396.0 209.1h0M1392.6 205.2h0M1392.7 207.2h0M1372.8 202.2h0M1372.4 202.7h0M1372.6 203.8h0M1381.7 205.3h0M1387.1 183.2h0M1386.7 199.6h0M1386.8 200.5h0M1387.2 188.7h0M1387.1 184.2h0M1387.5 185.8h0M1387.7 204.0h0M1382.8 208.3h0M1388.1 181.3h0M1388.0 183.1h0M1383.7 200.0h0M1383.8 204.0h0M1394.3 205.6h0M1394.5 208.7h0M1388.5 204.5h0M1388.1 205.6h0M1394.0 202.7h0M1388.5 208.5h0M1386.5 204.3h0M1382.8 206.3h0M1382.4 202.5h0M1388.9 209.3h0M1378.3 193.6h0M1378.4 195.3h0M1393.1 193.6h0M1371.6 203.7h0M1374.5 209.5h0M1389.4 188.1h0M1389.5 196.4h0M1375.2 199.8h0M1375.4 203.8h0M1375.4 203.2h0M1374.4 205.4h0M1368.8 193.9h0M1368.8 202.5h0M1376.4 201.0h0M1391.8 198.0h0M1393.0 208.8h0M1380.4 206.6h0M1373.2 200.3h0M1373.4 200.5h0M1373.5 203.5h0M1385.4 194.0h0M1385.4 195.8h0M1385.2 199.1h0M1385.1 203.0h0M1385.7 195.4h0M1370.2 205.7h0M1369.8 207.4h0M1370.4 206.1h0M1390.0 209.4h0M1393.9 208.2h0M1375.6 204.4h0M1375.9 207.1h0M1395.2 206.4h0M1395.1 209.1h0M1383.5 207.9h0M1383.1 208.8h0M1372.8 198.8h0M1372.4 203.5h0M1372.4 202.5h0M1384.2 197.6h0M1376.0 199.7h0M1380.0 208.7h0M1388.9 207.7h0M1373.7 205.0h0M1389.9 201.0h0M1373.3 200.3h0M1373.7 204.3h0M1379.5 197.6h0M1379.6 202.5h0M1395.3 207.7h0M1383.8 206.8h0M1378.9 182.4h0M1378.9 183.0h0M1378.6 195.8h0M1391.0 200.1h0M1370.4 201.5h0M1370.1 205.1h0M1374.3 208.9h0M1372.1 208.7h0M1368.6 206.2h0M1368.6 207.9h0M1374.0 188.9h0M1378.0 189.5h0M1378.0 192.7h0M1390.4 203.5h0M1390.0 208.0h0M1390.3 209.5h0M1378.6 208.9h0M1378.7 209.2h0M1369.1 197.8h0M1393.0 199.1h0M1392.9 200.1h0M1385.8 203.4h0M1371.2 199.4h0M1371.1 202.8h0M1371.2 201.5h0M1371.0 202.0h0M1377.8 199.6h0M1377.8 207.3h0M1386.2 209.0h0M1371.4 188.4h0M1372.2 208.7h0M1372.0 209.2h0M1385.4 198.3h0M1384.6 207.3h0M1378.2 207.5h0M1377.9 209.0h0M1395.1 209.6h0M254.0 156.6h0M292.0 155.6h0M292.0 159.4h0M333.2 155.0h0M528.4 132.2h0M525.0 152.4h0M540.0 154.8h0M516.4 158.0h0M526.2 157.6h0M533.6 159.4h0M598.8 140.0h0M752.6 129.0h0M766.0 143.4h0M770.8 147.0h0M764.0 155.0h0M764.0 160.4h0M799.4 158.0h0M807.8 131.4h0M809.2 140.2h0M808.0 144.6h0M809.4 145.2h0M988.6 155.2h0M1143.6 156.4h0M1145.6 158.2h0M1159.0 140.8h0M1168.2 146.2h0M1268.0 160.0h0M1288.6 126.6h0M1288.6 129.0h0M1302.0 129.4h0M1297.6 148.2h0M1288.6 152.8h0M1288.6 156.4h0M1292.0 159.6h0M1298.0 159.0h0M1375.0 128.8h0M1375.0 159.6h0M223.6 165.4h0M229.4 162.4h0M253.6 166.4h0M238.0 169.4h0M245.0 168.6h0M241.0 173.0h0M247.0 173.4h0M269.4 164.6h0M269.4 169.0h0M274.0 166.0h0M274.0 169.0h0M278.0 176.6h0M293.0 174.0h0M305.0 174.0h0M320.0 173.4h0M331.0 176.6h0M224.0 178.0h0M228.0 177.4h0M238.0 180.0h0M250.0 178.0h0M254.0 176.0h0M269.6 181.0h0M294.0 181.0h0M305.0 180.6h0M323.0 178.0h0M324.0 181.0h0M531.0 163.4h0M563.0 164.0h0M568.6 163.4h0M549.0 169.4h0M555.0 169.4h0M558.0 170.0h0M519.0 174.0h0M531.0 175.0h0M545.0 174.4h0M555.0 175.0h0M581.0 175.6h0M531.0 180.0h0M546.0 180.0h0M553.0 178.0h0M557.0 180.0h0M562.0 179.4h0M594.0 178.0h0M597.0 179.0h0M520.0 186.0h0M534.0 182.0h0M557.0 185.0h0M570.0 184.0h0M578.0 186.0h0M590.0 185.0h0M758.4 162.0h0M752.6 163.0h0M752.6 166.0h0M752.6 169.0h0M752.6 174.0h0M752.6 178.0h0M766.0 168.0h0M764.0 175.0h0M759.0 176.0h0M770.0 176.0h0M771.0 181.0h0M771.6 186.0h0M778.6 170.4h0M787.0 164.0h0M787.0 170.0h0M787.0 174.0h0M787.0 180.0h0M787.0 183.0h0M787.0 187.0h0M808.0 166.0h0M810.0 167.0h0M802.0 175.0h0M807.0 175.0h0M811.4 174.6h0M810.6 177.4h0M814.0 172.0h0M799.0 185.0h0M802.0 184.0h0M806.0 185.0h0M814.0 185.0h0M817.0 186.0h0M952.0 178.6h0M957.4 168.6h0M958.0 182.0h0M961.0 184.0h0M966.0 186.6h0M969.0 186.0h0M983.0 186.0h0M988.0 187.0h0M1005.6 164.0h0M1008.2 167.4h0M995.0 180.0h0M1003.0 180.0h0M1007.6 179.0h0M1008.6 183.0h0M993.0 185.0h0M1155.4 168.4h0M1149.0 170.0h0M1145.6 174.0h0M1137.0 176.0h0M1138.0 179.0h0M1156.0 176.6h0M1153.0 180.0h0M1160.0 178.6h0M1169.0 176.6h0M1173.0 176.6h0M1170.0 180.0h0M1172.0 183.0h0M1142.0 183.0h0M1154.0 185.0h0M1267.6 168.0h0M1271.0 170.6h0M1268.0 178.6h0M1283.0 179.4h0M1281.0 185.0h0M1288.0 181.0h0M1270.0 171.0h0M1299.6 162.0h0M1299.0 168.6h0M1288.6 171.0h0M1292.0 174.4h0M1300.6 176.0h0M1269.0 182.0h0M1281.0 185.0h0M1288.0 184.0h0M1289.0 187.0h0M1299.0 180.0h0M1298.0 187.0h0M1378.0 163.4h0M1395.0 165.4h0M1375.6 170.0h0M1393.0 170.0h0M1375.6 176.0h0M1389.0 176.0h0M1378.0 178.0h0M1396.0 179.0h0M1379.0 182.0h0M1383.0 184.0h0M1389.0 184.0h0M1393.0 185.0h0M1395.0 182.0h0M1392.0 189.0h0M1374.0 185.0h0" stroke="#666666" stroke-width="3.70" stroke-linecap="round" fill="none"/>
<path d="M420.9 205.4h0M421.1 206.2h0M421.2 208.4h0M385.4 207.4h0M385.5 208.6h0M354.6 211.5h0M335.3 208.6h0M407.1 201.3h0M406.8 205.1h0M406.7 208.2h0M393.4 209.1h0M393.0 189.4h0M388.3 190.7h0M388.2 192.0h0M388.3 200.2h0M388.0 191.5h0M402.9 208.4h0M397.2 201.3h0M417.2 208.2h0M386.2 190.7h0M386.6 193.1h0M363.2 211.3h0M415.1 207.9h0M412.1 208.7h0M406.0 204.5h0M393.7 205.6h0M402.8 206.8h0M399.9 202.7h0M400.1 205.6h0M399.5 205.9h0M400.3 207.7h0M397.1 208.8h0M369.7 207.2h0M386.5 201.1h0M386.9 202.6h0M386.7 203.0h0M353.8 202.6h0M353.9 204.8h0M354.3 206.0h0M344.1 206.6h0M370.0 199.8h0M369.7 205.7h0M404.0 197.5h0M415.6 205.2h0M384.5 202.5h0M394.0 208.9h0M385.1 203.1h0M411.1 205.5h0M399.6 209.1h0M397.1 193.8h0M396.9 205.0h0M397.3 197.2h0M397.0 196.2h0M397.3 195.7h0M412.0 205.5h0M391.5 203.0h0M391.6 203.0h0M391.9 208.3h0M354.6 210.0h0M359.2 206.6h0M358.9 207.2h0M359.5 208.0h0M359.3 207.0h0M339.7 181.0h0M339.5 187.6h0M339.6 184.7h0M390.0 208.2h0M403.7 209.0h0M374.4 197.0h0M388.2 204.8h0M387.9 205.8h0M389.6 206.0h0M355.4 211.1h0M410.9 197.6h0M411.3 200.2h0M410.8 208.3h0M398.2 203.8h0M357.1 211.5h0M391.5 190.1h0M391.5 200.8h0M391.7 190.8h0M391.8 191.4h0M380.3 207.1h0M409.6 200.5h0M409.9 205.0h0M409.9 201.9h0M420.1 197.6h0M419.7 201.5h0M348.0 203.5h0M411.4 188.0h0M411.2 189.0h0M411.7 188.8h0M386.9 203.6h0M350.5 198.3h0M394.4 204.1h0M394.7 206.0h0M363.6 206.6h0M363.4 209.4h0M403.2 198.0h0M390.8 191.5h0M390.5 191.8h0M390.7 191.7h0M390.2 196.0h0M390.3 193.6h0M391.0 204.4h0M390.9 192.8h0M400.7 208.4h0M412.5 203.6h0M410.7 208.3h0M420.5 208.1h0M352.2 211.3h0M390.8 205.6h0M390.6 206.2h0M392.2 191.9h0M392.4 194.7h0M405.4 206.4h0M408.0 201.5h0M362.9 203.9h0M391.4 209.0h0M336.1 194.8h0M404.1 207.6h0M390.2 205.2h0M390.1 207.0h0M390.2 207.4h0M406.2 200.7h0M370.2 197.5h0M370.3 204.4h0M370.4 198.3h0M370.0 198.6h0M370.4 205.1h0M352.3 193.4h0M410.6 202.4h0M410.4 203.6h0M409.9 202.8h0M358.4 203.3h0M406.4 202.5h0M406.7 208.0h0M406.6 209.1h0M346.4 194.6h0M346.3 196.9h0M346.6 207.0h0M372.4 202.7h0M372.8 206.0h0M403.3 203.2h0M403.6 204.9h0M403.3 203.7h0M403.2 205.8h0M403.1 207.8h0M411.4 193.4h0M364.0 211.4h0M352.9 199.1h0M352.9 210.6h0M380.4 206.6h0M390.9 206.3h0M390.3 209.1h0M358.8 204.1h0M358.9 209.4h0M358.6 206.9h0M413.8 207.1h0M413.8 208.8h0M413.7 208.8h0M379.7 207.0h0M380.0 207.6h0M379.5 208.3h0M385.5 207.9h0M414.5 209.0h0M391.4 200.4h0M391.2 202.2h0M352.8 188.2h0M352.1 190.7h0M393.4 200.8h0M393.8 201.7h0M339.2 210.9h0M363.2 189.2h0M363.0 190.2h0M403.7 190.4h0M403.6 191.2h0M404.0 192.2h0M409.7 192.3h0M409.0 198.1h0M411.1 204.9h0M419.4 208.8h0M417.8 204.5h0M417.2 206.5h0M385.2 207.8h0M356.1 203.1h0M356.3 204.1h0M403.3 193.2h0M403.6 197.1h0M403.4 195.6h0M397.9 191.4h0M397.6 194.1h0M398.0 192.3h0M398.1 203.0h0M415.7 197.0h0M379.1 203.5h0M379.2 206.8h0M404.2 203.7h0M412.0 208.7h0M360.9 211.2h0M361.1 211.3h0M364.8 206.7h0M353.0 209.7h0M404.9 193.2h0M404.8 195.1h0M373.4 196.6h0M373.2 200.6h0M373.2 197.3h0M392.2 203.1h0M392.3 206.9h0M410.0 198.9h0M337.1 192.3h0M337.6 203.4h0M336.5 196.0h0M337.5 194.1h0M412.8 206.3h0M345.5 206.1h0M345.3 210.5h0M345.8 208.9h0M405.4 204.0h0M382.1 203.9h0M381.9 209.5h0M382.3 206.2h0M382.1 210.0h0M335.9 202.3h0M361.6 198.0h0M387.8 205.2h0M413.8 208.0h0M405.2 200.7h0M419.3 198.9h0M419.3 204.6h0M419.0 206.7h0M418.9 197.8h0M418.8 205.6h0M418.5 207.4h0M419.1 201.3h0M395.2 203.7h0M395.3 204.8h0M382.8 211.2h0M363.6 201.5h0M363.2 203.7h0M363.6 205.0h0M353.1 205.3h0M415.6 201.2h0M405.1 205.5h0M380.2 206.7h0M379.9 208.9h0M414.6 204.3h0M414.5 208.8h0M382.8 204.5h0M382.5 204.8h0M382.8 205.6h0M390.6 190.2h0M390.6 194.0h0M390.4 197.1h0M377.2 209.9h0M377.3 211.0h0M376.7 211.4h0M416.7 200.7h0M416.3 207.9h0M362.3 204.6h0M362.0 206.5h0M343.8 197.8h0M344.0 203.2h0M343.4 200.6h0M408.1 191.7h0M408.2 206.1h0M408.5 196.1h0M407.8 198.0h0M359.7 195.4h0M359.9 202.4h0M393.9 201.3h0M393.9 204.4h0M396.0 185.3h0M396.3 200.5h0M396.0 189.8h0M396.4 186.0h0M422.8 203.4h0M422.6 209.0h0M423.0 207.5h0M422.8 205.3h0M342.9 209.9h0M354.6 209.6h0M337.4 202.8h0M337.4 205.7h0M412.9 195.5h0M412.6 198.7h0M385.2 206.1h0M413.5 205.0h0M368.8 209.0h0M416.7 204.0h0M396.0 209.1h0M387.4 199.8h0M387.4 204.0h0M354.8 199.0h0M373.7 181.5h0M373.5 201.2h0M374.2 193.0h0M417.3 196.8h0M417.0 200.1h0M379.7 207.2h0M362.4 188.8h0M367.9 208.2h0M411.7 188.1h0M411.6 190.2h0M411.9 190.7h0M411.9 202.5h0M411.8 200.2h0M389.1 189.2h0M389.2 204.8h0M389.3 197.6h0M409.4 197.0h0M409.6 208.1h0M349.4 204.1h0M349.6 209.9h0M349.1 211.4h0M348.8 207.4h0M341.4 207.3h0M341.2 207.8h0M399.0 204.0h0M411.6 208.5h0M409.0 204.8h0M422.6 204.1h0M422.3 206.2h0M350.6 194.3h0M350.7 195.7h0M350.6 206.6h0M350.5 198.6h0M397.7 207.5h0M376.8 209.7h0M376.9 211.4h0M416.5 209.1h0M398.6 208.0h0M341.0 202.1h0M340.6 204.4h0M340.9 207.4h0M381.7 210.6h0M401.0 206.1h0M403.9 207.0h0M392.0 206.3h0M372.4 208.3h0M390.7 205.0h0M413.2 208.8h0M416.3 193.4h0M394.3 197.5h0M394.0 207.9h0M394.5 201.9h0M359.1 208.9h0M359.1 210.5h0M390.8 202.7h0M390.4 203.9h0M418.8 207.9h0M359.0 204.4h0M404.2 197.7h0M404.5 205.8h0M398.0 208.4h0M398.2 209.0h0M351.6 209.6h0M390.3 203.2h0M393.0 196.8h0M339.0 198.0h0M339.3 207.1h0M346.3 211.5h0M407.3 205.3h0M418.3 202.8h0M418.4 205.2h0M417.8 207.7h0M387.0 205.3h0M385.9 202.0h0M385.6 206.7h0M351.5 200.1h0M351.1 200.7h0M389.4 203.8h0M389.7 206.1h0M405.2 198.3h0M405.5 206.5h0M405.0 206.2h0M421.1 203.6h0M421.4 206.9h0M421.1 207.6h0M415.6 207.4h0M413.4 204.3h0M413.9 205.7h0M408.7 195.1h0M408.4 197.1h0M408.3 197.5h0M407.8 196.2h0M346.6 208.6h0M368.7 209.1h0M368.3 209.1h0M387.6 204.2h0M387.4 204.7h0M420.5 187.4h0M420.8 202.5h0M345.1 209.6h0M394.1 207.9h0M394.4 208.3h0M416.0 207.5h0M397.3 203.3h0M401.8 185.9h0M401.6 189.6h0M402.0 189.4h0M402.1 193.9h0M360.2 209.3h0M372.9 207.6h0M372.9 208.2h0M421.8 190.9h0M421.8 193.6h0M403.1 207.5h0M418.3 208.1h0M347.3 187.4h0M410.0 207.1h0M413.5 194.7h0M413.4 195.0h0M413.0 196.6h0M362.0 210.7h0M396.6 205.6h0M396.5 208.9h0M339.7 205.2h0M339.7 206.8h0M339.1 205.9h0M339.2 210.1h0M388.6 208.8h0M414.5 209.0h0M348.8 208.9h0M369.9 181.3h0M369.5 188.8h0M369.8 192.3h0M365.0 210.2h0M348.1 184.5h0M348.4 203.3h0M348.2 187.6h0M340.0 206.5h0M417.0 208.1h0M356.1 210.4h0M387.0 205.1h0M387.1 206.6h0M387.1 205.2h0M414.6 207.8h0M389.6 207.4h0M348.6 206.5h0M348.5 208.4h0M398.3 191.3h0M398.3 195.4h0M398.6 194.4h0M419.8 208.3h0M360.1 206.8h0M413.5 203.9h0M412.9 207.1h0M387.9 208.9h0M402.1 207.9h0M402.1 208.3h0M403.2 203.9h0M350.2 202.1h0M350.1 209.9h0M360.1 211.0h0M418.7 189.4h0M418.8 192.1h0M418.6 191.8h0M407.4 206.3h0M409.3 207.1h0M409.6 207.9h0M409.2 208.0h0M378.1 211.6h0M398.5 201.5h0M398.7 207.3h0M398.8 206.1h0M407.7 204.2h0M407.9 207.0h0M403.3 209.0h0M405.5 208.3h0M405.3 209.0h0M413.1 207.7h0M382.9 198.3h0M382.7 201.1h0M382.2 202.5h0M399.6 209.1h0M390.0 203.6h0M412.7 200.2h0M412.6 205.0h0M413.4 206.7h0M372.4 209.6h0M417.6 207.8h0M387.4 207.5h0M336.1 207.5h0M355.7 209.4h0M416.8 208.7h0M402.3 201.1h0M335.6 202.3h0M335.9 203.5h0M335.7 207.8h0M353.7 207.5h0M353.8 207.6h0M353.8 208.2h0M348.4 204.2h0M347.9 204.6h0M348.2 206.6h0M411.9 206.6h0M411.6 208.0h0M343.0 206.8h0M411.7 190.0h0M411.8 196.7h0M411.6 197.9h0M399.1 197.6h0M398.9 202.3h0M399.5 198.4h0M399.4 197.6h0M399.5 202.1h0M422.3 202.8h0M416.2 206.6h0M373.8 205.6h0M362.6 210.0h0M416.2 194.1h0M416.2 203.9h0M408.1 203.0h0M408.4 209.1h0M342.6 206.8h0M342.8 211.3h0M342.5 208.6h0M356.4 210.3h0M418.2 209.1h0M416.5 202.4h0M416.3 206.3h0M416.3 204.6h0M370.7 210.8h0M404.8 199.8h0M405.1 202.5h0M404.4 202.1h0M404.4 207.5h0M370.0 209.9h0M342.7 199.0h0M342.9 200.3h0M343.0 199.9h0M342.3 211.3h0M415.0 187.8h0M415.2 193.1h0M415.1 195.2h0M392.2 195.4h0M382.2 211.0h0M613.3 197.2h0M613.4 198.8h0M671.9 205.8h0M642.0 200.7h0M641.7 202.7h0M641.9 202.9h0M617.1 188.1h0M617.2 192.4h0M654.3 204.7h0M654.0 207.1h0M658.8 205.9h0M658.9 208.3h0M619.5 200.6h0M622.4 200.3h0M610.0 208.8h0M619.5 211.6h0M614.1 202.9h0M640.2 209.8h0M615.9 205.5h0M616.0 207.4h0M615.4 208.0h0M666.4 204.6h0M666.2 211.6h0M666.7 210.5h0M664.2 211.1h0M652.3 211.1h0M608.0 190.3h0M607.8 202.8h0M641.6 208.3h0M641.4 210.7h0M652.1 204.0h0M609.9 206.7h0M609.9 207.9h0M609.8 207.7h0M622.6 201.9h0M622.7 210.6h0M622.6 210.6h0M622.2 203.1h0M642.8 211.2h0M630.3 210.3h0M644.8 189.7h0M645.1 207.3h0M623.1 205.9h0M646.1 206.1h0M646.0 207.9h0M646.0 211.0h0M620.8 211.0h0M621.3 211.1h0M646.8 200.6h0M647.0 211.2h0M646.9 204.1h0M610.6 198.9h0M610.5 209.5h0M606.0 197.3h0M605.8 204.7h0M605.8 198.9h0M605.9 198.5h0M622.1 209.1h0M659.9 189.0h0M659.7 194.3h0M660.1 196.0h0M625.1 211.3h0M607.5 211.6h0M673.0 207.3h0M641.9 203.3h0M642.0 203.9h0M637.7 204.2h0M652.6 207.7h0M652.4 208.8h0M610.6 210.9h0M610.8 211.4h0M620.0 202.6h0M620.1 210.5h0M619.6 206.2h0M619.9 206.6h0M639.5 197.1h0M639.0 207.1h0M638.8 209.8h0M632.9 210.9h0M655.6 210.8h0M643.3 208.4h0M643.6 208.7h0M613.0 204.9h0M634.8 211.4h0M656.9 209.6h0M670.9 210.2h0M602.1 211.0h0M636.0 206.3h0M673.6 210.5h0M637.1 206.4h0M637.3 209.3h0M635.9 198.2h0M636.0 198.6h0M635.6 200.1h0M616.2 209.6h0M650.3 206.9h0M613.6 206.7h0M613.6 207.6h0M613.5 209.9h0M613.9 208.7h0M613.7 206.8h0M609.9 196.3h0M656.5 203.7h0M657.2 203.8h0M657.1 207.1h0M630.7 208.5h0M631.2 210.6h0M630.5 208.6h0M642.9 206.0h0M643.2 207.5h0M622.8 192.0h0M623.0 192.4h0M633.6 205.4h0M633.8 205.6h0M630.8 208.7h0M665.1 207.8h0M639.0 209.3h0M616.8 202.8h0M621.6 202.9h0M621.6 203.9h0M672.6 208.9h0M652.5 211.3h0M662.1 183.1h0M662.3 205.7h0M645.5 205.8h0M640.2 207.7h0M640.1 209.3h0M608.6 209.7h0M663.3 208.2h0M663.3 210.9h0M621.8 202.6h0M674.5 211.2h0M603.2 205.4h0M635.1 194.0h0M634.7 208.8h0M605.7 208.1h0M605.9 208.4h0M605.7 211.0h0M640.6 206.2h0M669.3 201.0h0M638.6 202.6h0M638.6 204.6h0M652.6 208.6h0M635.1 207.8h0M635.0 208.5h0M635.3 210.6h0M618.8 185.8h0M619.2 209.1h0M673.1 208.1h0M673.0 210.3h0M668.4 210.1h0M634.9 211.2h0M661.9 205.3h0M661.3 208.8h0M662.6 180.9h0M662.7 198.9h0M662.6 191.8h0M662.6 186.5h0M635.7 206.1h0M636.0 210.4h0M608.2 209.5h0M632.4 207.7h0M609.7 210.3h0M609.9 196.6h0M609.9 199.9h0M610.1 197.6h0M628.4 205.9h0M622.9 199.1h0M638.4 209.8h0M638.6 209.8h0M655.2 210.9h0M669.3 207.6h0M611.5 203.9h0M611.8 210.3h0M611.4 205.3h0M643.6 207.0h0M643.4 208.8h0M643.8 207.7h0M645.2 187.3h0M645.1 193.7h0M645.3 205.4h0M654.0 208.1h0M654.2 208.2h0M671.1 200.8h0M671.2 203.3h0M671.0 202.2h0M671.3 205.8h0M670.8 202.6h0M640.8 201.7h0M615.8 210.2h0M660.0 209.4h0M645.0 210.0h0M663.3 199.9h0M663.3 201.3h0M667.1 194.4h0M667.2 197.9h0M647.0 207.1h0M635.4 209.8h0M659.0 201.9h0M616.3 204.7h0M616.1 207.9h0M616.2 210.2h0M616.8 205.3h0M612.7 207.6h0M613.9 202.5h0M614.2 203.0h0M613.5 207.8h0M618.2 210.6h0M666.7 199.8h0M655.2 205.4h0M620.0 206.4h0M620.3 210.2h0M667.8 202.3h0M648.0 208.8h0M656.7 181.6h0M657.3 188.8h0M656.7 186.8h0M656.5 191.4h0M626.8 197.2h0M626.6 205.2h0M626.8 206.4h0M643.1 208.4h0M673.1 209.0h0M673.1 210.2h0M648.3 210.8h0M609.2 209.4h0M667.2 209.7h0M629.1 211.0h0M639.4 211.3h0M658.9 202.3h0M638.9 209.4h0M639.1 210.1h0M656.2 209.4h0M659.3 185.2h0M659.5 186.3h0M658.7 189.3h0M621.8 205.9h0M673.4 210.2h0M645.7 205.2h0M645.8 211.5h0M601.9 182.9h0M602.0 200.0h0M601.8 188.5h0M601.5 185.8h0M630.6 209.6h0M630.9 210.5h0M609.4 208.0h0M635.9 211.5h0M612.1 210.7h0M654.9 210.2h0M653.4 198.4h0M616.2 208.8h0M616.3 209.1h0M650.0 211.1h0M650.1 211.2h0M637.2 209.4h0M636.9 210.2h0M654.5 207.7h0M631.3 199.6h0M631.6 211.3h0M631.2 204.5h0M600.6 210.6h0M656.6 211.3h0M640.2 208.0h0M640.9 208.8h0M666.1 208.3h0M644.1 209.6h0M633.8 195.2h0M617.4 205.0h0M617.8 207.6h0M617.4 206.5h0M600.4 203.7h0M600.5 208.0h0M641.5 206.6h0M621.8 204.3h0M612.1 198.3h0M612.1 198.8h0M673.1 210.3h0M673.1 210.6h0M644.2 209.6h0M643.8 210.2h0M646.2 207.3h0M601.7 204.3h0M602.1 207.3h0M665.1 193.6h0M665.0 198.1h0M664.8 194.7h0M663.8 211.3h0M630.8 203.9h0M647.7 210.4h0M647.3 210.4h0M616.2 197.4h0M615.9 203.5h0M616.2 200.6h0M660.1 209.5h0M608.4 203.0h0M608.4 208.2h0M636.2 205.5h0M606.7 205.9h0M621.7 186.7h0M640.5 208.1h0M634.4 190.2h0M626.6 211.4h0M601.8 209.5h0M658.3 202.9h0M658.1 207.6h0M658.7 206.0h0M658.4 204.4h0M647.2 208.3h0M669.6 207.6h0M669.9 208.2h0M666.3 210.3h0M614.2 208.3h0M611.1 208.9h0M606.2 201.8h0M606.5 210.5h0M605.9 206.6h0M605.8 210.1h0M668.3 202.4h0M668.4 208.3h0M668.3 205.1h0M665.8 196.8h0M665.7 202.4h0M610.9 209.4h0M608.0 207.2h0M668.4 198.2h0M668.3 201.1h0M668.2 200.3h0M643.2 193.7h0M643.2 194.1h0M643.3 195.6h0M653.4 204.0h0M653.3 207.6h0M653.3 210.4h0M614.0 199.8h0M613.8 206.3h0M614.0 200.7h0M642.4 210.4h0M666.3 210.9h0M667.0 211.4h0M639.2 203.1h0M639.3 208.8h0M601.7 208.4h0M601.4 209.0h0M601.8 209.8h0M610.3 208.3h0M667.7 194.7h0M667.7 197.5h0M667.6 203.3h0M669.3 207.6h0M668.9 207.8h0M661.6 210.7h0M621.4 209.9h0M637.0 207.0h0M633.1 190.1h0M632.7 199.0h0M655.6 210.7h0M613.2 210.8h0M669.7 201.8h0M670.4 206.9h0M657.0 206.2h0M646.3 195.5h0M646.5 205.6h0M646.2 204.9h0M646.4 199.7h0M646.1 196.4h0M673.5 198.1h0M673.5 206.2h0M673.9 207.4h0M673.7 208.6h0M619.4 209.6h0M605.8 211.0h0M653.7 211.6h0M600.0 195.2h0M599.9 208.8h0M599.9 200.6h0M620.0 207.4h0M620.1 210.7h0M619.8 209.2h0M602.3 206.6h0M668.9 210.4h0M612.2 206.9h0M603.9 209.1h0M603.7 209.4h0M641.2 202.9h0M641.3 208.9h0M656.7 207.7h0M640.0 198.5h0M640.0 199.9h0M651.9 210.9h0M629.1 209.8h0M623.8 211.1h0M673.8 209.1h0M612.9 206.5h0M612.6 211.3h0M659.2 207.2h0M659.2 207.7h0M617.1 199.3h0M632.8 201.9h0M632.5 202.6h0M633.1 205.9h0M632.4 211.1h0M664.2 209.0h0M663.7 209.5h0M661.5 204.4h0M660.7 209.1h0M661.2 209.4h0M663.7 204.6h0M663.5 208.2h0M665.1 203.1h0M665.2 211.4h0M629.4 199.3h0M605.0 211.5h0M607.8 208.8h0M617.7 191.7h0M617.5 192.1h0M617.6 206.2h0M617.8 199.5h0M617.5 194.4h0M617.5 207.7h0M617.6 208.8h0M633.9 195.4h0M633.8 199.0h0M634.4 202.8h0M662.4 207.1h0M652.2 206.6h0M672.7 201.1h0M672.7 208.7h0M643.4 207.4h0M666.4 210.7h0M648.6 203.9h0M648.3 205.0h0M649.1 205.9h0M648.2 207.0h0M648.5 205.6h0M648.3 206.9h0M672.3 205.4h0M629.4 211.0h0M599.9 203.2h0M599.9 206.0h0M617.7 207.1h0M672.7 210.5h0M644.6 208.2h0M610.8 203.4h0M610.7 206.5h0M610.8 205.7h0M600.8 205.9h0M600.8 206.9h0M600.7 207.7h0M607.0 211.5h0M617.9 203.2h0M618.4 203.6h0M662.3 210.0h0M617.3 208.0h0M822.8 203.4h0M823.6 206.4h0M837.7 204.2h0M833.7 188.2h0M833.6 189.5h0M833.5 197.6h0M834.0 191.4h0M832.2 206.3h0M832.1 206.5h0M826.9 204.9h0M827.4 205.5h0M822.3 199.9h0M822.3 206.2h0M822.4 204.8h0M822.5 205.1h0M833.0 198.3h0M833.0 206.5h0M832.7 205.9h0M828.7 201.8h0M829.4 203.2h0M821.7 199.4h0M821.2 206.5h0M823.2 202.1h0M831.4 207.2h0M837.1 204.8h0M830.0 205.5h0M832.0 184.2h0M831.7 188.2h0M825.8 200.6h0M826.2 202.4h0M833.6 195.3h0M822.1 206.6h0M822.4 206.8h0M829.8 204.5h0M823.3 193.0h0M823.5 201.7h0M834.7 187.1h0M825.0 199.2h0M826.0 206.6h0M828.9 205.1h0M829.0 205.7h0M837.2 205.4h0M823.5 202.9h0M837.0 206.6h0M837.0 206.8h0M821.0 198.0h0M820.5 200.0h0M822.4 202.6h0M822.3 204.3h0M825.8 194.6h0M825.6 200.4h0M827.6 203.9h0M822.3 185.7h0M822.2 189.4h0M832.5 202.5h0M832.5 206.0h0M823.4 203.4h0M822.5 206.7h0M833.4 204.7h0M823.2 191.4h0M830.0 205.0h0M830.0 205.3h0M831.2 193.7h0M831.3 196.8h0M833.6 201.8h0M833.3 207.1h0M834.1 189.5h0M821.7 202.6h0M831.9 198.2h0M825.4 192.2h0M832.3 204.0h0M823.7 206.8h0M830.6 204.8h0M830.3 206.8h0M828.4 201.8h0M836.3 185.4h0M836.8 191.8h0M836.0 186.3h0M826.4 201.9h0M826.3 205.3h0M826.4 203.9h0M821.0 204.0h0M823.5 184.6h0M823.5 186.0h0M823.6 187.2h0M823.8 193.1h0M829.2 191.0h0M829.3 191.7h0M829.3 203.2h0M828.6 191.1h0M831.4 202.3h0M831.3 206.3h0M834.0 207.1h0M826.8 205.3h0M837.9 206.4h0M833.0 205.2h0M822.1 207.1h0M827.9 193.5h0M827.5 193.5h0M827.8 195.2h0M836.9 192.4h0M837.7 202.9h0M837.9 203.4h0M826.6 198.3h0M826.6 204.1h0M825.5 182.4h0M826.4 190.5h0M825.3 194.3h0M825.3 195.8h0M825.7 195.2h0M821.5 200.0h0M821.8 206.7h0M821.5 203.7h0M827.2 203.3h0M826.5 205.6h0M828.4 206.1h0M828.7 206.8h0M828.2 206.9h0M829.2 194.6h0M828.8 198.0h0M829.5 202.2h0M824.8 204.3h0M824.6 207.2h0M823.3 199.6h0M833.4 206.0h0M820.5 198.3h0M820.9 206.7h0M824.2 194.8h0M824.3 200.2h0M829.1 207.4h0M831.7 203.5h0M828.1 200.3h0M828.1 202.3h0M828.2 200.5h0M827.7 206.9h0M827.9 204.4h0M828.2 206.7h0M826.4 201.4h0M826.3 205.3h0M824.5 206.7h0M824.1 201.1h0M830.4 202.4h0M820.7 200.9h0M821.8 207.1h0M833.9 204.4h0M830.5 206.1h0M826.7 186.1h0M826.4 188.1h0M871.2 192.1h0M871.4 193.8h0M866.0 189.9h0M879.4 197.2h0M880.0 193.3h0M879.8 199.7h0M857.8 190.9h0M857.9 198.7h0M857.8 193.8h0M857.8 206.6h0M858.5 206.9h0M857.6 196.5h0M882.4 199.0h0M882.5 200.5h0M857.8 203.6h0M878.9 205.4h0M878.8 206.3h0M863.4 198.7h0M863.1 201.4h0M863.2 203.4h0M863.7 203.3h0M873.6 202.7h0M874.6 207.2h0M854.2 206.8h0M854.2 207.2h0M881.3 190.3h0M875.5 193.5h0M875.5 194.4h0M859.9 206.0h0M881.7 194.5h0M881.9 194.7h0M875.4 182.4h0M875.6 184.1h0M875.2 185.0h0M875.4 187.6h0M875.2 187.2h0M865.9 193.3h0M865.6 198.2h0M866.4 198.6h0M866.2 199.3h0M866.4 203.0h0M865.7 199.6h0M855.7 194.3h0M855.2 196.4h0M855.9 202.7h0M871.5 204.5h0M877.3 200.5h0M853.5 206.4h0M853.6 207.0h0M869.8 203.7h0M869.9 204.2h0M870.6 203.5h0M874.2 199.0h0M874.1 206.3h0M874.2 204.0h0M874.0 202.4h0M876.3 206.4h0M878.9 199.3h0M878.6 205.1h0M881.2 199.4h0M881.4 206.0h0M871.1 200.6h0M871.1 203.1h0M870.7 202.3h0M865.3 205.9h0M865.3 206.8h0M875.6 193.5h0M875.6 200.7h0M875.1 207.1h0M867.9 200.8h0M867.4 205.4h0M859.0 199.4h0M859.1 203.6h0M863.7 183.8h0M863.8 192.1h0M864.0 192.6h0M879.1 204.0h0M858.1 206.7h0M858.4 207.4h0M873.5 187.1h0M880.2 207.3h0M862.5 205.8h0M879.4 200.0h0M879.3 205.5h0M879.4 205.0h0M866.7 206.3h0M868.0 202.4h0M867.8 203.8h0M873.9 199.1h0M873.8 206.4h0M872.1 202.5h0M872.3 206.0h0M856.8 205.2h0M856.6 207.4h0M863.7 204.8h0M868.5 200.6h0M856.4 204.4h0M854.6 206.3h0M866.9 191.6h0M856.6 204.3h0M857.1 207.4h0M878.2 206.4h0M879.3 206.4h0M872.7 206.8h0M870.2 181.5h0M868.5 189.8h0M879.0 194.8h0M854.4 191.5h0M854.0 192.3h0M855.0 195.9h0M863.7 200.8h0M863.6 206.3h0M875.9 195.7h0M876.0 203.9h0M882.5 205.0h0M872.2 205.5h0M867.2 204.4h0M867.0 203.5h0M866.8 205.3h0M867.1 204.7h0M863.7 196.9h0M872.9 206.9h0M880.8 202.6h0M870.0 186.8h0M864.1 193.8h0M864.4 204.6h0M864.0 197.0h0M854.9 201.9h0M874.5 202.2h0M858.7 199.8h0M859.0 200.1h0M858.3 202.8h0M853.6 204.4h0M853.8 206.4h0M853.7 206.8h0M865.0 206.1h0M864.8 206.3h0M880.2 182.1h0M880.8 183.6h0M879.6 186.6h0M880.1 187.3h0M861.7 193.2h0M877.6 201.2h0M878.4 195.4h0M869.7 203.9h0M871.7 206.6h0M864.8 198.8h0M864.5 205.9h0M865.4 207.3h0M877.4 203.7h0M853.6 204.9h0M876.2 198.8h0M876.1 202.9h0M876.5 205.1h0M865.4 204.9h0M865.8 207.2h0M870.9 189.7h0M871.1 190.9h0M870.3 202.5h0M870.6 205.1h0M877.4 196.3h0M860.0 205.9h0M864.5 201.3h0M864.2 202.0h0M880.1 205.1h0M862.5 196.3h0M872.6 187.3h0M853.3 206.0h0M853.4 206.7h0M880.1 206.4h0M878.3 203.5h0M878.3 207.2h0M854.8 203.8h0M854.3 206.7h0M855.3 205.9h0M867.3 185.9h0M867.1 187.0h0M858.7 202.6h0M858.9 204.6h0M863.0 202.3h0M862.9 204.6h0M866.9 201.6h0M867.0 206.8h0M879.3 205.4h0M868.0 198.9h0M872.5 205.1h0M872.5 205.1h0M856.5 188.1h0M856.5 188.8h0M856.9 196.3h0M865.4 200.1h0M865.4 203.4h0M865.9 205.3h0M865.1 206.1h0M853.7 204.7h0M853.6 207.4h0M858.4 203.5h0M858.2 203.9h0M858.3 204.9h0M864.1 203.5h0M864.5 206.2h0M866.6 206.9h0M872.8 201.7h0M872.8 203.1h0M859.5 198.5h0M871.8 206.6h0M860.3 206.5h0M869.4 196.0h0M869.7 196.5h0M876.4 206.6h0M876.6 190.0h0M876.7 191.5h0M876.4 194.8h0M876.7 200.1h0M876.5 205.7h0M877.0 195.3h0M861.0 198.4h0M861.4 199.0h0M864.2 197.7h0M856.1 203.3h0M882.2 192.3h0M882.0 196.7h0M882.4 197.4h0M882.5 192.6h0M879.9 200.3h0M880.1 207.1h0M877.2 207.3h0M873.8 199.7h0M854.5 206.8h0M859.4 206.8h0M861.1 203.2h0M861.4 204.5h0M873.4 183.1h0M872.7 189.9h0M873.3 198.1h0M873.4 190.2h0M881.2 198.0h0M881.2 202.0h0M880.9 199.7h0M881.0 207.1h0M867.9 187.8h0M867.5 190.9h0M863.7 203.8h0M864.1 205.7h0M874.5 200.3h0M874.1 200.5h0M878.0 197.5h0M864.2 203.4h0M864.5 205.3h0M859.7 197.3h0M859.6 205.7h0M859.8 202.1h0M881.2 206.0h0M874.9 203.4h0M871.2 205.5h0M870.9 207.1h0M870.1 207.3h0M863.3 197.2h0M862.8 197.7h0M863.2 205.9h0M874.3 206.1h0M875.1 203.2h0M874.9 203.6h0M874.7 204.8h0M879.9 192.5h0M880.2 194.2h0M865.4 202.6h0M865.4 205.5h0M873.6 207.2h0M860.3 198.4h0M860.3 201.1h0M877.6 206.4h0M864.5 203.5h0M873.1 187.5h0M873.2 192.5h0M872.7 195.1h0M865.7 201.2h0M865.5 204.8h0M862.1 205.9h0M853.9 188.5h0M853.8 203.1h0M869.5 194.8h0M1028.7 209.0h0M1037.1 200.1h0M1042.9 205.1h0M1066.7 199.6h0M1016.0 191.1h0M1015.4 203.8h0M1016.4 192.9h0M1066.9 205.3h0M1018.3 182.8h0M1018.4 186.8h0M1018.4 183.8h0M1048.6 209.9h0M1040.5 209.1h0M1012.7 206.5h0M1013.0 207.4h0M1025.6 207.8h0M1063.4 209.8h0M1039.5 200.4h0M1039.2 201.7h0M1039.4 205.6h0M1039.4 201.9h0M1069.6 202.0h0M1069.5 209.5h0M1037.6 205.2h0M1067.6 206.6h0M1050.9 208.2h0M1065.5 198.8h0M1065.3 199.5h0M1071.1 197.5h0M1070.5 198.0h0M1071.2 206.3h0M1063.4 209.3h0M1034.0 193.6h0M1033.8 196.2h0M1033.7 196.2h0M1048.7 207.0h0M1048.6 208.0h0M1044.1 209.1h0M1065.7 203.3h0M1065.7 205.3h0M1065.0 203.0h0M1064.6 206.0h0M1065.3 205.0h0M1064.9 204.2h0M1061.0 204.3h0M1061.1 208.0h0M1060.8 207.0h0M1031.7 206.2h0M1031.7 206.9h0M1016.0 204.3h0M1055.4 204.5h0M1055.2 209.0h0M1047.0 207.7h0M1046.9 209.7h0M1055.9 202.8h0M1055.8 204.7h0M1029.6 185.4h0M1029.3 194.7h0M1030.2 197.0h0M1031.7 202.2h0M1031.8 204.8h0M1031.5 205.7h0M1071.6 206.4h0M1029.7 209.2h0M1045.0 198.2h0M1044.9 209.2h0M1066.4 206.1h0M1023.6 205.2h0M1023.3 207.2h0M1023.4 209.1h0M1023.3 207.8h0M1061.3 201.6h0M1068.6 204.7h0M1062.9 206.4h0M1051.6 199.0h0M1055.7 204.6h0M1038.9 201.4h0M1038.5 206.7h0M1039.3 204.5h0M1035.6 206.3h0M1029.6 207.7h0M1016.0 210.0h0M1070.5 207.1h0M1070.2 207.3h0M1039.6 209.0h0M1040.0 209.8h0M1059.2 208.3h0M1059.3 208.8h0M1029.5 201.7h0M1029.8 203.8h0M1039.3 195.8h0M1047.9 209.6h0M1063.4 208.7h0M1043.4 209.0h0M1070.0 198.1h0M1035.2 209.6h0M1014.1 204.1h0M1014.0 209.2h0M1014.3 195.3h0M1060.1 209.5h0M1066.1 194.3h0M1065.5 198.5h0M1064.6 208.8h0M1022.9 201.9h0M1022.8 209.0h0M1011.8 205.0h0M1050.4 208.9h0M1067.5 190.0h0M1067.4 190.4h0M1017.4 184.2h0M1017.7 206.1h0M1017.0 185.5h0M1017.2 184.3h0M1017.3 198.0h0M1065.4 204.3h0M1065.3 206.8h0M1055.1 205.8h0M1055.3 205.9h0M1038.9 205.9h0M1021.5 209.6h0M1059.2 209.4h0M1051.0 201.4h0M1051.0 203.4h0M1058.4 199.4h0M1053.3 207.4h0M1013.4 207.1h0M1055.8 208.9h0M1066.2 209.4h0M1034.6 192.0h0M1034.7 200.9h0M1034.5 202.7h0M1034.9 193.0h0M1034.8 192.6h0M1034.7 199.0h0M1012.6 207.0h0M1012.7 207.9h0M1034.7 208.1h0M1042.0 209.4h0M1023.7 195.6h0M1023.7 198.0h0M1035.2 202.8h0M1017.8 206.0h0M1053.7 202.0h0M1053.4 209.2h0M1053.5 203.9h0M1036.2 207.8h0M1036.0 208.9h0M1045.2 199.8h0M1033.6 198.5h0M1060.8 202.3h0M1060.8 206.9h0M1013.1 206.5h0M1018.7 209.1h0M1018.9 209.3h0M1019.0 206.9h0M1034.4 208.4h0M1060.8 207.5h0M1038.8 200.0h0M1054.1 182.8h0M1054.2 198.6h0M1054.0 197.5h0M1054.8 204.0h0M1044.4 198.9h0M1044.6 209.1h0M1038.8 194.4h0M1038.8 194.4h0M1023.6 199.3h0M1023.8 204.5h0M1037.3 205.2h0M1037.8 205.9h0M1033.2 208.1h0M1064.4 208.6h0M1063.7 209.7h0M1064.3 209.7h0M1054.9 199.8h0M1054.7 203.8h0M1054.7 205.8h0M1055.4 200.4h0M1071.4 209.2h0M1045.2 205.9h0M1045.7 207.2h0M1057.5 196.2h0M1057.5 206.7h0M1057.5 204.1h0M1054.5 201.5h0M1054.7 206.8h0M1059.5 209.8h0M1059.3 209.9h0M1065.5 203.8h0M1065.3 205.5h0M1034.0 207.2h0M1016.1 210.0h0M1028.5 204.1h0M1051.6 198.2h0M1061.5 193.7h0M1071.9 199.2h0M1063.9 202.4h0M1029.9 204.8h0M1030.2 204.9h0M1040.1 208.0h0M1033.4 192.4h0M1034.1 193.7h0M1034.3 202.7h0M1033.5 208.4h0M1054.2 208.7h0M1027.7 208.3h0M1027.8 208.4h0M1030.5 205.4h0M1030.4 206.9h0M1030.3 208.9h0M1015.1 191.2h0M1037.3 200.1h0M1037.3 208.9h0M1036.7 201.0h0M1054.7 198.9h0M1054.8 201.5h0M1054.6 206.3h0M1059.2 207.6h0M1066.2 202.8h0M1066.6 204.9h0M1066.5 208.5h0M1059.0 200.8h0M1033.7 203.2h0M1040.3 201.3h0M1039.8 204.8h0M1040.8 202.6h0M1049.7 199.3h0M1050.1 202.2h0M1059.8 200.0h0M1059.3 208.6h0M1012.0 200.5h0M1011.7 207.8h0M1031.9 209.7h0M1018.1 204.9h0M1060.5 208.5h0M1021.8 206.2h0M1068.6 201.4h0M1068.6 202.8h0M1044.3 207.7h0M1044.3 209.0h0M1044.7 208.0h0M1044.2 208.3h0M1058.4 202.2h0M1058.1 202.4h0M1052.5 209.4h0M1049.6 193.5h0M1050.1 195.5h0M1049.4 194.8h0M1064.6 204.7h0M1055.5 184.7h0M1055.6 191.5h0M1055.6 187.8h0M1055.8 186.4h0M1055.6 187.0h0M1047.6 209.3h0M1022.5 200.5h0M1071.1 203.5h0M1071.0 207.0h0M1071.7 208.2h0M1058.7 209.3h0M1034.8 207.9h0M1061.6 208.3h0M1060.6 198.1h0M1036.7 200.8h0M1036.3 201.7h0M1058.8 208.0h0M1047.0 208.3h0M1018.3 186.8h0M1018.4 203.3h0M1018.0 196.7h0M1025.1 200.6h0M1025.2 207.5h0M1025.2 202.7h0M1019.9 195.1h0M1019.7 195.5h0M1019.7 201.1h0M1044.1 204.5h0M1044.1 209.3h0M1039.7 193.0h0M1039.7 206.1h0M1023.1 197.9h0M1023.3 207.1h0M1062.3 203.3h0M1051.5 209.9h0M1062.5 206.1h0M1047.7 194.6h0M1047.5 198.0h0M1017.4 206.8h0M1026.0 196.4h0M1026.1 203.9h0M1041.4 208.4h0M1027.0 190.6h0M1026.9 197.6h0M1027.6 205.9h0M1013.8 206.7h0M1072.9 190.9h0M1011.5 208.8h0M1060.0 207.1h0M1036.2 209.4h0M1051.4 191.4h0M1050.9 199.3h0M1018.0 207.2h0M1064.5 202.2h0M1064.2 203.5h0M1064.7 205.1h0M1021.3 207.0h0M1021.0 209.0h0M1021.6 208.6h0M1021.5 209.0h0M1069.3 202.0h0M1068.7 205.6h0M1059.5 200.4h0M1014.6 199.4h0M1014.4 208.1h0M1014.0 202.1h0M1040.1 206.3h0M1040.4 208.4h0M1014.8 205.6h0M1052.5 204.4h0M1038.8 205.9h0M1038.6 209.4h0M1013.4 208.5h0M1057.2 196.2h0M1055.8 206.4h0M1055.4 208.8h0M1055.7 206.9h0M1056.1 207.5h0M1056.0 207.8h0M1055.9 208.8h0M1026.5 208.4h0M1036.6 209.8h0M1049.0 208.8h0M1037.1 198.8h0M1037.1 204.9h0M1037.3 201.3h0M1020.2 208.1h0M1013.4 202.7h0M1038.9 209.3h0M1045.0 188.0h0M1044.7 205.0h0M1015.2 183.0h0M1015.7 198.4h0M1014.5 187.5h0M1070.0 209.4h0M1021.6 206.8h0M1021.6 208.4h0M1050.4 208.9h0M1050.5 209.6h0M1057.2 202.1h0M1056.7 205.3h0M1067.7 208.5h0M1060.6 205.3h0M1017.8 208.9h0M1039.1 200.4h0M1063.6 198.7h0M1036.1 209.4h0M1036.3 209.4h0M1068.4 207.9h0M1036.8 206.8h0M1025.7 195.3h0M1026.4 201.0h0M1025.3 196.0h0M1025.7 199.7h0M1071.5 208.8h0M1071.9 209.9h0M1030.8 208.6h0M1049.5 208.8h0M1017.1 206.5h0M1020.7 203.0h0M1020.6 204.0h0M1055.6 206.3h0M1029.9 202.3h0M1023.3 197.0h0M1023.5 198.3h0M1022.9 206.8h0M1023.1 197.6h0M1065.7 209.9h0M1033.3 208.9h0M1021.8 197.6h0M1022.3 205.2h0M1022.1 203.7h0M1021.4 203.2h0M1021.4 200.1h0M1020.9 209.2h0M1052.7 209.4h0M1060.6 208.3h0M1027.2 208.7h0M1027.4 209.1h0M1047.5 196.5h0M1047.2 200.9h0M1047.7 206.1h0M1047.3 199.3h0M1068.7 186.4h0M1069.3 188.0h0M1022.2 208.6h0M1022.3 209.4h0M1041.0 194.1h0M1041.0 198.6h0M1015.6 201.5h0M1015.5 209.5h0M1015.3 206.4h0M1034.7 192.4h0M1034.6 196.3h0M1034.8 197.4h0M1057.1 203.9h0M1057.0 206.8h0M1057.3 204.5h0M1056.5 209.7h0M1046.2 204.1h0M1019.8 205.3h0M1020.3 206.5h0M1012.1 209.3h0M1011.9 210.0h0M1031.3 206.7h0M1011.6 207.7h0M1048.3 203.3h0M1030.7 203.6h0M1031.2 209.1h0M1034.5 208.1h0M1030.1 208.9h0M1033.1 203.8h0M1033.3 209.2h0M1052.1 209.2h0M1049.2 202.9h0M1049.5 207.5h0M1054.6 207.7h0M1055.1 208.1h0M1072.8 207.3h0M1018.6 205.5h0M1018.3 205.6h0M1018.8 205.9h0M1039.9 198.9h0M1040.3 199.5h0M1055.1 183.7h0M1055.1 192.2h0M1013.3 203.4h0M1013.3 207.1h0M1013.4 203.7h0M1046.3 208.0h0M1046.1 208.0h0M1049.9 208.4h0M1049.9 199.6h0M1038.9 206.7h0M1039.3 206.7h0M1029.9 199.7h0M1029.8 200.6h0M1030.0 207.4h0M1030.5 204.3h0M1056.4 196.1h0M1056.3 199.8h0M1020.1 202.4h0M1020.8 204.0h0M1019.7 204.5h0M1031.5 199.4h0M1031.6 201.6h0M1034.0 209.0h0M1012.2 202.5h0M1012.2 203.6h0M1012.0 204.4h0M1012.2 202.8h0M1021.2 204.1h0M1012.8 205.5h0M1042.2 209.1h0M1042.4 209.7h0M1037.2 189.3h0M1037.9 190.4h0M1012.7 205.3h0M1012.4 206.6h0M1058.0 202.5h0M1058.3 204.4h0M1013.4 205.0h0M1061.0 207.2h0M1061.2 209.5h0M1061.1 209.1h0M1031.1 208.0h0M1021.4 200.4h0M1021.3 209.1h0M1059.6 206.5h0M1059.4 207.6h0M1023.1 208.4h0M1016.3 198.9h0M1016.1 199.0h0M1046.4 205.3h0M1031.3 202.4h0M1052.7 196.2h0M1052.8 205.2h0M1069.8 192.0h0M1069.5 205.7h0M1070.2 196.1h0M1069.8 194.4h0M1046.1 185.8h0M1045.8 186.9h0M1052.1 189.6h0M1052.2 199.2h0M1052.4 193.9h0M1034.8 205.1h0M1034.8 205.9h0M1038.1 208.1h0M1067.5 207.3h0M1030.6 207.1h0M1030.5 208.1h0M1056.9 203.7h0M1056.6 204.0h0M1059.8 197.1h0M1060.0 209.2h0M1048.4 206.6h0M1040.5 209.7h0M1048.5 209.8h0M1012.0 201.6h0M1012.3 205.5h0M1039.5 202.9h0M1038.9 206.7h0M1011.7 197.8h0M1067.6 206.2h0M1054.2 208.2h0M1031.0 208.8h0M1027.8 208.8h0M1028.5 209.8h0M1019.6 208.6h0M1070.0 203.7h0M1066.4 205.2h0M1070.3 201.0h0M1070.0 201.7h0M1060.4 200.5h0M1060.6 203.1h0M1200.6 206.7h0M1209.5 202.8h0M1209.1 205.7h0M1195.5 202.7h0M1195.6 204.0h0M1195.3 203.3h0M1186.4 204.5h0M1187.6 195.8h0M1187.7 205.4h0M1207.8 200.0h0M1208.3 200.9h0M1188.5 197.6h0M1188.7 200.3h0M1195.6 204.7h0M1217.2 188.7h0M1217.6 195.1h0M1217.5 194.7h0M1217.3 189.8h0M1193.3 205.3h0M1193.7 206.1h0M1198.7 204.5h0M1198.3 206.2h0M1191.5 207.5h0M1201.0 198.3h0M1201.0 198.8h0M1200.9 200.6h0M1216.2 191.8h0M1216.5 199.6h0M1216.4 194.1h0M1216.2 200.7h0M1199.0 204.6h0M1213.5 199.0h0M1213.4 200.1h0M1214.1 199.2h0M1213.8 203.7h0M1191.7 202.2h0M1191.3 203.3h0M1191.6 203.4h0M1187.9 207.2h0M1188.4 207.7h0M1188.8 192.0h0M1188.3 192.3h0M1188.7 193.3h0M1208.7 204.1h0M1208.5 205.8h0M1193.8 196.5h0M1193.5 197.0h0M1217.6 205.3h0M1192.9 203.8h0M1193.0 206.6h0M1193.1 205.6h0M1201.4 207.5h0M1199.7 200.5h0M1199.7 204.9h0M1214.9 206.2h0M1215.2 207.6h0M1187.8 204.2h0M1197.2 191.8h0M1197.3 204.8h0M1197.0 194.6h0M1210.9 200.3h0M1211.2 202.9h0M1211.3 203.6h0M1208.3 197.0h0M1208.4 197.8h0M1200.8 195.5h0M1204.9 197.8h0M1204.7 199.0h0M1215.6 189.4h0M1215.8 195.1h0M1208.0 205.1h0M1207.9 205.4h0M1200.0 194.4h0M1214.0 199.2h0M1193.1 205.1h0M1192.9 205.3h0M1194.0 201.8h0M1194.5 202.1h0M1188.5 206.9h0M1189.8 207.7h0M1193.9 203.8h0M1207.5 204.1h0M1206.9 206.8h0M1209.0 206.7h0M1209.3 207.7h0M1191.9 207.8h0M1213.9 195.4h0M1213.9 195.5h0M1203.2 186.4h0M1202.7 186.8h0M1206.1 181.3h0M1187.1 204.7h0M1187.0 207.1h0M1209.1 199.8h0M1209.0 201.2h0M1197.8 206.7h0M1197.6 207.1h0M1187.9 206.0h0M1206.1 203.9h0M1205.6 205.4h0M1205.7 206.2h0M1196.6 204.3h0M1196.8 206.0h0M1196.7 205.7h0M1194.4 187.0h0M1198.8 184.9h0M1198.9 190.8h0M1199.2 186.3h0M1198.9 187.1h0M1189.4 206.5h0M1189.6 206.7h0M1206.9 202.4h0M1215.6 201.5h0M1212.5 203.9h0M1215.2 207.0h0M1212.0 205.5h0M1210.6 203.9h0M1210.7 207.6h0M1210.7 204.4h0M1210.5 206.4h0M1212.9 205.0h0M1213.6 185.9h0M1213.3 188.3h0M1213.7 190.5h0M1213.8 195.0h0M1213.6 204.1h0M1213.4 191.3h0M1189.8 195.3h0M1189.6 206.6h0M1187.0 204.7h0M1200.3 207.2h0M1191.9 198.7h0M1191.1 204.6h0M1217.9 202.5h0M1218.2 204.2h0M1218.1 203.7h0M1206.4 205.9h0M1217.1 203.7h0M1198.3 195.2h0M1198.2 205.0h0M1198.3 195.6h0M1198.3 198.4h0M1201.1 184.5h0M1201.6 185.3h0M1201.1 192.2h0M1189.6 202.1h0M1189.5 204.7h0M1189.6 202.2h0M1197.2 205.1h0M1215.0 198.9h0M1215.0 208.0h0M1215.2 203.9h0M1191.0 206.9h0M1218.2 207.2h0M1210.2 191.1h0M1209.4 196.6h0M1189.2 198.7h0M1212.6 198.9h0M1198.0 207.4h0M1201.6 186.0h0M1201.7 187.8h0M1200.9 186.3h0M1193.3 204.0h0M1215.2 205.0h0M1192.4 185.0h0M1192.6 205.7h0M1192.7 185.7h0M1192.1 186.9h0M1197.9 189.8h0M1198.3 192.4h0M1215.3 203.6h0M1215.2 206.4h0M1188.6 189.3h0M1188.6 191.8h0M1220.4 201.1h0M1220.3 201.6h0M1220.5 201.6h0M1191.9 199.2h0M1201.5 202.8h0M1201.7 203.1h0M1191.1 200.3h0M1203.0 205.2h0M1212.1 201.3h0M1211.8 202.4h0M1211.8 207.7h0M1206.3 205.9h0M1202.0 206.7h0M1187.4 203.5h0M1187.4 204.5h0M1190.7 189.3h0M1189.0 189.9h0M1188.8 192.7h0M1188.8 199.3h0M1193.8 202.7h0M1188.2 203.4h0M1188.2 204.7h0M1188.5 206.2h0M1208.1 206.6h0M1207.9 206.7h0M1199.1 202.5h0M1218.4 202.8h0M1188.1 202.8h0M1194.3 202.4h0M1194.6 203.8h0M1206.2 204.4h0M1197.8 184.0h0M1197.8 203.3h0M1198.2 186.0h0M1197.8 192.0h0M1213.7 205.2h0M1193.1 204.3h0M1206.9 200.2h0M1206.2 207.0h0M1207.5 201.7h0M1206.6 201.1h0M1199.6 206.3h0M1208.7 202.3h0M1208.9 206.8h0M1217.5 182.6h0M1194.9 202.2h0M1194.4 205.0h0M1215.9 201.1h0M1207.3 199.5h0M1207.3 203.3h0M1206.6 204.4h0M1188.2 197.3h0M1190.9 206.1h0M1201.1 207.9h0M1216.0 203.5h0M1187.6 200.3h0M1188.1 201.1h0M1188.0 203.7h0M1187.8 200.8h0M1214.7 196.8h0M1214.8 204.7h0M1215.1 199.5h0M1214.5 197.8h0M1214.8 201.5h0M1219.6 203.4h0M1206.5 189.0h0M1212.6 204.6h0M1212.6 206.7h0M1216.8 204.9h0M1191.2 207.2h0M1188.9 191.7h0M1188.5 192.5h0M1188.9 195.3h0M1213.1 205.8h0M1212.9 207.5h0M1202.4 197.1h0M1202.7 204.1h0M1218.0 207.6h0M1197.9 193.6h0M1197.8 194.6h0M1197.0 197.6h0M1197.7 196.5h0M1197.8 200.2h0M1211.1 204.7h0M1208.4 202.3h0M1220.1 208.0h0M1213.5 204.4h0M1205.1 185.3h0M1205.3 188.2h0M1202.1 195.6h0M1202.0 202.9h0M1202.2 196.0h0M1202.9 201.4h0M1215.9 201.6h0M1215.6 201.7h0M1215.9 204.9h0M1187.6 207.5h0M1197.8 186.1h0M1203.3 195.9h0M1203.0 195.9h0M1203.2 205.0h0M1202.9 197.1h0M1186.4 200.2h0M1186.2 203.0h0M1199.8 204.3h0M1200.0 205.3h0M1201.2 205.7h0M1209.5 192.7h0M1209.2 192.9h0M1209.8 195.0h0M1218.4 206.0h0M1197.4 202.3h0M1198.0 207.5h0M1197.3 203.6h0M1210.6 207.2h0M1210.5 207.4h0M1214.6 197.2h0M1214.8 199.7h0M1214.4 199.4h0M1213.9 198.2h0M1214.7 203.0h0M1214.7 205.0h0M1192.3 202.4h0M1218.1 206.7h0M1186.5 203.7h0M1211.3 201.1h0M1211.2 202.3h0M1211.3 202.4h0M1203.6 203.7h0M1203.8 204.5h0M1203.1 204.0h0M1195.8 206.0h0M1213.5 193.9h0M1213.6 205.7h0M1213.7 195.9h0M1189.2 189.8h0M1209.3 192.9h0M1209.3 197.4h0M1220.5 201.0h0M1194.1 202.8h0M1193.8 206.5h0M1194.0 205.4h0M1191.8 204.8h0M1186.9 207.3h0M1189.9 202.6h0M1190.3 207.0h0M1189.8 204.8h0M1197.4 193.5h0M1197.1 193.9h0M1196.8 194.4h0M1197.6 196.5h0M1204.1 206.2h0M1188.4 193.4h0M1188.8 196.2h0M1188.8 198.2h0M1203.1 195.9h0M1199.5 204.9h0M1207.6 203.7h0M1220.1 195.1h0M1220.3 206.9h0M1220.1 189.4h0M1220.4 200.3h0M1191.7 207.0h0M1191.1 207.8h0M1208.1 197.0h0M1207.4 197.3h0M1208.2 201.2h0M1208.1 198.5h0M1318.4 205.2h0M1318.0 206.8h0M1308.4 207.1h0M1328.6 204.0h0M1308.1 201.8h0M1308.1 205.1h0M1306.5 183.6h0M1318.1 191.2h0M1318.5 198.5h0M1317.9 205.4h0M1308.7 200.2h0M1308.6 208.5h0M1308.9 203.8h0M1328.2 208.2h0M1304.3 208.9h0M1308.9 200.6h0M1326.5 188.3h0M1325.9 194.4h0M1326.6 195.9h0M1326.8 189.4h0M1331.4 206.1h0M1314.1 195.1h0M1314.5 196.2h0M1330.6 193.4h0M1330.3 204.3h0M1330.6 203.4h0M1319.2 204.2h0M1319.3 205.8h0M1314.8 203.7h0M1333.3 207.7h0M1321.7 195.7h0M1322.2 197.5h0M1326.5 192.3h0M1326.0 200.4h0M1326.3 207.5h0M1326.6 198.4h0M1326.3 204.7h0M1326.3 207.9h0M1307.0 198.6h0M1307.2 206.8h0M1318.3 208.6h0M1306.9 192.4h0M1306.6 199.1h0M1306.9 199.5h0M1316.6 209.0h0M1334.0 196.8h0M1334.4 200.6h0M1334.2 205.0h0M1336.3 205.3h0M1336.6 207.5h0M1309.4 203.7h0M1314.1 208.3h0M1327.4 199.1h0M1327.8 200.1h0M1321.3 208.0h0M1314.8 194.7h0M1314.9 203.0h0M1314.7 201.3h0M1334.5 199.9h0M1333.0 207.4h0M1332.6 209.1h0M1328.9 189.0h0M1328.7 189.3h0M1329.4 197.7h0M1311.1 202.0h0M1311.4 208.5h0M1330.2 186.7h0M1330.4 190.8h0M1330.3 187.8h0M1312.3 205.0h0M1312.1 205.4h0M1312.2 207.6h0M1312.0 206.6h0M1332.2 195.5h0M1305.7 202.8h0M1306.0 207.0h0M1314.2 209.1h0M1314.2 206.9h0M1322.8 208.0h0M1314.8 199.1h0M1315.0 202.2h0M1316.9 202.9h0M1316.8 203.6h0M1316.5 203.1h0M1334.0 198.8h0M1333.2 204.8h0M1333.0 205.7h0M1306.0 208.2h0M1305.1 196.2h0M1305.3 208.6h0M1317.3 199.9h0M1317.0 200.8h0M1312.6 205.1h0M1304.8 207.6h0M1329.7 204.8h0M1308.5 204.6h0M1308.8 209.1h0M1318.6 200.4h0M1328.4 197.8h0M1328.4 202.7h0M1321.1 191.2h0M1320.9 194.0h0M1313.5 208.9h0M1328.9 181.0h0M1328.7 198.0h0M1318.9 203.8h0M1318.7 208.1h0M1318.9 208.5h0M1318.8 205.0h0M1323.2 184.9h0M1323.8 189.3h0M1323.1 187.4h0M1323.0 204.2h0M1316.1 201.1h0M1316.3 201.5h0M1326.3 203.6h0M1327.0 206.5h0M1335.6 197.1h0M1335.8 199.3h0M1335.8 199.9h0M1314.6 207.1h0M1327.4 196.6h0M1327.1 198.7h0M1327.3 203.6h0M1314.7 187.4h0M1315.1 188.2h0M1326.4 199.1h0M1326.3 199.2h0M1308.0 207.0h0M1308.1 206.6h0M1327.8 208.9h0M1324.2 205.3h0M1308.1 195.6h0M1307.9 201.5h0M1308.2 197.1h0M1306.2 206.0h0M1306.3 206.5h0M1327.1 207.4h0M1327.5 208.8h0M1327.1 208.0h0M1325.1 195.2h0M1318.7 208.9h0M1318.5 209.1h0M1311.2 206.1h0M1311.9 208.1h0M1312.6 197.5h0M1323.5 197.5h0M1325.2 196.9h0M1325.7 205.3h0M1325.0 198.2h0M1312.4 206.6h0M1322.6 202.6h0M1319.2 206.3h0M1319.4 208.7h0M1312.0 208.6h0M1322.8 208.4h0M1313.7 203.3h0M1313.4 204.5h0M1305.9 201.4h0M1335.4 200.8h0M1332.0 195.8h0M1332.2 201.1h0M1331.3 199.0h0M1332.0 200.6h0M1316.8 198.8h0M1322.6 203.4h0M1314.6 207.6h0M1314.1 208.8h0M1305.5 199.5h0M1329.3 208.6h0M1322.1 201.2h0M1314.2 201.4h0M1306.3 208.4h0M1312.4 207.5h0M1318.3 193.8h0M1317.8 203.2h0M1333.1 209.0h0M1304.1 205.6h0M1303.9 208.3h0M1311.4 204.3h0M1335.8 202.2h0M1332.0 202.5h0M1331.9 202.6h0M1327.4 206.7h0M1327.4 208.4h0M1327.1 208.5h0M1313.8 199.3h0M1324.1 201.7h0M1323.9 206.0h0M1304.8 202.2h0M1305.3 202.8h0M1312.7 200.1h0M1312.8 204.2h0M1312.7 208.8h0M1320.6 208.3h0M1321.2 206.8h0M1321.1 208.0h0M1321.0 206.9h0M1328.9 208.0h0M1328.7 208.4h0M1307.3 194.8h0M1306.9 196.9h0M1307.0 202.5h0M1320.3 206.3h0M1319.6 207.3h0M1318.3 204.4h0M1318.8 208.3h0M1318.1 193.3h0M1317.9 203.5h0M1332.7 197.4h0M1332.8 199.0h0M1315.8 201.1h0M1329.8 206.8h0M1331.1 181.6h0M1330.9 187.0h0M1331.2 188.7h0M1324.3 209.1h0M1311.2 208.0h0M1315.7 200.0h0M1315.7 208.9h0M1315.7 194.8h0M1315.5 205.4h0M1335.0 199.7h0M1334.6 203.1h0M1334.4 205.1h0M1335.2 207.1h0M1309.2 207.6h0M1329.9 199.0h0M1317.3 206.2h0M1326.3 208.0h0M1304.6 192.2h0M1304.8 209.0h0M1326.0 202.3h0M1326.2 205.7h0M1312.5 196.4h0M1329.5 200.9h0M1329.5 201.7h0M1333.3 208.9h0M1305.7 206.9h0M1305.6 208.1h0M1321.1 208.1h0M1304.6 198.5h0M1305.1 200.2h0M1304.6 203.2h0M1324.0 196.9h0M1323.8 197.1h0M1323.5 198.8h0M1323.8 197.0h0M1335.0 196.5h0M1335.0 206.6h0M1334.8 201.1h0M1306.8 199.5h0M1306.8 206.0h0M1309.3 202.8h0M1311.8 199.2h0M1312.0 199.3h0M1311.9 203.3h0M1312.0 205.9h0M1306.9 206.6h0M1335.1 197.5h0M1335.5 199.6h0M1323.4 209.1h0M1318.6 199.0h0M1313.1 200.9h0M1313.3 207.8h0M1313.7 195.6h0M1314.0 199.7h0M1313.8 206.5h0M1331.4 208.8h0M1331.1 209.0h0M1325.5 208.4h0M1321.0 206.2h0M1320.5 207.8h0M1315.5 208.1h0M1316.8 205.7h0M1316.7 207.4h0M1332.2 204.5h0M1325.1 203.4h0M1317.5 208.5h0M1312.8 207.9h0M1313.1 207.9h0M1316.4 204.0h0M1306.4 203.9h0M1308.2 200.8h0M1321.5 197.5h0M1321.7 197.9h0M1325.9 200.4h0M1326.9 208.8h0M1334.0 190.5h0M1333.7 196.2h0M1334.2 192.7h0M1330.0 197.5h0M1329.8 203.4h0M1330.0 201.7h0M1330.1 201.1h0M1330.0 207.3h0M1330.1 199.9h0M1318.6 209.0h0M1316.0 208.3h0M1315.6 201.9h0M1321.8 195.9h0M1321.8 199.7h0M1321.9 196.2h0M1329.5 208.7h0M1311.6 182.0h0M1312.0 186.6h0M1334.5 205.8h0M1334.4 207.8h0M1307.9 196.5h0M1307.3 197.8h0M1307.5 203.2h0M1307.4 197.7h0M1308.4 203.0h0M1310.1 203.1h0M1322.6 203.8h0M1322.8 207.4h0M1323.1 205.5h0M1414.2 204.1h0M1414.4 205.2h0M1416.5 206.8h0M1414.3 205.3h0M1413.7 206.5h0M1413.9 208.6h0M1404.8 199.4h0M1404.7 202.5h0M1404.7 200.3h0M1405.2 204.3h0M1412.8 207.7h0M1414.6 205.8h0M1414.5 206.9h0M1414.7 207.2h0M1405.7 207.4h0M1411.9 205.8h0M1410.3 200.9h0M1410.3 204.9h0M1404.9 201.5h0M1405.5 208.1h0M1404.6 205.2h0M1414.7 206.6h0M1414.9 206.9h0M1416.8 203.5h0M1412.3 200.0h0M1412.4 200.9h0M1417.1 196.7h0M1417.0 197.2h0M1417.2 198.3h0M1404.9 207.7h0M1409.0 189.0h0M1405.1 203.6h0M1404.7 206.4h0M1408.0 204.9h0M1418.8 198.0h0M1418.7 199.1h0M1418.9 204.9h0M1418.8 198.3h0M1407.1 206.5h0M1409.9 205.0h0M1410.0 208.5h0M1414.5 204.1h0M1414.1 204.8h0M1418.1 196.4h0M1416.3 205.3h0M1408.6 208.5h0M1408.7 203.3h0M1408.5 203.8h0M1408.4 198.0h0M1408.3 199.1h0M1408.5 208.5h0M1415.3 204.8h0M1411.3 185.0h0M1411.4 185.6h0M1405.6 202.0h0M1413.3 203.9h0M1409.0 206.5h0M1413.1 205.1h0M1407.6 208.8h0M1412.0 199.9h0M1412.3 200.2h0M1406.9 208.1h0M1406.6 208.6h0M1416.2 198.1h0M1416.6 201.1h0M1416.2 208.8h0M1416.1 192.5h0M1407.7 206.4h0M1416.8 201.3h0M1412.2 200.1h0M1407.1 205.0h0M1407.0 208.8h0M1406.9 208.8h0M1407.0 207.2h0M1406.9 205.9h0M1418.8 207.8h0M1407.3 187.7h0M1407.2 190.3h0M1407.0 189.8h0M1407.3 200.0h0M1410.9 207.6h0M1410.6 208.4h0M1419.0 195.4h0M1416.7 201.9h0M1417.0 202.4h0M1405.2 208.8h0M1413.8 188.7h0M1414.1 189.6h0M1404.8 201.2h0M1404.7 208.4h0M1404.8 203.6h0M1405.3 202.3h0M1415.1 202.9h0M1415.0 204.1h0M1413.3 207.6h0M1413.1 207.7h0M1413.5 207.5h0M1413.9 209.1h0M1411.8 206.3h0M1415.9 196.5h0M1416.4 197.4h0M1416.2 192.2h0M1416.2 208.1h0M1416.5 194.0h0M1412.5 205.6h0M1413.8 208.5h0M1408.3 206.7h0M1404.9 205.1h0M1405.0 205.5h0M1404.9 207.6h0M1407.2 204.6h0M1414.5 207.5h0M1406.2 195.6h0M1406.6 203.5h0M1406.1 197.2h0M1411.3 189.5h0M1411.0 195.4h0M1411.0 194.9h0M1411.1 207.5h0M1410.5 200.0h0M1409.2 208.3h0M1409.2 208.6h0M1409.6 208.4h0M1408.6 203.0h0M1408.7 208.5h0M1418.4 196.4h0M1418.2 198.6h0M1418.3 202.8h0M1418.6 205.1h0M1418.7 209.0h0M1413.2 196.4h0M1412.9 197.7h0M1413.2 205.0h0M1415.7 202.2h0M1409.3 205.7h0M1408.7 200.4h0M1409.0 202.8h0M1410.2 205.9h0M1405.2 197.3h0M1405.1 205.6h0M1405.2 198.9h0M1409.9 206.0h0M1410.4 202.6h0M1417.0 203.3h0M1417.4 204.4h0M1416.9 204.9h0M1405.7 199.9h0M1414.2 208.7h0M1417.9 204.7h0M1417.5 205.9h0M1405.3 202.1h0M1405.2 209.1h0M1405.7 202.5h0M1405.8 206.4h0M1416.5 207.8h0M1416.6 208.6h0M1416.7 207.3h0M1416.8 208.2h0M1409.3 205.8h0M1408.9 208.8h0M1413.3 206.2h0M1416.5 206.6h0M1416.1 199.3h0M1416.0 203.2h0M1416.2 201.1h0M421.4 111.0h0M1205.0 114.4h0M339.0 155.2h0M344.8 158.8h0M364.2 155.6h0M375.2 155.6h0M394.4 135.6h0M401.4 137.0h0M401.4 139.0h0M401.4 141.4h0M401.4 146.0h0M401.4 148.0h0M401.4 150.0h0M401.4 151.6h0M403.6 158.8h0M419.6 148.8h0M641.0 160.0h0M664.0 157.4h0M668.0 159.2h0M875.8 154.0h0M1046.0 159.4h0M1070.6 154.6h0M1070.6 158.0h0M1189.4 144.4h0M1198.0 157.6h0M1214.4 142.4h0M1214.4 144.8h0M1214.4 147.2h0M1305.0 159.2h0M1415.8 126.8h0M1416.6 147.6h0M1413.2 158.6h0M339.0 164.0h0M352.0 169.4h0M349.0 173.4h0M337.0 179.4h0M345.0 178.6h0M356.0 175.0h0M359.0 176.0h0M365.0 178.6h0M380.0 179.4h0M401.0 168.0h0M403.6 169.4h0M402.0 172.0h0M401.0 175.0h0M403.0 177.0h0M402.0 180.0h0M402.6 183.0h0M421.4 166.0h0M424.6 169.4h0M415.0 173.4h0M422.0 174.0h0M423.0 176.6h0M393.6 180.0h0M410.0 187.0h0M635.6 163.0h0M635.6 166.0h0M635.6 169.0h0M616.0 167.4h0M619.0 170.0h0M674.0 168.0h0M669.0 170.6h0M651.0 169.4h0M624.0 176.0h0M641.0 174.0h0M670.0 175.0h0M673.0 179.0h0M668.0 180.0h0M606.0 185.0h0M616.0 181.0h0M622.0 180.6h0M644.0 179.0h0M649.0 184.0h0M654.0 183.0h0M640.0 185.0h0M640.0 192.0h0M632.0 185.0h0M660.0 188.0h0M821.4 165.4h0M820.6 171.4h0M820.0 184.0h0M827.0 185.0h0M833.0 185.0h0M837.0 185.0h0M828.0 188.0h0M838.0 191.0h0M859.0 163.4h0M859.0 173.0h0M859.0 176.0h0M859.6 181.0h0M855.0 184.0h0M856.0 187.0h0M867.0 180.0h0M866.0 185.0h0M876.0 164.0h0M876.0 167.0h0M876.0 170.0h0M876.0 173.0h0M876.0 176.0h0M876.0 179.0h0M876.0 182.0h0M876.0 185.0h0M873.0 189.0h0M880.0 190.0h0M883.0 192.0h0M1070.0 164.6h0M1072.0 168.0h0M1025.6 165.0h0M1030.0 168.6h0M1054.4 171.4h0M1060.0 171.4h0M1058.0 174.0h0M1015.4 176.0h0M1040.4 176.0h0M1045.6 175.0h0M1068.0 177.4h0M1058.0 180.0h0M1020.0 183.4h0M1031.0 182.0h0M1035.0 186.0h0M1041.0 184.0h0M1043.0 185.0h0M1048.6 184.0h0M1059.0 187.0h0M1072.0 185.0h0M1072.0 189.0h0M1193.0 163.4h0M1198.0 168.0h0M1198.0 170.6h0M1214.4 167.0h0M1220.4 167.4h0M1220.4 170.0h0M1188.0 175.0h0M1205.0 172.0h0M1205.6 175.0h0M1205.6 178.0h0M1195.0 180.6h0M1190.0 184.0h0M1212.0 184.0h0M1218.0 179.0h0M1221.0 180.6h0M1306.6 170.0h0M1315.6 169.0h0M1315.0 174.0h0M1315.0 178.0h0M1331.0 173.0h0M1335.0 172.0h0M1336.6 163.0h0M1320.0 180.0h0M1318.0 185.0h0M1326.0 187.0h0M1331.0 185.0h0M1334.0 184.0h0M1336.6 182.0h0M1306.0 180.0h0M1308.0 185.0h0M1406.0 170.6h0M1416.6 169.4h0M1407.0 174.0h0M1410.0 175.6h0M1415.6 175.0h0M1406.0 179.0h0M1407.0 184.0h0M1418.0 187.0h0M1413.0 188.0h0M1404.0 192.0h0M1404.0 197.0h0M841.6 217.0h0M841.8 227.0h0M841.6 244.0h0M842.5 205.0h0" stroke="#CD6600" stroke-width="3.70" stroke-linecap="round" fill="none"/>
<path d="M263.3 170L264.8 229.0L266.3 170Z" fill="#fff"/>
<path d="M376.6 170L378.0 224.0L379.4 170Z" fill="#fff"/>
<path d="M535.0 170L537.0 220.0L539.0 170Z" fill="#fff"/>
<path d="M625.2 170L627.0 216.0L628.8 170Z" fill="#fff"/>
<path d="M657.7 170L659.0 223.0L660.3 170Z" fill="#fff"/>
<path d="M705.4 170L707.0 217.0L708.6 170Z" fill="#fff"/>
<path d="M772.0 170L774.0 217.0L776.0 170Z" fill="#fff"/>
<path d="M902.3 170L904.5 216.0L906.7 170Z" fill="#fff"/>
<path d="M970.3 170L972.5 228.0L974.7 170Z" fill="#fff"/>
<path d="M1276.3 170L1278.0 219.0L1279.7 170Z" fill="#fff"/>
<path d="M1379.5 170L1381.0 223.0L1382.5 170Z" fill="#fff"/>
<g stroke="#000" stroke-width="0.62" fill="none">
<rect x="53.45" y="4.45" width="1441.9" height="252.3"/>
<path d="M46.6 247.50H53.4" stroke-width="0.8"/>
<path d="M46.6 214.50H53.4" stroke-width="0.8"/>
<path d="M46.6 180.50H53.4" stroke-width="0.8"/>
<path d="M46.6 147.50H53.4" stroke-width="0.8"/>
<path d="M46.6 114.50H53.4" stroke-width="0.8"/>
<path d="M46.6 80.50H53.4" stroke-width="0.8"/>
<path d="M46.6 47.50H53.4" stroke-width="0.8"/>
<path d="M46.6 13.50H53.4" stroke-width="0.8"/>
<path d="M158.5 257V263.6" stroke-width="0.8"/>
<path d="M275.5 257V263.6" stroke-width="0.8"/>
<path d="M376.5 257V263.6" stroke-width="0.8"/>
<path d="M471.5 257V263.6" stroke-width="0.8"/>
<path d="M559.5 257V263.6" stroke-width="0.8"/>
<path d="M633.5 257V263.6" stroke-width="0.8"/>
<path d="M712.5 257V263.6" stroke-width="0.8"/>
<path d="M783.5 257V263.6" stroke-width="0.8"/>
<path d="M858.5 257V263.6" stroke-width="0.8"/>
<path d="M919.5 257V263.6" stroke-width="0.8"/>
<path d="M981.5 257V263.6" stroke-width="0.8"/>
<path d="M1043.5 257V263.6" stroke-width="0.8"/>
<path d="M1105.5 257V263.6" stroke-width="0.8"/>
<path d="M1156.5 257V263.6" stroke-width="0.8"/>
<path d="M1206.5 257V263.6" stroke-width="0.8"/>
<path d="M1250.5 257V263.6" stroke-width="0.8"/>
<path d="M1285.5 257V263.6" stroke-width="0.8"/>
<path d="M1323.5 257V263.6" stroke-width="0.8"/>
<path d="M1355.5 257V263.6" stroke-width="0.8"/>
<path d="M1382.5 257V263.6" stroke-width="0.8"/>
<path d="M1412.5 257V263.6" stroke-width="0.8"/>
<path d="M1435.5 257V263.6" stroke-width="0.8"/>
</g>
<g font-family="Liberation Sans, sans-serif" font-size="9.5" fill="#000" text-anchor="middle">
<text transform="translate(38.6 247.50) rotate(-90)">0</text>
<text transform="translate(38.6 214.14) rotate(-90)">2</text>
<text transform="translate(38.6 180.78) rotate(-90)">4</text>
<text transform="translate(38.6 147.42) rotate(-90)">6</text>
<text transform="translate(38.6 114.06) rotate(-90)">8</text>
<text transform="translate(38.6 80.70) rotate(-90)">10</text>
<text transform="translate(38.6 47.34) rotate(-90)">12</text>
<text transform="translate(38.6 13.98) rotate(-90)">14</text>
<text x="158.4" y="279.3">1</text>
<text x="275.4" y="279.3">2</text>
<text x="376.0" y="279.3">3</text>
<text x="471.4" y="279.3">4</text>
<text x="559.4" y="279.3">5</text>
<text x="633.4" y="279.3">6</text>
<text x="712.4" y="279.3">7</text>
<text x="783.0" y="279.3">8</text>
<text x="858.4" y="279.3">9</text>
<text x="919.0" y="279.3">10</text>
<text x="981.6" y="279.3">11</text>
<text x="1043.0" y="279.3">12</text>
<text x="1105.6" y="279.3">13</text>
<text x="1156.5" y="279.3">14</text>
<text x="1206.6" y="279.3">15</text>
<text x="1250.4" y="279.3">16</text>
<text x="1285.4" y="279.3">17</text>
<text x="1323.4" y="279.3">18</text>
<text x="1355.0" y="279.3">19</text>
<text x="1382.0" y="279.3">20</text>
<text x="1412.0" y="279.3">21</text>
<text x="1435.4" y="279.3">22</text>
</g>
<g font-family="Liberation Sans, sans-serif" font-size="10.4" fill="#000" text-anchor="middle">
<text x="774.3" y="303.8">Chromosome</text>
<text text-anchor="start" transform="translate(12.2 152.8) rotate(-90)">−<tspan dx="0.4">lo</tspan><tspan dx="0.5">g</tspan><tspan font-size="7.3" dy="2.1">10</tspan><tspan dy="-2.1" font-size="12">(</tspan><tspan font-style="italic" dx="0.6">p</tspan><tspan font-size="12" dx="0.7">)</tspan></text>
</g>
<g font-family="Liberation Sans, sans-serif" font-size="13.0">
<text x="686.6" y="21.6" fill="#000000">rs10950641</text>
<text x="428.0" y="110.0" fill="#CD6600">rs6796803</text>
<text x="1211.6" y="113.2" fill="#CD6600">rs4775319</text>
<text x="1350.0" y="104.2" fill="#000000">rs4804217</text>
</g>
</svg>
</body></html>
